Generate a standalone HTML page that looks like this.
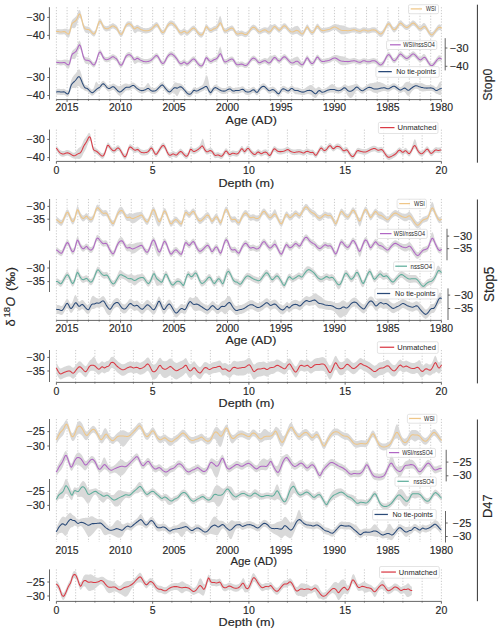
<!DOCTYPE html>
<html><head><meta charset="utf-8"><style>
html,body{margin:0;padding:0;background:#fff;}
svg{display:block;}
text{font-family:"Liberation Sans", sans-serif;stroke:#262626;stroke-width:0.15px;paint-order:stroke;}
</style></head><body>
<svg width="500" height="633" viewBox="0 0 500 633">
<rect width="500" height="633" fill="#fff"/>
<line x1="56.40" y1="7.20" x2="56.40" y2="99.60" stroke="#bdbdbd" stroke-width="0.8" stroke-dasharray="1.2,1.65"/>
<line x1="67.09" y1="7.20" x2="67.09" y2="99.60" stroke="#bdbdbd" stroke-width="0.8" stroke-dasharray="1.2,1.65"/>
<line x1="77.79" y1="7.20" x2="77.79" y2="99.60" stroke="#bdbdbd" stroke-width="0.8" stroke-dasharray="1.2,1.65"/>
<line x1="88.48" y1="7.20" x2="88.48" y2="99.60" stroke="#bdbdbd" stroke-width="0.8" stroke-dasharray="1.2,1.65"/>
<line x1="99.18" y1="7.20" x2="99.18" y2="99.60" stroke="#bdbdbd" stroke-width="0.8" stroke-dasharray="1.2,1.65"/>
<line x1="109.87" y1="7.20" x2="109.87" y2="99.60" stroke="#bdbdbd" stroke-width="0.8" stroke-dasharray="1.2,1.65"/>
<line x1="120.57" y1="7.20" x2="120.57" y2="99.60" stroke="#bdbdbd" stroke-width="0.8" stroke-dasharray="1.2,1.65"/>
<line x1="131.26" y1="7.20" x2="131.26" y2="99.60" stroke="#bdbdbd" stroke-width="0.8" stroke-dasharray="1.2,1.65"/>
<line x1="141.96" y1="7.20" x2="141.96" y2="99.60" stroke="#bdbdbd" stroke-width="0.8" stroke-dasharray="1.2,1.65"/>
<line x1="152.65" y1="7.20" x2="152.65" y2="99.60" stroke="#bdbdbd" stroke-width="0.8" stroke-dasharray="1.2,1.65"/>
<line x1="163.34" y1="7.20" x2="163.34" y2="99.60" stroke="#bdbdbd" stroke-width="0.8" stroke-dasharray="1.2,1.65"/>
<line x1="174.04" y1="7.20" x2="174.04" y2="99.60" stroke="#bdbdbd" stroke-width="0.8" stroke-dasharray="1.2,1.65"/>
<line x1="184.73" y1="7.20" x2="184.73" y2="99.60" stroke="#bdbdbd" stroke-width="0.8" stroke-dasharray="1.2,1.65"/>
<line x1="195.43" y1="7.20" x2="195.43" y2="99.60" stroke="#bdbdbd" stroke-width="0.8" stroke-dasharray="1.2,1.65"/>
<line x1="206.12" y1="7.20" x2="206.12" y2="99.60" stroke="#bdbdbd" stroke-width="0.8" stroke-dasharray="1.2,1.65"/>
<line x1="216.82" y1="7.20" x2="216.82" y2="99.60" stroke="#bdbdbd" stroke-width="0.8" stroke-dasharray="1.2,1.65"/>
<line x1="227.51" y1="7.20" x2="227.51" y2="99.60" stroke="#bdbdbd" stroke-width="0.8" stroke-dasharray="1.2,1.65"/>
<line x1="238.21" y1="7.20" x2="238.21" y2="99.60" stroke="#bdbdbd" stroke-width="0.8" stroke-dasharray="1.2,1.65"/>
<line x1="248.90" y1="7.20" x2="248.90" y2="99.60" stroke="#bdbdbd" stroke-width="0.8" stroke-dasharray="1.2,1.65"/>
<line x1="259.59" y1="7.20" x2="259.59" y2="99.60" stroke="#bdbdbd" stroke-width="0.8" stroke-dasharray="1.2,1.65"/>
<line x1="270.29" y1="7.20" x2="270.29" y2="99.60" stroke="#bdbdbd" stroke-width="0.8" stroke-dasharray="1.2,1.65"/>
<line x1="280.98" y1="7.20" x2="280.98" y2="99.60" stroke="#bdbdbd" stroke-width="0.8" stroke-dasharray="1.2,1.65"/>
<line x1="291.68" y1="7.20" x2="291.68" y2="99.60" stroke="#bdbdbd" stroke-width="0.8" stroke-dasharray="1.2,1.65"/>
<line x1="302.37" y1="7.20" x2="302.37" y2="99.60" stroke="#bdbdbd" stroke-width="0.8" stroke-dasharray="1.2,1.65"/>
<line x1="313.07" y1="7.20" x2="313.07" y2="99.60" stroke="#bdbdbd" stroke-width="0.8" stroke-dasharray="1.2,1.65"/>
<line x1="323.76" y1="7.20" x2="323.76" y2="99.60" stroke="#bdbdbd" stroke-width="0.8" stroke-dasharray="1.2,1.65"/>
<line x1="334.46" y1="7.20" x2="334.46" y2="99.60" stroke="#bdbdbd" stroke-width="0.8" stroke-dasharray="1.2,1.65"/>
<line x1="345.15" y1="7.20" x2="345.15" y2="99.60" stroke="#bdbdbd" stroke-width="0.8" stroke-dasharray="1.2,1.65"/>
<line x1="355.84" y1="7.20" x2="355.84" y2="99.60" stroke="#bdbdbd" stroke-width="0.8" stroke-dasharray="1.2,1.65"/>
<line x1="366.54" y1="7.20" x2="366.54" y2="99.60" stroke="#bdbdbd" stroke-width="0.8" stroke-dasharray="1.2,1.65"/>
<line x1="377.23" y1="7.20" x2="377.23" y2="99.60" stroke="#bdbdbd" stroke-width="0.8" stroke-dasharray="1.2,1.65"/>
<line x1="387.93" y1="7.20" x2="387.93" y2="99.60" stroke="#bdbdbd" stroke-width="0.8" stroke-dasharray="1.2,1.65"/>
<line x1="398.62" y1="7.20" x2="398.62" y2="99.60" stroke="#bdbdbd" stroke-width="0.8" stroke-dasharray="1.2,1.65"/>
<line x1="409.32" y1="7.20" x2="409.32" y2="99.60" stroke="#bdbdbd" stroke-width="0.8" stroke-dasharray="1.2,1.65"/>
<line x1="420.01" y1="7.20" x2="420.01" y2="99.60" stroke="#bdbdbd" stroke-width="0.8" stroke-dasharray="1.2,1.65"/>
<line x1="430.71" y1="7.20" x2="430.71" y2="99.60" stroke="#bdbdbd" stroke-width="0.8" stroke-dasharray="1.2,1.65"/>
<line x1="441.40" y1="7.20" x2="441.40" y2="99.60" stroke="#bdbdbd" stroke-width="0.8" stroke-dasharray="1.2,1.65"/>
<line x1="56.40" y1="129.60" x2="56.40" y2="161.40" stroke="#bdbdbd" stroke-width="0.8" stroke-dasharray="1.2,1.65"/>
<line x1="75.65" y1="129.60" x2="75.65" y2="161.40" stroke="#bdbdbd" stroke-width="0.8" stroke-dasharray="1.2,1.65"/>
<line x1="94.90" y1="129.60" x2="94.90" y2="161.40" stroke="#bdbdbd" stroke-width="0.8" stroke-dasharray="1.2,1.65"/>
<line x1="114.15" y1="129.60" x2="114.15" y2="161.40" stroke="#bdbdbd" stroke-width="0.8" stroke-dasharray="1.2,1.65"/>
<line x1="133.40" y1="129.60" x2="133.40" y2="161.40" stroke="#bdbdbd" stroke-width="0.8" stroke-dasharray="1.2,1.65"/>
<line x1="152.65" y1="129.60" x2="152.65" y2="161.40" stroke="#bdbdbd" stroke-width="0.8" stroke-dasharray="1.2,1.65"/>
<line x1="171.90" y1="129.60" x2="171.90" y2="161.40" stroke="#bdbdbd" stroke-width="0.8" stroke-dasharray="1.2,1.65"/>
<line x1="191.15" y1="129.60" x2="191.15" y2="161.40" stroke="#bdbdbd" stroke-width="0.8" stroke-dasharray="1.2,1.65"/>
<line x1="210.40" y1="129.60" x2="210.40" y2="161.40" stroke="#bdbdbd" stroke-width="0.8" stroke-dasharray="1.2,1.65"/>
<line x1="229.65" y1="129.60" x2="229.65" y2="161.40" stroke="#bdbdbd" stroke-width="0.8" stroke-dasharray="1.2,1.65"/>
<line x1="248.90" y1="129.60" x2="248.90" y2="161.40" stroke="#bdbdbd" stroke-width="0.8" stroke-dasharray="1.2,1.65"/>
<line x1="268.15" y1="129.60" x2="268.15" y2="161.40" stroke="#bdbdbd" stroke-width="0.8" stroke-dasharray="1.2,1.65"/>
<line x1="287.40" y1="129.60" x2="287.40" y2="161.40" stroke="#bdbdbd" stroke-width="0.8" stroke-dasharray="1.2,1.65"/>
<line x1="306.65" y1="129.60" x2="306.65" y2="161.40" stroke="#bdbdbd" stroke-width="0.8" stroke-dasharray="1.2,1.65"/>
<line x1="325.90" y1="129.60" x2="325.90" y2="161.40" stroke="#bdbdbd" stroke-width="0.8" stroke-dasharray="1.2,1.65"/>
<line x1="345.15" y1="129.60" x2="345.15" y2="161.40" stroke="#bdbdbd" stroke-width="0.8" stroke-dasharray="1.2,1.65"/>
<line x1="364.40" y1="129.60" x2="364.40" y2="161.40" stroke="#bdbdbd" stroke-width="0.8" stroke-dasharray="1.2,1.65"/>
<line x1="383.65" y1="129.60" x2="383.65" y2="161.40" stroke="#bdbdbd" stroke-width="0.8" stroke-dasharray="1.2,1.65"/>
<line x1="402.90" y1="129.60" x2="402.90" y2="161.40" stroke="#bdbdbd" stroke-width="0.8" stroke-dasharray="1.2,1.65"/>
<line x1="422.15" y1="129.60" x2="422.15" y2="161.40" stroke="#bdbdbd" stroke-width="0.8" stroke-dasharray="1.2,1.65"/>
<line x1="441.40" y1="129.60" x2="441.40" y2="161.40" stroke="#bdbdbd" stroke-width="0.8" stroke-dasharray="1.2,1.65"/>
<line x1="49.40" y1="7.20" x2="49.40" y2="39.60" stroke="#555555" stroke-width="0.9" />
<line x1="47.20" y1="17.40" x2="49.40" y2="17.40" stroke="#555555" stroke-width="0.9" />
<text x="44.80" y="20.90" font-size="10.0" text-anchor="end" textLength="18.40" lengthAdjust="spacingAndGlyphs" fill="#262626" >−30</text>
<line x1="47.20" y1="35.40" x2="49.40" y2="35.40" stroke="#555555" stroke-width="0.9" />
<text x="44.80" y="38.90" font-size="10.0" text-anchor="end" textLength="18.40" lengthAdjust="spacingAndGlyphs" fill="#262626" >−40</text>
<line x1="49.50" y1="67.50" x2="49.50" y2="99.60" stroke="#555555" stroke-width="0.9" />
<line x1="47.30" y1="77.50" x2="49.50" y2="77.50" stroke="#555555" stroke-width="0.9" />
<text x="44.90" y="81.00" font-size="10.0" text-anchor="end" textLength="18.40" lengthAdjust="spacingAndGlyphs" fill="#262626" >−30</text>
<line x1="47.30" y1="95.50" x2="49.50" y2="95.50" stroke="#555555" stroke-width="0.9" />
<text x="44.90" y="99.00" font-size="10.0" text-anchor="end" textLength="18.40" lengthAdjust="spacingAndGlyphs" fill="#262626" >−40</text>
<line x1="445.20" y1="38.20" x2="445.20" y2="70.40" stroke="#555555" stroke-width="0.9" />
<line x1="445.20" y1="48.00" x2="447.40" y2="48.00" stroke="#555555" stroke-width="0.9" />
<text x="449.90" y="51.50" font-size="10.0" text-anchor="start" textLength="18.60" lengthAdjust="spacingAndGlyphs" fill="#262626" >−30</text>
<line x1="445.20" y1="66.30" x2="447.40" y2="66.30" stroke="#555555" stroke-width="0.9" />
<text x="449.90" y="69.80" font-size="10.0" text-anchor="start" textLength="18.60" lengthAdjust="spacingAndGlyphs" fill="#262626" >−40</text>
<line x1="56.40" y1="99.60" x2="441.40" y2="99.60" stroke="#555555" stroke-width="0.9" />
<line x1="56.40" y1="99.60" x2="56.40" y2="100.70" stroke="#555555" stroke-width="0.9" />
<line x1="67.09" y1="99.60" x2="67.09" y2="101.90" stroke="#555555" stroke-width="0.9" />
<line x1="77.79" y1="99.60" x2="77.79" y2="100.70" stroke="#555555" stroke-width="0.9" />
<line x1="88.48" y1="99.60" x2="88.48" y2="100.70" stroke="#555555" stroke-width="0.9" />
<line x1="99.18" y1="99.60" x2="99.18" y2="100.70" stroke="#555555" stroke-width="0.9" />
<line x1="109.87" y1="99.60" x2="109.87" y2="100.70" stroke="#555555" stroke-width="0.9" />
<line x1="120.57" y1="99.60" x2="120.57" y2="101.90" stroke="#555555" stroke-width="0.9" />
<line x1="131.26" y1="99.60" x2="131.26" y2="100.70" stroke="#555555" stroke-width="0.9" />
<line x1="141.96" y1="99.60" x2="141.96" y2="100.70" stroke="#555555" stroke-width="0.9" />
<line x1="152.65" y1="99.60" x2="152.65" y2="100.70" stroke="#555555" stroke-width="0.9" />
<line x1="163.34" y1="99.60" x2="163.34" y2="100.70" stroke="#555555" stroke-width="0.9" />
<line x1="174.04" y1="99.60" x2="174.04" y2="101.90" stroke="#555555" stroke-width="0.9" />
<line x1="184.73" y1="99.60" x2="184.73" y2="100.70" stroke="#555555" stroke-width="0.9" />
<line x1="195.43" y1="99.60" x2="195.43" y2="100.70" stroke="#555555" stroke-width="0.9" />
<line x1="206.12" y1="99.60" x2="206.12" y2="100.70" stroke="#555555" stroke-width="0.9" />
<line x1="216.82" y1="99.60" x2="216.82" y2="100.70" stroke="#555555" stroke-width="0.9" />
<line x1="227.51" y1="99.60" x2="227.51" y2="101.90" stroke="#555555" stroke-width="0.9" />
<line x1="238.21" y1="99.60" x2="238.21" y2="100.70" stroke="#555555" stroke-width="0.9" />
<line x1="248.90" y1="99.60" x2="248.90" y2="100.70" stroke="#555555" stroke-width="0.9" />
<line x1="259.59" y1="99.60" x2="259.59" y2="100.70" stroke="#555555" stroke-width="0.9" />
<line x1="270.29" y1="99.60" x2="270.29" y2="100.70" stroke="#555555" stroke-width="0.9" />
<line x1="280.98" y1="99.60" x2="280.98" y2="101.90" stroke="#555555" stroke-width="0.9" />
<line x1="291.68" y1="99.60" x2="291.68" y2="100.70" stroke="#555555" stroke-width="0.9" />
<line x1="302.37" y1="99.60" x2="302.37" y2="100.70" stroke="#555555" stroke-width="0.9" />
<line x1="313.07" y1="99.60" x2="313.07" y2="100.70" stroke="#555555" stroke-width="0.9" />
<line x1="323.76" y1="99.60" x2="323.76" y2="100.70" stroke="#555555" stroke-width="0.9" />
<line x1="334.46" y1="99.60" x2="334.46" y2="101.90" stroke="#555555" stroke-width="0.9" />
<line x1="345.15" y1="99.60" x2="345.15" y2="100.70" stroke="#555555" stroke-width="0.9" />
<line x1="355.84" y1="99.60" x2="355.84" y2="100.70" stroke="#555555" stroke-width="0.9" />
<line x1="366.54" y1="99.60" x2="366.54" y2="100.70" stroke="#555555" stroke-width="0.9" />
<line x1="377.23" y1="99.60" x2="377.23" y2="100.70" stroke="#555555" stroke-width="0.9" />
<line x1="387.93" y1="99.60" x2="387.93" y2="101.90" stroke="#555555" stroke-width="0.9" />
<line x1="398.62" y1="99.60" x2="398.62" y2="100.70" stroke="#555555" stroke-width="0.9" />
<line x1="409.32" y1="99.60" x2="409.32" y2="100.70" stroke="#555555" stroke-width="0.9" />
<line x1="420.01" y1="99.60" x2="420.01" y2="100.70" stroke="#555555" stroke-width="0.9" />
<line x1="430.71" y1="99.60" x2="430.71" y2="100.70" stroke="#555555" stroke-width="0.9" />
<line x1="441.40" y1="99.60" x2="441.40" y2="101.90" stroke="#555555" stroke-width="0.9" />
<text x="67.09" y="111.10" font-size="10.0" text-anchor="middle" textLength="23.10" lengthAdjust="spacingAndGlyphs" fill="#262626" >2015</text>
<text x="120.57" y="111.10" font-size="10.0" text-anchor="middle" textLength="23.10" lengthAdjust="spacingAndGlyphs" fill="#262626" >2010</text>
<text x="174.04" y="111.10" font-size="10.0" text-anchor="middle" textLength="23.10" lengthAdjust="spacingAndGlyphs" fill="#262626" >2005</text>
<text x="227.51" y="111.10" font-size="10.0" text-anchor="middle" textLength="23.10" lengthAdjust="spacingAndGlyphs" fill="#262626" >2000</text>
<text x="280.98" y="111.10" font-size="10.0" text-anchor="middle" textLength="23.10" lengthAdjust="spacingAndGlyphs" fill="#262626" >1995</text>
<text x="334.46" y="111.10" font-size="10.0" text-anchor="middle" textLength="23.10" lengthAdjust="spacingAndGlyphs" fill="#262626" >1990</text>
<text x="387.93" y="111.10" font-size="10.0" text-anchor="middle" textLength="23.10" lengthAdjust="spacingAndGlyphs" fill="#262626" >1985</text>
<text x="441.40" y="111.10" font-size="10.0" text-anchor="middle" textLength="23.10" lengthAdjust="spacingAndGlyphs" fill="#262626" >1980</text>
<text x="251.20" y="124.40" font-size="11.4" text-anchor="middle" textLength="51.20" lengthAdjust="spacingAndGlyphs" fill="#262626" >Age (AD)</text>
<line x1="49.50" y1="129.60" x2="49.50" y2="161.00" stroke="#555555" stroke-width="0.9" />
<line x1="47.30" y1="139.40" x2="49.50" y2="139.40" stroke="#555555" stroke-width="0.9" />
<text x="44.90" y="142.90" font-size="10.0" text-anchor="end" textLength="18.40" lengthAdjust="spacingAndGlyphs" fill="#262626" >−30</text>
<line x1="47.30" y1="157.60" x2="49.50" y2="157.60" stroke="#555555" stroke-width="0.9" />
<text x="44.90" y="161.10" font-size="10.0" text-anchor="end" textLength="18.40" lengthAdjust="spacingAndGlyphs" fill="#262626" >−40</text>
<line x1="56.40" y1="161.40" x2="441.40" y2="161.40" stroke="#555555" stroke-width="0.9" />
<line x1="56.40" y1="161.40" x2="56.40" y2="163.70" stroke="#555555" stroke-width="0.9" />
<line x1="75.65" y1="161.40" x2="75.65" y2="162.50" stroke="#555555" stroke-width="0.9" />
<line x1="94.90" y1="161.40" x2="94.90" y2="162.50" stroke="#555555" stroke-width="0.9" />
<line x1="114.15" y1="161.40" x2="114.15" y2="162.50" stroke="#555555" stroke-width="0.9" />
<line x1="133.40" y1="161.40" x2="133.40" y2="162.50" stroke="#555555" stroke-width="0.9" />
<line x1="152.65" y1="161.40" x2="152.65" y2="163.70" stroke="#555555" stroke-width="0.9" />
<line x1="171.90" y1="161.40" x2="171.90" y2="162.50" stroke="#555555" stroke-width="0.9" />
<line x1="191.15" y1="161.40" x2="191.15" y2="162.50" stroke="#555555" stroke-width="0.9" />
<line x1="210.40" y1="161.40" x2="210.40" y2="162.50" stroke="#555555" stroke-width="0.9" />
<line x1="229.65" y1="161.40" x2="229.65" y2="162.50" stroke="#555555" stroke-width="0.9" />
<line x1="248.90" y1="161.40" x2="248.90" y2="163.70" stroke="#555555" stroke-width="0.9" />
<line x1="268.15" y1="161.40" x2="268.15" y2="162.50" stroke="#555555" stroke-width="0.9" />
<line x1="287.40" y1="161.40" x2="287.40" y2="162.50" stroke="#555555" stroke-width="0.9" />
<line x1="306.65" y1="161.40" x2="306.65" y2="162.50" stroke="#555555" stroke-width="0.9" />
<line x1="325.90" y1="161.40" x2="325.90" y2="162.50" stroke="#555555" stroke-width="0.9" />
<line x1="345.15" y1="161.40" x2="345.15" y2="163.70" stroke="#555555" stroke-width="0.9" />
<line x1="364.40" y1="161.40" x2="364.40" y2="162.50" stroke="#555555" stroke-width="0.9" />
<line x1="383.65" y1="161.40" x2="383.65" y2="162.50" stroke="#555555" stroke-width="0.9" />
<line x1="402.90" y1="161.40" x2="402.90" y2="162.50" stroke="#555555" stroke-width="0.9" />
<line x1="422.15" y1="161.40" x2="422.15" y2="162.50" stroke="#555555" stroke-width="0.9" />
<line x1="441.40" y1="161.40" x2="441.40" y2="163.70" stroke="#555555" stroke-width="0.9" />
<text x="56.40" y="174.00" font-size="10.0" text-anchor="middle" textLength="5.85" lengthAdjust="spacingAndGlyphs" fill="#262626" >0</text>
<text x="152.65" y="174.00" font-size="10.0" text-anchor="middle" textLength="5.85" lengthAdjust="spacingAndGlyphs" fill="#262626" >5</text>
<text x="248.90" y="174.00" font-size="10.0" text-anchor="middle" textLength="11.70" lengthAdjust="spacingAndGlyphs" fill="#262626" >10</text>
<text x="345.15" y="174.00" font-size="10.0" text-anchor="middle" textLength="11.70" lengthAdjust="spacingAndGlyphs" fill="#262626" >15</text>
<text x="441.40" y="174.00" font-size="10.0" text-anchor="middle" textLength="11.70" lengthAdjust="spacingAndGlyphs" fill="#262626" >20</text>
<text x="246.30" y="186.80" font-size="11.4" text-anchor="middle" textLength="55.80" lengthAdjust="spacingAndGlyphs" fill="#262626" >Depth (m)</text>
<line x1="477.40" y1="4.70" x2="477.40" y2="162.70" stroke="#333" stroke-width="1.0" />
<text transform="translate(492.0,84.7) rotate(-90)" font-size="12.8" text-anchor="middle" fill="#262626" textLength="32.0" lengthAdjust="spacingAndGlyphs">Stop0</text>
<line x1="56.40" y1="199.00" x2="56.40" y2="320.40" stroke="#bdbdbd" stroke-width="0.8" stroke-dasharray="1.2,1.65"/>
<line x1="67.09" y1="199.00" x2="67.09" y2="320.40" stroke="#bdbdbd" stroke-width="0.8" stroke-dasharray="1.2,1.65"/>
<line x1="77.79" y1="199.00" x2="77.79" y2="320.40" stroke="#bdbdbd" stroke-width="0.8" stroke-dasharray="1.2,1.65"/>
<line x1="88.48" y1="199.00" x2="88.48" y2="320.40" stroke="#bdbdbd" stroke-width="0.8" stroke-dasharray="1.2,1.65"/>
<line x1="99.18" y1="199.00" x2="99.18" y2="320.40" stroke="#bdbdbd" stroke-width="0.8" stroke-dasharray="1.2,1.65"/>
<line x1="109.87" y1="199.00" x2="109.87" y2="320.40" stroke="#bdbdbd" stroke-width="0.8" stroke-dasharray="1.2,1.65"/>
<line x1="120.57" y1="199.00" x2="120.57" y2="320.40" stroke="#bdbdbd" stroke-width="0.8" stroke-dasharray="1.2,1.65"/>
<line x1="131.26" y1="199.00" x2="131.26" y2="320.40" stroke="#bdbdbd" stroke-width="0.8" stroke-dasharray="1.2,1.65"/>
<line x1="141.96" y1="199.00" x2="141.96" y2="320.40" stroke="#bdbdbd" stroke-width="0.8" stroke-dasharray="1.2,1.65"/>
<line x1="152.65" y1="199.00" x2="152.65" y2="320.40" stroke="#bdbdbd" stroke-width="0.8" stroke-dasharray="1.2,1.65"/>
<line x1="163.34" y1="199.00" x2="163.34" y2="320.40" stroke="#bdbdbd" stroke-width="0.8" stroke-dasharray="1.2,1.65"/>
<line x1="174.04" y1="199.00" x2="174.04" y2="320.40" stroke="#bdbdbd" stroke-width="0.8" stroke-dasharray="1.2,1.65"/>
<line x1="184.73" y1="199.00" x2="184.73" y2="320.40" stroke="#bdbdbd" stroke-width="0.8" stroke-dasharray="1.2,1.65"/>
<line x1="195.43" y1="199.00" x2="195.43" y2="320.40" stroke="#bdbdbd" stroke-width="0.8" stroke-dasharray="1.2,1.65"/>
<line x1="206.12" y1="199.00" x2="206.12" y2="320.40" stroke="#bdbdbd" stroke-width="0.8" stroke-dasharray="1.2,1.65"/>
<line x1="216.82" y1="199.00" x2="216.82" y2="320.40" stroke="#bdbdbd" stroke-width="0.8" stroke-dasharray="1.2,1.65"/>
<line x1="227.51" y1="199.00" x2="227.51" y2="320.40" stroke="#bdbdbd" stroke-width="0.8" stroke-dasharray="1.2,1.65"/>
<line x1="238.21" y1="199.00" x2="238.21" y2="320.40" stroke="#bdbdbd" stroke-width="0.8" stroke-dasharray="1.2,1.65"/>
<line x1="248.90" y1="199.00" x2="248.90" y2="320.40" stroke="#bdbdbd" stroke-width="0.8" stroke-dasharray="1.2,1.65"/>
<line x1="259.59" y1="199.00" x2="259.59" y2="320.40" stroke="#bdbdbd" stroke-width="0.8" stroke-dasharray="1.2,1.65"/>
<line x1="270.29" y1="199.00" x2="270.29" y2="320.40" stroke="#bdbdbd" stroke-width="0.8" stroke-dasharray="1.2,1.65"/>
<line x1="280.98" y1="199.00" x2="280.98" y2="320.40" stroke="#bdbdbd" stroke-width="0.8" stroke-dasharray="1.2,1.65"/>
<line x1="291.68" y1="199.00" x2="291.68" y2="320.40" stroke="#bdbdbd" stroke-width="0.8" stroke-dasharray="1.2,1.65"/>
<line x1="302.37" y1="199.00" x2="302.37" y2="320.40" stroke="#bdbdbd" stroke-width="0.8" stroke-dasharray="1.2,1.65"/>
<line x1="313.07" y1="199.00" x2="313.07" y2="320.40" stroke="#bdbdbd" stroke-width="0.8" stroke-dasharray="1.2,1.65"/>
<line x1="323.76" y1="199.00" x2="323.76" y2="320.40" stroke="#bdbdbd" stroke-width="0.8" stroke-dasharray="1.2,1.65"/>
<line x1="334.46" y1="199.00" x2="334.46" y2="320.40" stroke="#bdbdbd" stroke-width="0.8" stroke-dasharray="1.2,1.65"/>
<line x1="345.15" y1="199.00" x2="345.15" y2="320.40" stroke="#bdbdbd" stroke-width="0.8" stroke-dasharray="1.2,1.65"/>
<line x1="355.84" y1="199.00" x2="355.84" y2="320.40" stroke="#bdbdbd" stroke-width="0.8" stroke-dasharray="1.2,1.65"/>
<line x1="366.54" y1="199.00" x2="366.54" y2="320.40" stroke="#bdbdbd" stroke-width="0.8" stroke-dasharray="1.2,1.65"/>
<line x1="377.23" y1="199.00" x2="377.23" y2="320.40" stroke="#bdbdbd" stroke-width="0.8" stroke-dasharray="1.2,1.65"/>
<line x1="387.93" y1="199.00" x2="387.93" y2="320.40" stroke="#bdbdbd" stroke-width="0.8" stroke-dasharray="1.2,1.65"/>
<line x1="398.62" y1="199.00" x2="398.62" y2="320.40" stroke="#bdbdbd" stroke-width="0.8" stroke-dasharray="1.2,1.65"/>
<line x1="409.32" y1="199.00" x2="409.32" y2="320.40" stroke="#bdbdbd" stroke-width="0.8" stroke-dasharray="1.2,1.65"/>
<line x1="420.01" y1="199.00" x2="420.01" y2="320.40" stroke="#bdbdbd" stroke-width="0.8" stroke-dasharray="1.2,1.65"/>
<line x1="430.71" y1="199.00" x2="430.71" y2="320.40" stroke="#bdbdbd" stroke-width="0.8" stroke-dasharray="1.2,1.65"/>
<line x1="441.40" y1="199.00" x2="441.40" y2="320.40" stroke="#bdbdbd" stroke-width="0.8" stroke-dasharray="1.2,1.65"/>
<line x1="56.40" y1="350.00" x2="56.40" y2="382.40" stroke="#bdbdbd" stroke-width="0.8" stroke-dasharray="1.2,1.65"/>
<line x1="75.65" y1="350.00" x2="75.65" y2="382.40" stroke="#bdbdbd" stroke-width="0.8" stroke-dasharray="1.2,1.65"/>
<line x1="94.90" y1="350.00" x2="94.90" y2="382.40" stroke="#bdbdbd" stroke-width="0.8" stroke-dasharray="1.2,1.65"/>
<line x1="114.15" y1="350.00" x2="114.15" y2="382.40" stroke="#bdbdbd" stroke-width="0.8" stroke-dasharray="1.2,1.65"/>
<line x1="133.40" y1="350.00" x2="133.40" y2="382.40" stroke="#bdbdbd" stroke-width="0.8" stroke-dasharray="1.2,1.65"/>
<line x1="152.65" y1="350.00" x2="152.65" y2="382.40" stroke="#bdbdbd" stroke-width="0.8" stroke-dasharray="1.2,1.65"/>
<line x1="171.90" y1="350.00" x2="171.90" y2="382.40" stroke="#bdbdbd" stroke-width="0.8" stroke-dasharray="1.2,1.65"/>
<line x1="191.15" y1="350.00" x2="191.15" y2="382.40" stroke="#bdbdbd" stroke-width="0.8" stroke-dasharray="1.2,1.65"/>
<line x1="210.40" y1="350.00" x2="210.40" y2="382.40" stroke="#bdbdbd" stroke-width="0.8" stroke-dasharray="1.2,1.65"/>
<line x1="229.65" y1="350.00" x2="229.65" y2="382.40" stroke="#bdbdbd" stroke-width="0.8" stroke-dasharray="1.2,1.65"/>
<line x1="248.90" y1="350.00" x2="248.90" y2="382.40" stroke="#bdbdbd" stroke-width="0.8" stroke-dasharray="1.2,1.65"/>
<line x1="268.15" y1="350.00" x2="268.15" y2="382.40" stroke="#bdbdbd" stroke-width="0.8" stroke-dasharray="1.2,1.65"/>
<line x1="287.40" y1="350.00" x2="287.40" y2="382.40" stroke="#bdbdbd" stroke-width="0.8" stroke-dasharray="1.2,1.65"/>
<line x1="306.65" y1="350.00" x2="306.65" y2="382.40" stroke="#bdbdbd" stroke-width="0.8" stroke-dasharray="1.2,1.65"/>
<line x1="325.90" y1="350.00" x2="325.90" y2="382.40" stroke="#bdbdbd" stroke-width="0.8" stroke-dasharray="1.2,1.65"/>
<line x1="345.15" y1="350.00" x2="345.15" y2="382.40" stroke="#bdbdbd" stroke-width="0.8" stroke-dasharray="1.2,1.65"/>
<line x1="364.40" y1="350.00" x2="364.40" y2="382.40" stroke="#bdbdbd" stroke-width="0.8" stroke-dasharray="1.2,1.65"/>
<line x1="383.65" y1="350.00" x2="383.65" y2="382.40" stroke="#bdbdbd" stroke-width="0.8" stroke-dasharray="1.2,1.65"/>
<line x1="402.90" y1="350.00" x2="402.90" y2="382.40" stroke="#bdbdbd" stroke-width="0.8" stroke-dasharray="1.2,1.65"/>
<line x1="422.15" y1="350.00" x2="422.15" y2="382.40" stroke="#bdbdbd" stroke-width="0.8" stroke-dasharray="1.2,1.65"/>
<line x1="441.40" y1="350.00" x2="441.40" y2="382.40" stroke="#bdbdbd" stroke-width="0.8" stroke-dasharray="1.2,1.65"/>
<line x1="49.60" y1="199.00" x2="49.60" y2="230.80" stroke="#555555" stroke-width="0.9" />
<line x1="47.40" y1="206.40" x2="49.60" y2="206.40" stroke="#555555" stroke-width="0.9" />
<text x="45.00" y="209.90" font-size="10.0" text-anchor="end" textLength="18.40" lengthAdjust="spacingAndGlyphs" fill="#262626" >−30</text>
<line x1="47.40" y1="219.20" x2="49.60" y2="219.20" stroke="#555555" stroke-width="0.9" />
<text x="45.00" y="222.70" font-size="10.0" text-anchor="end" textLength="18.40" lengthAdjust="spacingAndGlyphs" fill="#262626" >−35</text>
<line x1="49.50" y1="260.40" x2="49.50" y2="292.00" stroke="#555555" stroke-width="0.9" />
<line x1="47.30" y1="268.00" x2="49.50" y2="268.00" stroke="#555555" stroke-width="0.9" />
<text x="44.90" y="271.50" font-size="10.0" text-anchor="end" textLength="18.40" lengthAdjust="spacingAndGlyphs" fill="#262626" >−30</text>
<line x1="47.30" y1="281.60" x2="49.50" y2="281.60" stroke="#555555" stroke-width="0.9" />
<text x="44.90" y="285.10" font-size="10.0" text-anchor="end" textLength="18.40" lengthAdjust="spacingAndGlyphs" fill="#262626" >−35</text>
<line x1="447.00" y1="228.80" x2="447.00" y2="260.30" stroke="#555555" stroke-width="0.9" />
<line x1="447.00" y1="236.10" x2="449.20" y2="236.10" stroke="#555555" stroke-width="0.9" />
<text x="453.50" y="239.60" font-size="10.0" text-anchor="start" textLength="18.60" lengthAdjust="spacingAndGlyphs" fill="#262626" >−30</text>
<line x1="447.00" y1="248.70" x2="449.20" y2="248.70" stroke="#555555" stroke-width="0.9" />
<text x="453.50" y="252.20" font-size="10.0" text-anchor="start" textLength="18.60" lengthAdjust="spacingAndGlyphs" fill="#262626" >−35</text>
<line x1="448.00" y1="288.40" x2="448.00" y2="320.00" stroke="#555555" stroke-width="0.9" />
<line x1="448.00" y1="295.10" x2="450.20" y2="295.10" stroke="#555555" stroke-width="0.9" />
<text x="454.50" y="298.60" font-size="10.0" text-anchor="start" textLength="18.60" lengthAdjust="spacingAndGlyphs" fill="#262626" >−30</text>
<line x1="448.00" y1="308.50" x2="450.20" y2="308.50" stroke="#555555" stroke-width="0.9" />
<text x="454.50" y="312.00" font-size="10.0" text-anchor="start" textLength="18.60" lengthAdjust="spacingAndGlyphs" fill="#262626" >−35</text>
<line x1="56.40" y1="320.40" x2="441.40" y2="320.40" stroke="#555555" stroke-width="0.9" />
<line x1="56.40" y1="320.40" x2="56.40" y2="321.50" stroke="#555555" stroke-width="0.9" />
<line x1="67.09" y1="320.40" x2="67.09" y2="322.70" stroke="#555555" stroke-width="0.9" />
<line x1="77.79" y1="320.40" x2="77.79" y2="321.50" stroke="#555555" stroke-width="0.9" />
<line x1="88.48" y1="320.40" x2="88.48" y2="321.50" stroke="#555555" stroke-width="0.9" />
<line x1="99.18" y1="320.40" x2="99.18" y2="321.50" stroke="#555555" stroke-width="0.9" />
<line x1="109.87" y1="320.40" x2="109.87" y2="321.50" stroke="#555555" stroke-width="0.9" />
<line x1="120.57" y1="320.40" x2="120.57" y2="322.70" stroke="#555555" stroke-width="0.9" />
<line x1="131.26" y1="320.40" x2="131.26" y2="321.50" stroke="#555555" stroke-width="0.9" />
<line x1="141.96" y1="320.40" x2="141.96" y2="321.50" stroke="#555555" stroke-width="0.9" />
<line x1="152.65" y1="320.40" x2="152.65" y2="321.50" stroke="#555555" stroke-width="0.9" />
<line x1="163.34" y1="320.40" x2="163.34" y2="321.50" stroke="#555555" stroke-width="0.9" />
<line x1="174.04" y1="320.40" x2="174.04" y2="322.70" stroke="#555555" stroke-width="0.9" />
<line x1="184.73" y1="320.40" x2="184.73" y2="321.50" stroke="#555555" stroke-width="0.9" />
<line x1="195.43" y1="320.40" x2="195.43" y2="321.50" stroke="#555555" stroke-width="0.9" />
<line x1="206.12" y1="320.40" x2="206.12" y2="321.50" stroke="#555555" stroke-width="0.9" />
<line x1="216.82" y1="320.40" x2="216.82" y2="321.50" stroke="#555555" stroke-width="0.9" />
<line x1="227.51" y1="320.40" x2="227.51" y2="322.70" stroke="#555555" stroke-width="0.9" />
<line x1="238.21" y1="320.40" x2="238.21" y2="321.50" stroke="#555555" stroke-width="0.9" />
<line x1="248.90" y1="320.40" x2="248.90" y2="321.50" stroke="#555555" stroke-width="0.9" />
<line x1="259.59" y1="320.40" x2="259.59" y2="321.50" stroke="#555555" stroke-width="0.9" />
<line x1="270.29" y1="320.40" x2="270.29" y2="321.50" stroke="#555555" stroke-width="0.9" />
<line x1="280.98" y1="320.40" x2="280.98" y2="322.70" stroke="#555555" stroke-width="0.9" />
<line x1="291.68" y1="320.40" x2="291.68" y2="321.50" stroke="#555555" stroke-width="0.9" />
<line x1="302.37" y1="320.40" x2="302.37" y2="321.50" stroke="#555555" stroke-width="0.9" />
<line x1="313.07" y1="320.40" x2="313.07" y2="321.50" stroke="#555555" stroke-width="0.9" />
<line x1="323.76" y1="320.40" x2="323.76" y2="321.50" stroke="#555555" stroke-width="0.9" />
<line x1="334.46" y1="320.40" x2="334.46" y2="322.70" stroke="#555555" stroke-width="0.9" />
<line x1="345.15" y1="320.40" x2="345.15" y2="321.50" stroke="#555555" stroke-width="0.9" />
<line x1="355.84" y1="320.40" x2="355.84" y2="321.50" stroke="#555555" stroke-width="0.9" />
<line x1="366.54" y1="320.40" x2="366.54" y2="321.50" stroke="#555555" stroke-width="0.9" />
<line x1="377.23" y1="320.40" x2="377.23" y2="321.50" stroke="#555555" stroke-width="0.9" />
<line x1="387.93" y1="320.40" x2="387.93" y2="322.70" stroke="#555555" stroke-width="0.9" />
<line x1="398.62" y1="320.40" x2="398.62" y2="321.50" stroke="#555555" stroke-width="0.9" />
<line x1="409.32" y1="320.40" x2="409.32" y2="321.50" stroke="#555555" stroke-width="0.9" />
<line x1="420.01" y1="320.40" x2="420.01" y2="321.50" stroke="#555555" stroke-width="0.9" />
<line x1="430.71" y1="320.40" x2="430.71" y2="321.50" stroke="#555555" stroke-width="0.9" />
<line x1="441.40" y1="320.40" x2="441.40" y2="322.70" stroke="#555555" stroke-width="0.9" />
<text x="67.09" y="332.30" font-size="10.0" text-anchor="middle" textLength="23.10" lengthAdjust="spacingAndGlyphs" fill="#262626" >2015</text>
<text x="120.57" y="332.30" font-size="10.0" text-anchor="middle" textLength="23.10" lengthAdjust="spacingAndGlyphs" fill="#262626" >2010</text>
<text x="174.04" y="332.30" font-size="10.0" text-anchor="middle" textLength="23.10" lengthAdjust="spacingAndGlyphs" fill="#262626" >2005</text>
<text x="227.51" y="332.30" font-size="10.0" text-anchor="middle" textLength="23.10" lengthAdjust="spacingAndGlyphs" fill="#262626" >2000</text>
<text x="280.98" y="332.30" font-size="10.0" text-anchor="middle" textLength="23.10" lengthAdjust="spacingAndGlyphs" fill="#262626" >1995</text>
<text x="334.46" y="332.30" font-size="10.0" text-anchor="middle" textLength="23.10" lengthAdjust="spacingAndGlyphs" fill="#262626" >1990</text>
<text x="387.93" y="332.30" font-size="10.0" text-anchor="middle" textLength="23.10" lengthAdjust="spacingAndGlyphs" fill="#262626" >1985</text>
<text x="441.40" y="332.30" font-size="10.0" text-anchor="middle" textLength="23.10" lengthAdjust="spacingAndGlyphs" fill="#262626" >1980</text>
<text x="250.90" y="343.90" font-size="11.4" text-anchor="middle" textLength="51.00" lengthAdjust="spacingAndGlyphs" fill="#262626" >Age (AD)</text>
<line x1="49.50" y1="350.00" x2="49.50" y2="382.00" stroke="#555555" stroke-width="0.9" />
<line x1="47.30" y1="357.40" x2="49.50" y2="357.40" stroke="#555555" stroke-width="0.9" />
<text x="44.90" y="360.90" font-size="10.0" text-anchor="end" textLength="18.40" lengthAdjust="spacingAndGlyphs" fill="#262626" >−30</text>
<line x1="47.30" y1="371.00" x2="49.50" y2="371.00" stroke="#555555" stroke-width="0.9" />
<text x="44.90" y="374.50" font-size="10.0" text-anchor="end" textLength="18.40" lengthAdjust="spacingAndGlyphs" fill="#262626" >−35</text>
<line x1="56.40" y1="382.40" x2="441.40" y2="382.40" stroke="#555555" stroke-width="0.9" />
<line x1="56.40" y1="382.40" x2="56.40" y2="384.70" stroke="#555555" stroke-width="0.9" />
<line x1="75.65" y1="382.40" x2="75.65" y2="383.50" stroke="#555555" stroke-width="0.9" />
<line x1="94.90" y1="382.40" x2="94.90" y2="383.50" stroke="#555555" stroke-width="0.9" />
<line x1="114.15" y1="382.40" x2="114.15" y2="383.50" stroke="#555555" stroke-width="0.9" />
<line x1="133.40" y1="382.40" x2="133.40" y2="383.50" stroke="#555555" stroke-width="0.9" />
<line x1="152.65" y1="382.40" x2="152.65" y2="384.70" stroke="#555555" stroke-width="0.9" />
<line x1="171.90" y1="382.40" x2="171.90" y2="383.50" stroke="#555555" stroke-width="0.9" />
<line x1="191.15" y1="382.40" x2="191.15" y2="383.50" stroke="#555555" stroke-width="0.9" />
<line x1="210.40" y1="382.40" x2="210.40" y2="383.50" stroke="#555555" stroke-width="0.9" />
<line x1="229.65" y1="382.40" x2="229.65" y2="383.50" stroke="#555555" stroke-width="0.9" />
<line x1="248.90" y1="382.40" x2="248.90" y2="384.70" stroke="#555555" stroke-width="0.9" />
<line x1="268.15" y1="382.40" x2="268.15" y2="383.50" stroke="#555555" stroke-width="0.9" />
<line x1="287.40" y1="382.40" x2="287.40" y2="383.50" stroke="#555555" stroke-width="0.9" />
<line x1="306.65" y1="382.40" x2="306.65" y2="383.50" stroke="#555555" stroke-width="0.9" />
<line x1="325.90" y1="382.40" x2="325.90" y2="383.50" stroke="#555555" stroke-width="0.9" />
<line x1="345.15" y1="382.40" x2="345.15" y2="384.70" stroke="#555555" stroke-width="0.9" />
<line x1="364.40" y1="382.40" x2="364.40" y2="383.50" stroke="#555555" stroke-width="0.9" />
<line x1="383.65" y1="382.40" x2="383.65" y2="383.50" stroke="#555555" stroke-width="0.9" />
<line x1="402.90" y1="382.40" x2="402.90" y2="383.50" stroke="#555555" stroke-width="0.9" />
<line x1="422.15" y1="382.40" x2="422.15" y2="383.50" stroke="#555555" stroke-width="0.9" />
<line x1="441.40" y1="382.40" x2="441.40" y2="384.70" stroke="#555555" stroke-width="0.9" />
<text x="56.40" y="395.00" font-size="10.0" text-anchor="middle" textLength="5.85" lengthAdjust="spacingAndGlyphs" fill="#262626" >0</text>
<text x="152.65" y="395.00" font-size="10.0" text-anchor="middle" textLength="5.85" lengthAdjust="spacingAndGlyphs" fill="#262626" >5</text>
<text x="248.90" y="395.00" font-size="10.0" text-anchor="middle" textLength="11.70" lengthAdjust="spacingAndGlyphs" fill="#262626" >10</text>
<text x="345.15" y="395.00" font-size="10.0" text-anchor="middle" textLength="11.70" lengthAdjust="spacingAndGlyphs" fill="#262626" >15</text>
<text x="441.40" y="395.00" font-size="10.0" text-anchor="middle" textLength="11.70" lengthAdjust="spacingAndGlyphs" fill="#262626" >20</text>
<text x="246.50" y="407.30" font-size="11.4" text-anchor="middle" textLength="55.80" lengthAdjust="spacingAndGlyphs" fill="#262626" >Depth (m)</text>
<line x1="477.40" y1="199.50" x2="477.40" y2="383.40" stroke="#333" stroke-width="1.0" />
<text transform="translate(494.1,284.3) rotate(-90)" font-size="13.8" text-anchor="middle" fill="#262626" textLength="35.2" lengthAdjust="spacingAndGlyphs">Stop5</text>
<line x1="56.40" y1="419.00" x2="56.40" y2="542.00" stroke="#bdbdbd" stroke-width="0.8" stroke-dasharray="1.2,1.65"/>
<line x1="67.09" y1="419.00" x2="67.09" y2="542.00" stroke="#bdbdbd" stroke-width="0.8" stroke-dasharray="1.2,1.65"/>
<line x1="77.79" y1="419.00" x2="77.79" y2="542.00" stroke="#bdbdbd" stroke-width="0.8" stroke-dasharray="1.2,1.65"/>
<line x1="88.48" y1="419.00" x2="88.48" y2="542.00" stroke="#bdbdbd" stroke-width="0.8" stroke-dasharray="1.2,1.65"/>
<line x1="99.18" y1="419.00" x2="99.18" y2="542.00" stroke="#bdbdbd" stroke-width="0.8" stroke-dasharray="1.2,1.65"/>
<line x1="109.87" y1="419.00" x2="109.87" y2="542.00" stroke="#bdbdbd" stroke-width="0.8" stroke-dasharray="1.2,1.65"/>
<line x1="120.57" y1="419.00" x2="120.57" y2="542.00" stroke="#bdbdbd" stroke-width="0.8" stroke-dasharray="1.2,1.65"/>
<line x1="131.26" y1="419.00" x2="131.26" y2="542.00" stroke="#bdbdbd" stroke-width="0.8" stroke-dasharray="1.2,1.65"/>
<line x1="141.96" y1="419.00" x2="141.96" y2="542.00" stroke="#bdbdbd" stroke-width="0.8" stroke-dasharray="1.2,1.65"/>
<line x1="152.65" y1="419.00" x2="152.65" y2="542.00" stroke="#bdbdbd" stroke-width="0.8" stroke-dasharray="1.2,1.65"/>
<line x1="163.34" y1="419.00" x2="163.34" y2="542.00" stroke="#bdbdbd" stroke-width="0.8" stroke-dasharray="1.2,1.65"/>
<line x1="174.04" y1="419.00" x2="174.04" y2="542.00" stroke="#bdbdbd" stroke-width="0.8" stroke-dasharray="1.2,1.65"/>
<line x1="184.73" y1="419.00" x2="184.73" y2="542.00" stroke="#bdbdbd" stroke-width="0.8" stroke-dasharray="1.2,1.65"/>
<line x1="195.43" y1="419.00" x2="195.43" y2="542.00" stroke="#bdbdbd" stroke-width="0.8" stroke-dasharray="1.2,1.65"/>
<line x1="206.12" y1="419.00" x2="206.12" y2="542.00" stroke="#bdbdbd" stroke-width="0.8" stroke-dasharray="1.2,1.65"/>
<line x1="216.82" y1="419.00" x2="216.82" y2="542.00" stroke="#bdbdbd" stroke-width="0.8" stroke-dasharray="1.2,1.65"/>
<line x1="227.51" y1="419.00" x2="227.51" y2="542.00" stroke="#bdbdbd" stroke-width="0.8" stroke-dasharray="1.2,1.65"/>
<line x1="238.21" y1="419.00" x2="238.21" y2="542.00" stroke="#bdbdbd" stroke-width="0.8" stroke-dasharray="1.2,1.65"/>
<line x1="248.90" y1="419.00" x2="248.90" y2="542.00" stroke="#bdbdbd" stroke-width="0.8" stroke-dasharray="1.2,1.65"/>
<line x1="259.59" y1="419.00" x2="259.59" y2="542.00" stroke="#bdbdbd" stroke-width="0.8" stroke-dasharray="1.2,1.65"/>
<line x1="270.29" y1="419.00" x2="270.29" y2="542.00" stroke="#bdbdbd" stroke-width="0.8" stroke-dasharray="1.2,1.65"/>
<line x1="280.98" y1="419.00" x2="280.98" y2="542.00" stroke="#bdbdbd" stroke-width="0.8" stroke-dasharray="1.2,1.65"/>
<line x1="291.68" y1="419.00" x2="291.68" y2="542.00" stroke="#bdbdbd" stroke-width="0.8" stroke-dasharray="1.2,1.65"/>
<line x1="302.37" y1="419.00" x2="302.37" y2="542.00" stroke="#bdbdbd" stroke-width="0.8" stroke-dasharray="1.2,1.65"/>
<line x1="313.07" y1="419.00" x2="313.07" y2="542.00" stroke="#bdbdbd" stroke-width="0.8" stroke-dasharray="1.2,1.65"/>
<line x1="323.76" y1="419.00" x2="323.76" y2="542.00" stroke="#bdbdbd" stroke-width="0.8" stroke-dasharray="1.2,1.65"/>
<line x1="334.46" y1="419.00" x2="334.46" y2="542.00" stroke="#bdbdbd" stroke-width="0.8" stroke-dasharray="1.2,1.65"/>
<line x1="345.15" y1="419.00" x2="345.15" y2="542.00" stroke="#bdbdbd" stroke-width="0.8" stroke-dasharray="1.2,1.65"/>
<line x1="355.84" y1="419.00" x2="355.84" y2="542.00" stroke="#bdbdbd" stroke-width="0.8" stroke-dasharray="1.2,1.65"/>
<line x1="366.54" y1="419.00" x2="366.54" y2="542.00" stroke="#bdbdbd" stroke-width="0.8" stroke-dasharray="1.2,1.65"/>
<line x1="377.23" y1="419.00" x2="377.23" y2="542.00" stroke="#bdbdbd" stroke-width="0.8" stroke-dasharray="1.2,1.65"/>
<line x1="387.93" y1="419.00" x2="387.93" y2="542.00" stroke="#bdbdbd" stroke-width="0.8" stroke-dasharray="1.2,1.65"/>
<line x1="398.62" y1="419.00" x2="398.62" y2="542.00" stroke="#bdbdbd" stroke-width="0.8" stroke-dasharray="1.2,1.65"/>
<line x1="409.32" y1="419.00" x2="409.32" y2="542.00" stroke="#bdbdbd" stroke-width="0.8" stroke-dasharray="1.2,1.65"/>
<line x1="420.01" y1="419.00" x2="420.01" y2="542.00" stroke="#bdbdbd" stroke-width="0.8" stroke-dasharray="1.2,1.65"/>
<line x1="430.71" y1="419.00" x2="430.71" y2="542.00" stroke="#bdbdbd" stroke-width="0.8" stroke-dasharray="1.2,1.65"/>
<line x1="441.40" y1="419.00" x2="441.40" y2="542.00" stroke="#bdbdbd" stroke-width="0.8" stroke-dasharray="1.2,1.65"/>
<line x1="56.40" y1="569.40" x2="56.40" y2="601.40" stroke="#bdbdbd" stroke-width="0.8" stroke-dasharray="1.2,1.65"/>
<line x1="75.65" y1="569.40" x2="75.65" y2="601.40" stroke="#bdbdbd" stroke-width="0.8" stroke-dasharray="1.2,1.65"/>
<line x1="94.90" y1="569.40" x2="94.90" y2="601.40" stroke="#bdbdbd" stroke-width="0.8" stroke-dasharray="1.2,1.65"/>
<line x1="114.15" y1="569.40" x2="114.15" y2="601.40" stroke="#bdbdbd" stroke-width="0.8" stroke-dasharray="1.2,1.65"/>
<line x1="133.40" y1="569.40" x2="133.40" y2="601.40" stroke="#bdbdbd" stroke-width="0.8" stroke-dasharray="1.2,1.65"/>
<line x1="152.65" y1="569.40" x2="152.65" y2="601.40" stroke="#bdbdbd" stroke-width="0.8" stroke-dasharray="1.2,1.65"/>
<line x1="171.90" y1="569.40" x2="171.90" y2="601.40" stroke="#bdbdbd" stroke-width="0.8" stroke-dasharray="1.2,1.65"/>
<line x1="191.15" y1="569.40" x2="191.15" y2="601.40" stroke="#bdbdbd" stroke-width="0.8" stroke-dasharray="1.2,1.65"/>
<line x1="210.40" y1="569.40" x2="210.40" y2="601.40" stroke="#bdbdbd" stroke-width="0.8" stroke-dasharray="1.2,1.65"/>
<line x1="229.65" y1="569.40" x2="229.65" y2="601.40" stroke="#bdbdbd" stroke-width="0.8" stroke-dasharray="1.2,1.65"/>
<line x1="248.90" y1="569.40" x2="248.90" y2="601.40" stroke="#bdbdbd" stroke-width="0.8" stroke-dasharray="1.2,1.65"/>
<line x1="268.15" y1="569.40" x2="268.15" y2="601.40" stroke="#bdbdbd" stroke-width="0.8" stroke-dasharray="1.2,1.65"/>
<line x1="287.40" y1="569.40" x2="287.40" y2="601.40" stroke="#bdbdbd" stroke-width="0.8" stroke-dasharray="1.2,1.65"/>
<line x1="306.65" y1="569.40" x2="306.65" y2="601.40" stroke="#bdbdbd" stroke-width="0.8" stroke-dasharray="1.2,1.65"/>
<line x1="325.90" y1="569.40" x2="325.90" y2="601.40" stroke="#bdbdbd" stroke-width="0.8" stroke-dasharray="1.2,1.65"/>
<line x1="345.15" y1="569.40" x2="345.15" y2="601.40" stroke="#bdbdbd" stroke-width="0.8" stroke-dasharray="1.2,1.65"/>
<line x1="364.40" y1="569.40" x2="364.40" y2="601.40" stroke="#bdbdbd" stroke-width="0.8" stroke-dasharray="1.2,1.65"/>
<line x1="383.65" y1="569.40" x2="383.65" y2="601.40" stroke="#bdbdbd" stroke-width="0.8" stroke-dasharray="1.2,1.65"/>
<line x1="402.90" y1="569.40" x2="402.90" y2="601.40" stroke="#bdbdbd" stroke-width="0.8" stroke-dasharray="1.2,1.65"/>
<line x1="422.15" y1="569.40" x2="422.15" y2="601.40" stroke="#bdbdbd" stroke-width="0.8" stroke-dasharray="1.2,1.65"/>
<line x1="441.40" y1="569.40" x2="441.40" y2="601.40" stroke="#bdbdbd" stroke-width="0.8" stroke-dasharray="1.2,1.65"/>
<line x1="49.50" y1="419.00" x2="49.50" y2="450.40" stroke="#555555" stroke-width="0.9" />
<line x1="47.30" y1="431.60" x2="49.50" y2="431.60" stroke="#555555" stroke-width="0.9" />
<text x="44.90" y="435.10" font-size="10.0" text-anchor="end" textLength="18.40" lengthAdjust="spacingAndGlyphs" fill="#262626" >−25</text>
<line x1="47.30" y1="446.00" x2="49.50" y2="446.00" stroke="#555555" stroke-width="0.9" />
<text x="44.90" y="449.50" font-size="10.0" text-anchor="end" textLength="18.40" lengthAdjust="spacingAndGlyphs" fill="#262626" >−30</text>
<line x1="49.50" y1="479.00" x2="49.50" y2="510.70" stroke="#555555" stroke-width="0.9" />
<line x1="47.30" y1="491.40" x2="49.50" y2="491.40" stroke="#555555" stroke-width="0.9" />
<text x="44.90" y="494.90" font-size="10.0" text-anchor="end" textLength="18.40" lengthAdjust="spacingAndGlyphs" fill="#262626" >−25</text>
<line x1="47.30" y1="505.40" x2="49.50" y2="505.40" stroke="#555555" stroke-width="0.9" />
<text x="44.90" y="508.90" font-size="10.0" text-anchor="end" textLength="18.40" lengthAdjust="spacingAndGlyphs" fill="#262626" >−30</text>
<line x1="446.20" y1="449.80" x2="446.20" y2="481.40" stroke="#555555" stroke-width="0.9" />
<line x1="446.20" y1="462.10" x2="448.40" y2="462.10" stroke="#555555" stroke-width="0.9" />
<text x="453.10" y="465.60" font-size="10.0" text-anchor="start" textLength="18.60" lengthAdjust="spacingAndGlyphs" fill="#262626" >−25</text>
<line x1="446.20" y1="475.80" x2="448.40" y2="475.80" stroke="#555555" stroke-width="0.9" />
<text x="453.10" y="479.30" font-size="10.0" text-anchor="start" textLength="18.60" lengthAdjust="spacingAndGlyphs" fill="#262626" >−30</text>
<line x1="445.50" y1="511.00" x2="445.50" y2="542.50" stroke="#555555" stroke-width="0.9" />
<line x1="445.50" y1="523.00" x2="447.70" y2="523.00" stroke="#555555" stroke-width="0.9" />
<text x="452.80" y="526.50" font-size="10.0" text-anchor="start" textLength="18.60" lengthAdjust="spacingAndGlyphs" fill="#262626" >−25</text>
<line x1="445.50" y1="536.50" x2="447.70" y2="536.50" stroke="#555555" stroke-width="0.9" />
<text x="452.80" y="540.00" font-size="10.0" text-anchor="start" textLength="18.60" lengthAdjust="spacingAndGlyphs" fill="#262626" >−30</text>
<text x="67.09" y="554.30" font-size="10.0" text-anchor="middle" textLength="23.10" lengthAdjust="spacingAndGlyphs" fill="#262626" >2015</text>
<text x="120.57" y="554.30" font-size="10.0" text-anchor="middle" textLength="23.10" lengthAdjust="spacingAndGlyphs" fill="#262626" >2010</text>
<text x="174.04" y="554.30" font-size="10.0" text-anchor="middle" textLength="23.10" lengthAdjust="spacingAndGlyphs" fill="#262626" >2005</text>
<text x="227.51" y="554.30" font-size="10.0" text-anchor="middle" textLength="23.10" lengthAdjust="spacingAndGlyphs" fill="#262626" >2000</text>
<text x="280.98" y="554.30" font-size="10.0" text-anchor="middle" textLength="23.10" lengthAdjust="spacingAndGlyphs" fill="#262626" >1995</text>
<text x="334.46" y="554.30" font-size="10.0" text-anchor="middle" textLength="23.10" lengthAdjust="spacingAndGlyphs" fill="#262626" >1990</text>
<text x="387.93" y="554.30" font-size="10.0" text-anchor="middle" textLength="23.10" lengthAdjust="spacingAndGlyphs" fill="#262626" >1985</text>
<text x="441.40" y="554.30" font-size="10.0" text-anchor="middle" textLength="23.10" lengthAdjust="spacingAndGlyphs" fill="#262626" >1980</text>
<text x="253.70" y="564.80" font-size="11.0" text-anchor="middle" textLength="46.60" lengthAdjust="spacingAndGlyphs" fill="#262626" >Age (AD)</text>
<line x1="49.50" y1="569.40" x2="49.50" y2="601.00" stroke="#555555" stroke-width="0.9" />
<line x1="47.30" y1="582.00" x2="49.50" y2="582.00" stroke="#555555" stroke-width="0.9" />
<text x="44.90" y="585.50" font-size="10.0" text-anchor="end" textLength="18.40" lengthAdjust="spacingAndGlyphs" fill="#262626" >−25</text>
<line x1="47.30" y1="596.00" x2="49.50" y2="596.00" stroke="#555555" stroke-width="0.9" />
<text x="44.90" y="599.50" font-size="10.0" text-anchor="end" textLength="18.40" lengthAdjust="spacingAndGlyphs" fill="#262626" >−30</text>
<line x1="56.40" y1="601.40" x2="441.40" y2="601.40" stroke="#555555" stroke-width="0.9" />
<line x1="56.40" y1="601.40" x2="56.40" y2="603.70" stroke="#555555" stroke-width="0.9" />
<line x1="75.65" y1="601.40" x2="75.65" y2="602.50" stroke="#555555" stroke-width="0.9" />
<line x1="94.90" y1="601.40" x2="94.90" y2="602.50" stroke="#555555" stroke-width="0.9" />
<line x1="114.15" y1="601.40" x2="114.15" y2="602.50" stroke="#555555" stroke-width="0.9" />
<line x1="133.40" y1="601.40" x2="133.40" y2="602.50" stroke="#555555" stroke-width="0.9" />
<line x1="152.65" y1="601.40" x2="152.65" y2="603.70" stroke="#555555" stroke-width="0.9" />
<line x1="171.90" y1="601.40" x2="171.90" y2="602.50" stroke="#555555" stroke-width="0.9" />
<line x1="191.15" y1="601.40" x2="191.15" y2="602.50" stroke="#555555" stroke-width="0.9" />
<line x1="210.40" y1="601.40" x2="210.40" y2="602.50" stroke="#555555" stroke-width="0.9" />
<line x1="229.65" y1="601.40" x2="229.65" y2="602.50" stroke="#555555" stroke-width="0.9" />
<line x1="248.90" y1="601.40" x2="248.90" y2="603.70" stroke="#555555" stroke-width="0.9" />
<line x1="268.15" y1="601.40" x2="268.15" y2="602.50" stroke="#555555" stroke-width="0.9" />
<line x1="287.40" y1="601.40" x2="287.40" y2="602.50" stroke="#555555" stroke-width="0.9" />
<line x1="306.65" y1="601.40" x2="306.65" y2="602.50" stroke="#555555" stroke-width="0.9" />
<line x1="325.90" y1="601.40" x2="325.90" y2="602.50" stroke="#555555" stroke-width="0.9" />
<line x1="345.15" y1="601.40" x2="345.15" y2="603.70" stroke="#555555" stroke-width="0.9" />
<line x1="364.40" y1="601.40" x2="364.40" y2="602.50" stroke="#555555" stroke-width="0.9" />
<line x1="383.65" y1="601.40" x2="383.65" y2="602.50" stroke="#555555" stroke-width="0.9" />
<line x1="402.90" y1="601.40" x2="402.90" y2="602.50" stroke="#555555" stroke-width="0.9" />
<line x1="422.15" y1="601.40" x2="422.15" y2="602.50" stroke="#555555" stroke-width="0.9" />
<line x1="441.40" y1="601.40" x2="441.40" y2="603.70" stroke="#555555" stroke-width="0.9" />
<text x="56.40" y="613.50" font-size="10.0" text-anchor="middle" textLength="5.85" lengthAdjust="spacingAndGlyphs" fill="#262626" >0</text>
<text x="152.65" y="613.50" font-size="10.0" text-anchor="middle" textLength="5.85" lengthAdjust="spacingAndGlyphs" fill="#262626" >5</text>
<text x="248.90" y="613.50" font-size="10.0" text-anchor="middle" textLength="11.70" lengthAdjust="spacingAndGlyphs" fill="#262626" >10</text>
<text x="345.15" y="613.50" font-size="10.0" text-anchor="middle" textLength="11.70" lengthAdjust="spacingAndGlyphs" fill="#262626" >15</text>
<text x="441.40" y="613.50" font-size="10.0" text-anchor="middle" textLength="11.70" lengthAdjust="spacingAndGlyphs" fill="#262626" >20</text>
<text x="246.70" y="626.20" font-size="11.4" text-anchor="middle" textLength="56.20" lengthAdjust="spacingAndGlyphs" fill="#262626" >Depth (m)</text>
<line x1="477.40" y1="419.50" x2="477.40" y2="601.20" stroke="#333" stroke-width="1.0" />
<text transform="translate(492.1,506.2) rotate(-90)" font-size="12.8" text-anchor="middle" fill="#262626" textLength="23.6" lengthAdjust="spacingAndGlyphs">D47</text>
<g transform="translate(14.8,326.6) rotate(-90)" fill="#262626"><text x="0" y="0" font-size="13" textLength="7.3" lengthAdjust="spacingAndGlyphs">δ</text><text x="9.0" y="-4.4" font-size="9.6" textLength="10.8" lengthAdjust="spacingAndGlyphs">18</text><text x="20.2" y="0" font-size="13" font-style="italic" textLength="9.6" lengthAdjust="spacingAndGlyphs">O</text><text x="35.6" y="0" font-size="13" textLength="24.2" lengthAdjust="spacingAndGlyphs">(‰)</text></g>
<path d="M56.4,28.8 57.4,28.9 58.4,29.0 59.4,29.2 60.4,29.3 61.4,29.3 62.4,29.2 63.4,28.9 64.4,28.7 65.4,28.7 66.4,28.8 67.4,29.2 68.4,29.4 69.4,28.9 70.4,25.9 71.4,21.8 72.4,19.8 73.4,18.8 74.4,18.0 75.4,17.1 76.4,16.0 77.4,14.0 78.4,11.1 79.4,9.7 80.4,11.1 81.4,14.7 82.4,19.3 83.4,23.1 84.4,25.3 85.4,26.2 86.4,26.4 87.4,26.5 88.4,26.7 89.4,27.2 90.4,28.2 91.4,29.4 92.4,30.6 93.4,31.4 94.4,31.2 95.4,29.8 96.4,27.3 97.4,23.9 98.4,20.8 99.4,18.7 100.4,18.6 101.4,20.0 102.4,22.2 103.4,24.2 104.4,25.4 105.4,26.0 106.4,26.2 107.4,26.1 108.4,25.8 109.4,25.3 110.4,24.6 111.4,23.9 112.4,23.3 113.4,23.3 114.4,23.9 115.4,24.6 116.4,25.2 117.4,26.6 118.4,28.6 119.4,30.3 120.4,31.4 121.4,31.7 122.4,30.7 123.4,28.6 124.4,26.2 125.4,23.9 126.4,22.4 127.4,21.6 128.4,21.2 129.4,21.2 130.4,21.6 131.4,22.5 132.4,23.8 133.4,25.4 134.4,26.3 135.4,26.1 136.4,25.1 137.4,24.8 138.4,25.3 139.4,26.0 140.4,26.6 141.4,27.1 142.4,27.5 143.4,27.9 144.4,28.1 145.4,28.2 146.4,28.2 147.4,28.1 148.4,27.9 149.4,27.6 150.4,27.1 151.4,26.5 152.4,25.6 153.4,24.5 154.4,23.5 155.4,22.5 156.4,22.0 157.4,22.4 158.4,23.8 159.4,25.6 160.4,27.5 161.4,29.1 162.4,29.9 163.4,29.8 164.4,28.8 165.4,27.2 166.4,25.1 167.4,23.3 168.4,22.0 169.4,21.1 170.4,20.5 171.4,20.4 172.4,20.8 173.4,21.6 174.4,22.5 175.4,23.6 176.4,24.8 177.4,26.3 178.4,27.9 179.4,29.3 180.4,30.0 181.4,30.0 182.4,29.4 183.4,28.5 184.4,28.3 185.4,29.3 186.4,30.3 187.4,30.5 188.4,29.8 189.4,28.8 190.4,27.8 191.4,26.8 192.4,25.9 193.4,25.4 194.4,25.7 195.4,26.7 196.4,28.1 197.4,29.5 198.4,30.7 199.4,31.7 200.4,32.3 201.4,32.5 202.4,31.9 203.4,30.5 204.4,28.0 205.4,25.3 206.4,24.1 207.4,24.9 208.4,26.4 209.4,27.4 210.4,27.9 211.4,27.8 212.4,27.2 213.4,26.5 214.4,26.1 215.4,25.8 216.4,25.2 217.4,23.5 218.4,20.5 219.4,16.8 220.4,15.7 221.4,18.7 222.4,23.2 223.4,26.6 224.4,28.1 225.4,28.4 226.4,28.1 227.4,27.6 228.4,27.0 229.4,26.4 230.4,25.9 231.4,25.5 232.4,25.6 233.4,26.4 234.4,27.9 235.4,29.7 236.4,30.9 237.4,31.3 238.4,31.3 239.4,31.0 240.4,30.7 241.4,30.5 242.4,30.7 243.4,31.2 244.4,31.8 245.4,32.0 246.4,31.8 247.4,31.1 248.4,29.9 249.4,28.4 250.4,27.0 251.4,25.8 252.4,25.0 253.4,24.6 254.4,24.9 255.4,25.5 256.4,26.5 257.4,27.8 258.4,28.8 259.4,29.3 260.4,29.1 261.4,28.5 262.4,28.0 263.4,27.6 264.4,27.2 265.4,27.2 266.4,27.6 267.4,27.8 268.4,26.9 269.4,25.5 270.4,24.6 271.4,24.8 272.4,24.9 273.4,24.4 274.4,23.9 275.4,24.2 276.4,25.2 277.4,26.3 278.4,27.3 279.4,27.6 280.4,26.9 281.4,25.7 282.4,24.5 283.4,23.6 284.4,23.2 285.4,23.6 286.4,24.6 287.4,25.7 288.4,26.9 289.4,27.9 290.4,28.5 291.4,28.4 292.4,27.9 293.4,27.2 294.4,26.6 295.4,26.3 296.4,25.9 297.4,25.7 298.4,26.4 299.4,27.8 300.4,29.4 301.4,30.8 302.4,31.3 303.4,30.5 304.4,28.9 305.4,26.9 306.4,24.9 307.4,24.3 308.4,25.6 309.4,27.4 310.4,28.9 311.4,29.9 312.4,30.1 313.4,29.4 314.4,28.1 315.4,26.3 316.4,24.4 317.4,23.5 318.4,24.2 319.4,25.7 320.4,26.9 321.4,27.7 322.4,28.0 323.4,28.0 324.4,27.9 325.4,27.6 326.4,27.4 327.4,27.2 328.4,27.0 329.4,26.7 330.4,26.3 331.4,25.7 332.4,25.1 333.4,24.6 334.4,24.2 335.4,24.1 336.4,24.2 337.4,24.4 338.4,24.6 339.4,24.9 340.4,25.2 341.4,25.3 342.4,25.4 343.4,25.6 344.4,25.9 345.4,26.3 346.4,26.8 347.4,27.2 348.4,27.6 349.4,27.8 350.4,27.8 351.4,27.6 352.4,27.4 353.4,27.2 354.4,27.2 355.4,27.4 356.4,27.8 357.4,28.2 358.4,28.5 359.4,28.7 360.4,28.7 361.4,28.2 362.4,27.6 363.4,27.3 364.4,27.3 365.4,27.6 366.4,28.0 367.4,28.3 368.4,28.3 369.4,28.2 370.4,27.9 371.4,27.5 372.4,27.3 373.4,27.2 374.4,27.3 375.4,27.6 376.4,28.2 377.4,29.2 378.4,30.2 379.4,31.0 380.4,31.4 381.4,31.2 382.4,30.4 383.4,29.1 384.4,27.5 385.4,25.5 386.4,23.6 387.4,21.9 388.4,21.1 389.4,21.4 390.4,22.6 391.4,24.2 392.4,25.9 393.4,27.0 394.4,27.2 395.4,26.6 396.4,25.5 397.4,24.0 398.4,22.3 399.4,20.8 400.4,20.2 401.4,20.6 402.4,21.7 403.4,22.8 404.4,23.7 405.4,24.5 406.4,24.9 407.4,24.8 408.4,24.2 409.4,23.3 410.4,22.4 411.4,21.4 412.4,20.6 413.4,20.4 414.4,20.9 415.4,21.8 416.4,22.9 417.4,24.1 418.4,25.2 419.4,26.0 420.4,26.1 421.4,25.3 422.4,24.1 423.4,23.1 424.4,23.1 425.4,24.0 426.4,25.6 427.4,27.3 428.4,29.0 429.4,30.4 430.4,31.6 431.4,32.3 432.4,32.1 433.4,31.2 434.4,29.9 435.4,28.6 436.4,27.2 437.4,25.8 438.4,24.7 439.4,24.3 440.4,24.7 441.4,25.3 L441.4,30.8 440.4,30.3 439.4,30.1 438.4,30.5 437.4,31.4 436.4,32.5 435.4,33.8 434.4,35.1 433.4,36.4 432.4,37.3 431.4,37.5 430.4,36.8 429.4,35.6 428.4,34.2 427.4,32.6 426.4,30.8 425.4,29.5 424.4,29.0 423.4,29.4 422.4,30.3 421.4,31.2 420.4,31.6 419.4,31.3 418.4,30.4 417.4,29.3 416.4,28.1 415.4,27.0 414.4,26.1 413.4,25.6 412.4,25.8 411.4,26.6 410.4,27.6 409.4,28.5 408.4,29.4 407.4,30.0 406.4,30.1 405.4,29.7 404.4,28.9 403.4,28.1 402.4,27.0 401.4,26.1 400.4,25.7 399.4,26.3 398.4,27.7 397.4,29.3 396.4,30.7 395.4,31.8 394.4,32.4 393.4,32.2 392.4,31.1 391.4,29.4 390.4,27.8 389.4,26.6 388.4,26.3 387.4,27.1 386.4,28.8 385.4,30.8 384.4,32.9 383.4,34.8 382.4,36.3 381.4,37.0 380.4,37.0 379.4,36.4 378.4,35.5 377.4,34.4 376.4,33.4 375.4,32.8 374.4,32.5 373.4,32.4 372.4,32.5 371.4,32.7 370.4,33.1 369.4,33.4 368.4,33.5 367.4,33.5 366.4,33.2 365.4,32.8 364.4,32.5 363.4,32.5 362.4,32.8 361.4,33.4 360.4,33.9 359.4,33.9 358.4,33.7 357.4,33.4 356.4,33.0 355.4,32.6 354.4,32.4 353.4,32.4 352.4,32.6 351.4,32.8 350.4,33.1 349.4,33.4 348.4,33.6 347.4,33.8 346.4,33.9 345.4,34.1 344.4,34.2 343.4,34.3 342.4,34.3 341.4,34.2 340.4,33.8 339.4,33.1 338.4,32.3 337.4,31.4 336.4,30.6 335.4,30.0 334.4,29.7 333.4,29.9 332.4,30.4 331.4,30.9 330.4,31.5 329.4,31.9 328.4,32.2 327.4,32.4 326.4,32.6 325.4,32.8 324.4,33.1 323.4,33.2 322.4,33.2 321.4,32.9 320.4,32.1 319.4,30.9 318.4,29.4 317.4,28.7 316.4,29.6 315.4,31.5 314.4,33.3 313.4,34.6 312.4,35.3 311.4,35.1 310.4,34.1 309.4,32.6 308.4,30.8 307.4,29.5 306.4,30.1 305.4,32.1 304.4,34.1 303.4,35.7 302.4,36.6 301.4,36.6 300.4,36.1 299.4,35.5 298.4,34.8 297.4,34.1 296.4,33.8 295.4,33.9 294.4,34.3 293.4,34.7 292.4,34.8 291.4,34.6 290.4,34.0 289.4,33.1 288.4,32.1 287.4,30.9 286.4,29.8 285.4,28.8 284.4,28.4 283.4,28.8 282.4,29.7 281.4,30.9 280.4,32.1 279.4,32.8 278.4,32.5 277.4,31.5 276.4,30.4 275.4,29.4 274.4,29.1 273.4,29.9 272.4,31.3 271.4,32.8 270.4,34.0 269.4,34.6 268.4,34.6 267.4,34.0 266.4,33.1 265.4,32.5 264.4,32.4 263.4,32.8 262.4,33.2 261.4,33.7 260.4,34.3 259.4,34.5 258.4,34.0 257.4,33.0 256.4,31.7 255.4,30.7 254.4,30.1 253.4,29.8 252.4,30.2 251.4,31.0 250.4,32.2 249.4,33.6 248.4,35.1 247.4,36.3 246.4,37.0 245.4,37.2 244.4,37.0 243.4,36.4 242.4,35.9 241.4,35.7 240.4,35.9 239.4,36.2 238.4,36.5 237.4,36.5 236.4,36.1 235.4,34.9 234.4,33.1 233.4,31.6 232.4,30.8 231.4,30.7 230.4,31.1 229.4,31.6 228.4,32.2 227.4,32.8 226.4,33.3 225.4,33.6 224.4,33.4 223.4,32.0 222.4,29.4 221.4,26.7 220.4,25.3 219.4,26.3 218.4,28.1 217.4,29.5 216.4,30.5 215.4,31.0 214.4,31.3 213.4,31.7 212.4,32.4 211.4,33.0 210.4,33.1 209.4,32.6 208.4,31.6 207.4,30.1 206.4,29.3 205.4,30.5 204.4,33.2 203.4,35.7 202.4,37.1 201.4,37.7 200.4,37.5 199.4,36.9 198.4,35.9 197.4,34.7 196.4,33.3 195.4,31.9 194.4,30.9 193.4,30.6 192.4,31.1 191.4,32.0 190.4,33.0 189.4,34.0 188.4,35.0 187.4,35.7 186.4,35.7 185.4,34.8 184.4,34.1 183.4,34.4 182.4,35.3 181.4,35.7 180.4,35.5 179.4,34.6 178.4,33.2 177.4,31.5 176.4,30.0 175.4,28.8 174.4,27.7 173.4,26.8 172.4,26.0 171.4,25.6 170.4,25.7 169.4,26.3 168.4,27.2 167.4,28.5 166.4,30.3 165.4,32.4 164.4,34.0 163.4,35.0 162.4,35.1 161.4,34.3 160.4,32.7 159.4,30.8 158.4,29.0 157.4,27.6 156.4,27.2 155.4,27.7 154.4,28.7 153.4,29.7 152.4,30.8 151.4,31.7 150.4,32.3 149.4,32.8 148.4,33.1 147.4,33.3 146.4,33.4 145.4,33.4 144.4,33.3 143.4,33.1 142.4,32.7 141.4,32.3 140.4,31.9 139.4,31.6 138.4,31.4 137.4,31.6 136.4,32.4 135.4,33.2 134.4,33.0 133.4,31.4 132.4,29.3 131.4,27.8 130.4,26.8 129.4,26.4 128.4,26.4 127.4,26.8 126.4,27.6 125.4,29.1 124.4,31.4 123.4,33.8 122.4,35.9 121.4,36.9 120.4,36.6 119.4,35.5 118.4,33.8 117.4,31.8 116.4,30.4 115.4,29.8 114.4,29.1 113.4,28.5 112.4,28.5 111.4,29.1 110.4,29.8 109.4,30.5 108.4,31.0 107.4,31.3 106.4,31.4 105.4,31.2 104.4,30.6 103.4,29.4 102.4,27.4 101.4,25.2 100.4,23.8 99.4,23.9 98.4,26.0 97.4,29.1 96.4,32.5 95.4,35.0 94.4,36.4 93.4,36.6 92.4,35.8 91.4,34.7 90.4,33.6 89.4,33.1 88.4,33.1 87.4,33.2 86.4,33.1 85.4,32.5 84.4,31.1 83.4,28.7 82.4,25.1 81.4,21.1 80.4,18.5 79.4,17.8 78.4,19.6 77.4,23.0 76.4,25.8 75.4,27.5 74.4,28.3 73.4,28.2 72.4,27.8 71.4,28.9 70.4,32.9 69.4,36.7 68.4,37.8 67.4,37.5 66.4,36.3 65.4,35.1 64.4,34.3 63.4,34.2 62.4,34.4 61.4,34.5 60.4,34.5 59.4,34.4 58.4,34.2 57.4,34.1 56.4,34.0Z" fill="#d9d9d9" stroke="none"/>
<path d="M56.4,59.7 57.4,59.8 58.4,59.9 59.4,60.1 60.4,60.2 61.4,60.2 62.4,60.1 63.4,59.8 64.4,59.6 65.4,59.6 66.4,59.7 67.4,60.1 68.4,60.3 69.4,59.8 70.4,56.8 71.4,52.7 72.4,50.7 73.4,49.7 74.4,48.9 75.4,48.0 76.4,46.9 77.4,44.9 78.4,42.0 79.4,40.6 80.4,42.0 81.4,45.6 82.4,50.2 83.4,54.0 84.4,56.2 85.4,57.1 86.4,57.3 87.4,57.4 88.4,57.6 89.4,58.1 90.4,59.1 91.4,60.3 92.4,61.5 93.4,62.3 94.4,62.1 95.4,60.7 96.4,58.2 97.4,54.8 98.4,51.7 99.4,49.6 100.4,49.5 101.4,50.9 102.4,53.1 103.4,55.1 104.4,56.3 105.4,56.9 106.4,57.1 107.4,57.0 108.4,56.7 109.4,56.2 110.4,55.5 111.4,54.8 112.4,54.2 113.4,54.2 114.4,54.8 115.4,55.5 116.4,56.1 117.4,57.5 118.4,59.5 119.4,61.2 120.4,62.3 121.4,62.6 122.4,61.6 123.4,59.5 124.4,57.1 125.4,54.8 126.4,53.3 127.4,52.5 128.4,52.1 129.4,52.1 130.4,52.5 131.4,53.4 132.4,54.7 133.4,56.3 134.4,57.2 135.4,57.0 136.4,56.0 137.4,55.7 138.4,56.2 139.4,56.9 140.4,57.5 141.4,58.0 142.4,58.4 143.4,58.8 144.4,59.0 145.4,59.1 146.4,59.1 147.4,59.0 148.4,58.8 149.4,58.5 150.4,58.0 151.4,57.4 152.4,56.5 153.4,55.4 154.4,54.4 155.4,53.4 156.4,52.9 157.4,53.3 158.4,54.7 159.4,56.5 160.4,58.4 161.4,60.0 162.4,60.8 163.4,60.7 164.4,59.7 165.4,58.1 166.4,56.0 167.4,54.2 168.4,52.9 169.4,52.0 170.4,51.4 171.4,51.3 172.4,51.7 173.4,52.5 174.4,53.4 175.4,54.5 176.4,55.7 177.4,57.2 178.4,58.8 179.4,60.2 180.4,60.9 181.4,60.9 182.4,60.3 183.4,59.4 184.4,59.2 185.4,60.2 186.4,61.2 187.4,61.4 188.4,60.7 189.4,59.7 190.4,58.7 191.4,57.7 192.4,56.8 193.4,56.3 194.4,56.6 195.4,57.6 196.4,59.0 197.4,60.4 198.4,61.6 199.4,62.6 200.4,63.2 201.4,63.4 202.4,62.8 203.4,61.4 204.4,58.9 205.4,56.2 206.4,55.0 207.4,55.8 208.4,57.3 209.4,58.3 210.4,58.8 211.4,58.7 212.4,58.1 213.4,57.4 214.4,57.0 215.4,56.7 216.4,56.1 217.4,54.4 218.4,51.4 219.4,47.7 220.4,46.6 221.4,49.6 222.4,54.1 223.4,57.5 224.4,59.0 225.4,59.3 226.4,59.0 227.4,58.5 228.4,57.9 229.4,57.3 230.4,56.8 231.4,56.4 232.4,56.5 233.4,57.3 234.4,58.8 235.4,60.6 236.4,61.8 237.4,62.2 238.4,62.2 239.4,61.9 240.4,61.6 241.4,61.4 242.4,61.6 243.4,62.1 244.4,62.7 245.4,62.9 246.4,62.7 247.4,62.0 248.4,60.8 249.4,59.3 250.4,57.9 251.4,56.7 252.4,55.9 253.4,55.5 254.4,55.8 255.4,56.4 256.4,57.4 257.4,58.7 258.4,59.7 259.4,60.2 260.4,60.0 261.4,59.4 262.4,58.9 263.4,58.5 264.4,58.1 265.4,58.1 266.4,58.5 267.4,58.7 268.4,57.8 269.4,56.4 270.4,55.5 271.4,55.7 272.4,55.8 273.4,55.3 274.4,54.8 275.4,55.1 276.4,56.1 277.4,57.2 278.4,58.2 279.4,58.5 280.4,57.8 281.4,56.6 282.4,55.4 283.4,54.5 284.4,54.1 285.4,54.5 286.4,55.5 287.4,56.6 288.4,57.8 289.4,58.8 290.4,59.4 291.4,59.3 292.4,58.8 293.4,58.1 294.4,57.5 295.4,57.2 296.4,56.8 297.4,56.6 298.4,57.3 299.4,58.7 300.4,60.3 301.4,61.7 302.4,62.2 303.4,61.4 304.4,59.8 305.4,57.8 306.4,55.8 307.4,55.2 308.4,56.5 309.4,58.3 310.4,59.8 311.4,60.8 312.4,61.0 313.4,60.3 314.4,59.0 315.4,57.2 316.4,55.3 317.4,54.4 318.4,55.1 319.4,56.6 320.4,57.8 321.4,58.6 322.4,58.9 323.4,58.9 324.4,58.8 325.4,58.5 326.4,58.3 327.4,58.1 328.4,57.9 329.4,57.6 330.4,57.2 331.4,56.6 332.4,56.0 333.4,55.5 334.4,55.1 335.4,55.0 336.4,55.1 337.4,55.3 338.4,55.5 339.4,55.8 340.4,56.1 341.4,56.2 342.4,56.3 343.4,56.5 344.4,56.8 345.4,57.2 346.4,57.7 347.4,58.1 348.4,58.5 349.4,58.7 350.4,58.7 351.4,58.5 352.4,58.3 353.4,58.1 354.4,58.1 355.4,58.3 356.4,58.7 357.4,59.1 358.4,59.4 359.4,59.6 360.4,59.6 361.4,59.1 362.4,58.5 363.4,58.2 364.4,58.2 365.4,58.5 366.4,58.9 367.4,59.2 368.4,59.2 369.4,59.1 370.4,58.8 371.4,58.4 372.4,58.2 373.4,58.1 374.4,58.2 375.4,58.5 376.4,59.1 377.4,60.1 378.4,61.1 379.4,61.9 380.4,62.3 381.4,62.1 382.4,61.3 383.4,60.0 384.4,58.4 385.4,56.4 386.4,54.5 387.4,52.8 388.4,52.0 389.4,52.3 390.4,53.5 391.4,55.1 392.4,56.8 393.4,57.9 394.4,58.1 395.4,57.5 396.4,56.4 397.4,54.9 398.4,53.2 399.4,51.7 400.4,51.1 401.4,51.5 402.4,52.6 403.4,53.7 404.4,54.6 405.4,55.4 406.4,55.8 407.4,55.7 408.4,55.1 409.4,54.2 410.4,53.3 411.4,52.3 412.4,51.5 413.4,51.3 414.4,51.8 415.4,52.7 416.4,53.8 417.4,55.0 418.4,56.1 419.4,56.9 420.4,57.0 421.4,56.2 422.4,55.0 423.4,54.0 424.4,54.0 425.4,54.9 426.4,56.5 427.4,58.2 428.4,59.9 429.4,61.3 430.4,62.5 431.4,63.2 432.4,63.0 433.4,62.1 434.4,60.8 435.4,59.5 436.4,58.1 437.4,56.7 438.4,55.6 439.4,55.2 440.4,55.6 441.4,56.2 L441.4,61.7 440.4,61.2 439.4,61.0 438.4,61.4 437.4,62.3 436.4,63.4 435.4,64.7 434.4,66.0 433.4,67.3 432.4,68.2 431.4,68.4 430.4,67.7 429.4,66.5 428.4,65.1 427.4,63.5 426.4,61.7 425.4,60.4 424.4,59.9 423.4,60.3 422.4,61.2 421.4,62.1 420.4,62.5 419.4,62.2 418.4,61.3 417.4,60.2 416.4,59.0 415.4,57.9 414.4,57.0 413.4,56.5 412.4,56.7 411.4,57.5 410.4,58.5 409.4,59.4 408.4,60.3 407.4,60.9 406.4,61.0 405.4,60.6 404.4,59.8 403.4,59.0 402.4,57.9 401.4,57.0 400.4,56.6 399.4,57.2 398.4,58.6 397.4,60.2 396.4,61.6 395.4,62.7 394.4,63.3 393.4,63.1 392.4,62.0 391.4,60.3 390.4,58.7 389.4,57.5 388.4,57.2 387.4,58.0 386.4,59.7 385.4,61.7 384.4,63.8 383.4,65.7 382.4,67.2 381.4,67.9 380.4,67.9 379.4,67.3 378.4,66.4 377.4,65.3 376.4,64.3 375.4,63.7 374.4,63.4 373.4,63.3 372.4,63.4 371.4,63.6 370.4,64.0 369.4,64.3 368.4,64.4 367.4,64.4 366.4,64.1 365.4,63.7 364.4,63.4 363.4,63.4 362.4,63.7 361.4,64.3 360.4,64.8 359.4,64.8 358.4,64.6 357.4,64.3 356.4,63.9 355.4,63.5 354.4,63.3 353.4,63.3 352.4,63.5 351.4,63.7 350.4,64.0 349.4,64.3 348.4,64.5 347.4,64.7 346.4,64.8 345.4,65.0 344.4,65.1 343.4,65.2 342.4,65.2 341.4,65.1 340.4,64.7 339.4,64.0 338.4,63.2 337.4,62.3 336.4,61.5 335.4,60.9 334.4,60.6 333.4,60.8 332.4,61.3 331.4,61.8 330.4,62.4 329.4,62.8 328.4,63.1 327.4,63.3 326.4,63.5 325.4,63.7 324.4,64.0 323.4,64.1 322.4,64.1 321.4,63.8 320.4,63.0 319.4,61.8 318.4,60.3 317.4,59.6 316.4,60.5 315.4,62.4 314.4,64.2 313.4,65.5 312.4,66.2 311.4,66.0 310.4,65.0 309.4,63.5 308.4,61.7 307.4,60.4 306.4,61.0 305.4,63.0 304.4,65.0 303.4,66.6 302.4,67.5 301.4,67.5 300.4,67.0 299.4,66.4 298.4,65.7 297.4,65.0 296.4,64.7 295.4,64.8 294.4,65.2 293.4,65.6 292.4,65.7 291.4,65.5 290.4,64.9 289.4,64.0 288.4,63.0 287.4,61.8 286.4,60.7 285.4,59.7 284.4,59.3 283.4,59.7 282.4,60.6 281.4,61.8 280.4,63.0 279.4,63.7 278.4,63.4 277.4,62.4 276.4,61.3 275.4,60.3 274.4,60.0 273.4,60.8 272.4,62.2 271.4,63.7 270.4,64.9 269.4,65.5 268.4,65.5 267.4,64.9 266.4,64.0 265.4,63.4 264.4,63.3 263.4,63.7 262.4,64.1 261.4,64.6 260.4,65.2 259.4,65.4 258.4,64.9 257.4,63.9 256.4,62.6 255.4,61.6 254.4,61.0 253.4,60.7 252.4,61.1 251.4,61.9 250.4,63.1 249.4,64.5 248.4,66.0 247.4,67.2 246.4,67.9 245.4,68.1 244.4,67.9 243.4,67.3 242.4,66.8 241.4,66.6 240.4,66.8 239.4,67.1 238.4,67.4 237.4,67.4 236.4,67.0 235.4,65.8 234.4,64.0 233.4,62.5 232.4,61.7 231.4,61.6 230.4,62.0 229.4,62.5 228.4,63.1 227.4,63.7 226.4,64.2 225.4,64.5 224.4,64.3 223.4,62.9 222.4,60.3 221.4,57.6 220.4,56.2 219.4,57.2 218.4,59.0 217.4,60.4 216.4,61.4 215.4,61.9 214.4,62.2 213.4,62.6 212.4,63.3 211.4,63.9 210.4,64.0 209.4,63.5 208.4,62.5 207.4,61.0 206.4,60.2 205.4,61.4 204.4,64.1 203.4,66.6 202.4,68.0 201.4,68.6 200.4,68.4 199.4,67.8 198.4,66.8 197.4,65.6 196.4,64.2 195.4,62.8 194.4,61.8 193.4,61.5 192.4,62.0 191.4,62.9 190.4,63.9 189.4,64.9 188.4,65.9 187.4,66.6 186.4,66.6 185.4,65.7 184.4,65.0 183.4,65.3 182.4,66.2 181.4,66.6 180.4,66.4 179.4,65.5 178.4,64.1 177.4,62.4 176.4,60.9 175.4,59.7 174.4,58.6 173.4,57.7 172.4,56.9 171.4,56.5 170.4,56.6 169.4,57.2 168.4,58.1 167.4,59.4 166.4,61.2 165.4,63.3 164.4,64.9 163.4,65.9 162.4,66.0 161.4,65.2 160.4,63.6 159.4,61.7 158.4,59.9 157.4,58.5 156.4,58.1 155.4,58.6 154.4,59.6 153.4,60.6 152.4,61.7 151.4,62.6 150.4,63.2 149.4,63.7 148.4,64.0 147.4,64.2 146.4,64.3 145.4,64.3 144.4,64.2 143.4,64.0 142.4,63.6 141.4,63.2 140.4,62.8 139.4,62.5 138.4,62.3 137.4,62.5 136.4,63.3 135.4,64.1 134.4,63.9 133.4,62.3 132.4,60.2 131.4,58.7 130.4,57.7 129.4,57.3 128.4,57.3 127.4,57.7 126.4,58.5 125.4,60.0 124.4,62.3 123.4,64.7 122.4,66.8 121.4,67.8 120.4,67.5 119.4,66.4 118.4,64.7 117.4,62.7 116.4,61.3 115.4,60.7 114.4,60.0 113.4,59.4 112.4,59.4 111.4,60.0 110.4,60.7 109.4,61.4 108.4,61.9 107.4,62.2 106.4,62.3 105.4,62.1 104.4,61.5 103.4,60.3 102.4,58.3 101.4,56.1 100.4,54.7 99.4,54.8 98.4,56.9 97.4,60.0 96.4,63.4 95.4,65.9 94.4,67.3 93.4,67.5 92.4,66.7 91.4,65.6 90.4,64.5 89.4,64.0 88.4,64.0 87.4,64.1 86.4,64.0 85.4,63.4 84.4,62.0 83.4,59.6 82.4,56.0 81.4,52.0 80.4,49.4 79.4,48.7 78.4,50.5 77.4,53.9 76.4,56.7 75.4,58.4 74.4,59.2 73.4,59.1 72.4,58.7 71.4,59.8 70.4,63.8 69.4,67.6 68.4,68.7 67.4,68.4 66.4,67.2 65.4,66.0 64.4,65.2 63.4,65.1 62.4,65.3 61.4,65.4 60.4,65.4 59.4,65.3 58.4,65.1 57.4,65.0 56.4,64.9Z" fill="#d9d9d9" stroke="none"/>
<path d="M56.4,88.9 57.4,88.8 58.4,88.7 59.4,88.7 60.4,88.9 61.4,89.1 62.4,89.0 63.4,88.7 64.4,88.9 65.4,89.6 66.4,90.5 67.4,90.9 68.4,90.4 69.4,87.9 70.4,83.4 71.4,79.8 72.4,77.5 73.4,75.9 74.4,74.7 75.4,73.8 76.4,72.4 77.4,70.9 78.4,69.6 79.4,69.3 80.4,70.9 81.4,74.2 82.4,78.1 83.4,81.6 84.4,84.0 85.4,85.0 86.4,85.3 87.4,85.6 88.4,86.5 89.4,87.6 90.4,88.6 91.4,89.4 92.4,89.6 93.4,88.7 94.4,86.0 95.4,82.8 96.4,81.5 97.4,82.8 98.4,84.2 99.4,84.4 100.4,83.5 101.4,82.1 102.4,81.0 103.4,80.8 104.4,81.5 105.4,82.5 106.4,83.8 107.4,84.9 108.4,85.4 109.4,85.4 110.4,85.0 111.4,84.4 112.4,83.8 113.4,83.6 114.4,83.9 115.4,84.6 116.4,85.3 117.4,85.8 118.4,86.2 119.4,86.3 120.4,86.1 121.4,85.5 122.4,84.8 123.4,84.2 124.4,83.7 125.4,83.4 126.4,83.4 127.4,83.8 128.4,84.2 129.4,84.2 130.4,83.8 131.4,83.1 132.4,82.5 133.4,82.4 134.4,82.9 135.4,83.8 136.4,84.8 137.4,85.6 138.4,86.3 139.4,86.9 140.4,87.3 141.4,87.6 142.4,87.6 143.4,87.4 144.4,87.0 145.4,86.1 146.4,84.7 147.4,83.3 148.4,83.1 149.4,84.5 150.4,86.4 151.4,87.6 152.4,88.1 153.4,88.1 154.4,88.0 155.4,87.7 156.4,87.1 157.4,86.2 158.4,85.2 159.4,84.1 160.4,83.1 161.4,82.2 162.4,81.9 163.4,82.7 164.4,84.0 165.4,85.4 166.4,86.5 167.4,87.6 168.4,88.5 169.4,88.9 170.4,88.6 171.4,87.6 172.4,86.2 173.4,84.5 174.4,82.9 175.4,82.2 176.4,82.5 177.4,83.0 178.4,83.2 179.4,83.2 180.4,83.4 181.4,84.0 182.4,84.8 183.4,85.8 184.4,87.0 185.4,88.2 186.4,89.4 187.4,90.4 188.4,91.1 189.4,91.3 190.4,91.1 191.4,90.3 192.4,89.0 193.4,87.6 194.4,87.2 195.4,87.7 196.4,88.0 197.4,87.8 198.4,87.4 199.4,86.8 200.4,86.3 201.4,85.8 202.4,85.0 203.4,83.5 204.4,80.7 205.4,77.4 206.4,75.2 207.4,76.1 208.4,80.1 209.4,84.9 210.4,88.2 211.4,88.7 212.4,87.4 213.4,85.9 214.4,84.9 215.4,84.6 216.4,84.9 217.4,85.5 218.4,86.1 219.4,86.7 220.4,87.2 221.4,87.7 222.4,87.9 223.4,88.1 224.4,88.1 225.4,87.9 226.4,87.4 227.4,86.8 228.4,86.2 229.4,85.9 230.4,86.1 231.4,86.9 232.4,87.8 233.4,88.1 234.4,87.9 235.4,87.6 236.4,87.5 237.4,87.6 238.4,87.4 239.4,87.2 240.4,86.9 241.4,86.4 242.4,86.2 243.4,86.5 244.4,87.4 245.4,88.4 246.4,88.8 247.4,89.0 248.4,89.0 249.4,88.8 250.4,88.4 251.4,87.8 252.4,87.1 253.4,86.7 254.4,87.1 255.4,88.3 256.4,89.3 257.4,89.3 258.4,88.0 259.4,86.4 260.4,85.2 261.4,84.2 262.4,83.5 263.4,83.3 264.4,83.5 265.4,84.3 266.4,85.3 267.4,86.4 268.4,87.4 269.4,87.8 270.4,87.5 271.4,86.9 272.4,86.6 273.4,86.8 274.4,87.3 275.4,88.1 276.4,89.1 277.4,90.3 278.4,90.9 279.4,90.3 280.4,88.7 281.4,87.0 282.4,86.0 283.4,85.8 284.4,86.1 285.4,86.6 286.4,87.2 287.4,87.8 288.4,87.9 289.4,87.3 290.4,86.2 291.4,85.4 292.4,85.6 293.4,86.4 294.4,87.3 295.4,87.6 296.4,87.5 297.4,87.4 298.4,87.7 299.4,88.2 300.4,88.6 301.4,88.9 302.4,89.1 303.4,89.1 304.4,88.8 305.4,88.1 306.4,87.3 307.4,86.6 308.4,85.9 309.4,85.3 310.4,85.0 311.4,85.1 312.4,85.6 313.4,86.5 314.4,87.6 315.4,88.5 316.4,88.4 317.4,87.5 318.4,86.8 319.4,86.9 320.4,87.7 321.4,88.7 322.4,89.3 323.4,89.1 324.4,88.7 325.4,88.2 326.4,87.7 327.4,87.1 328.4,86.4 329.4,85.5 330.4,84.7 331.4,84.2 332.4,84.1 333.4,84.5 334.4,85.3 335.4,86.2 336.4,86.9 337.4,87.4 338.4,87.6 339.4,87.6 340.4,87.3 341.4,86.8 342.4,86.0 343.4,85.1 344.4,84.5 345.4,84.7 346.4,85.3 347.4,85.8 348.4,85.9 349.4,85.7 350.4,85.4 351.4,85.2 352.4,84.9 353.4,84.7 354.4,84.3 355.4,83.8 356.4,83.6 357.4,84.0 358.4,85.0 359.4,86.0 360.4,86.9 361.4,87.6 362.4,87.8 363.4,87.4 364.4,86.8 365.4,86.1 366.4,85.4 367.4,84.8 368.4,84.1 369.4,83.6 370.4,83.3 371.4,83.2 372.4,83.1 373.4,82.9 374.4,82.6 375.4,82.4 376.4,82.2 377.4,82.0 378.4,82.0 379.4,82.1 380.4,82.3 381.4,82.7 382.4,83.1 383.4,83.6 384.4,84.1 385.4,84.7 386.4,85.3 387.4,85.8 388.4,85.8 389.4,85.4 390.4,84.8 391.4,84.2 392.4,83.6 393.4,83.3 394.4,83.3 395.4,83.8 396.4,84.5 397.4,85.2 398.4,86.0 399.4,86.8 400.4,87.1 401.4,86.8 402.4,86.0 403.4,84.9 404.4,83.5 405.4,82.5 406.4,81.9 407.4,81.7 408.4,81.9 409.4,82.3 410.4,82.9 411.4,83.5 412.4,83.8 413.4,83.6 414.4,83.2 415.4,82.8 416.4,82.7 417.4,82.9 418.4,83.2 419.4,83.3 420.4,83.2 421.4,83.1 422.4,83.3 423.4,83.8 424.4,84.3 425.4,84.8 426.4,85.0 427.4,85.1 428.4,85.0 429.4,84.9 430.4,84.8 431.4,85.0 432.4,85.2 433.4,85.6 434.4,86.3 435.4,87.1 436.4,87.3 437.4,86.3 438.4,84.3 439.4,82.4 440.4,81.6 441.4,81.7 L441.4,94.6 440.4,95.0 439.4,95.0 438.4,94.5 437.4,93.9 436.4,93.7 435.4,93.2 434.4,92.3 433.4,91.6 432.4,91.2 431.4,91.0 430.4,90.8 429.4,90.9 428.4,91.0 427.4,91.1 426.4,91.1 425.4,91.2 424.4,91.3 423.4,91.5 422.4,91.5 421.4,91.2 420.4,90.7 419.4,90.1 418.4,89.5 417.4,89.0 416.4,88.7 415.4,88.8 414.4,89.2 413.4,89.9 412.4,90.8 411.4,92.1 410.4,93.6 409.4,95.1 408.4,96.0 407.4,95.6 406.4,94.3 405.4,92.7 404.4,91.7 403.4,91.6 402.4,92.1 401.4,92.8 400.4,93.1 399.4,92.8 398.4,92.0 397.4,91.2 396.4,90.5 395.4,89.8 394.4,89.3 393.4,89.3 392.4,89.6 391.4,90.2 390.4,90.8 389.4,91.4 388.4,91.8 387.4,91.8 386.4,91.5 385.4,91.1 384.4,91.0 383.4,91.1 382.4,91.3 381.4,91.6 380.4,91.9 379.4,92.3 378.4,92.6 377.4,92.9 376.4,93.0 375.4,92.9 374.4,92.7 373.4,92.4 372.4,91.9 371.4,91.2 370.4,90.7 369.4,90.4 368.4,90.5 367.4,90.9 366.4,91.5 365.4,92.1 364.4,92.8 363.4,93.4 362.4,93.8 361.4,93.6 360.4,92.9 359.4,92.0 358.4,91.0 357.4,90.4 356.4,90.7 355.4,92.1 354.4,94.0 353.4,95.6 352.4,96.9 351.4,97.8 350.4,98.0 349.4,97.6 348.4,96.6 347.4,95.2 346.4,93.3 345.4,91.6 344.4,90.9 343.4,91.1 342.4,92.0 341.4,92.8 340.4,93.3 339.4,93.6 338.4,93.7 337.4,93.5 336.4,93.2 335.4,92.9 334.4,92.6 333.4,92.4 332.4,92.4 331.4,92.4 330.4,92.5 329.4,92.7 328.4,93.0 327.4,93.3 326.4,93.8 325.4,94.2 324.4,94.7 323.4,95.1 322.4,95.3 321.4,94.9 320.4,94.2 319.4,93.9 318.4,94.4 317.4,95.9 316.4,97.4 315.4,98.1 314.4,97.7 313.4,96.9 312.4,95.9 311.4,95.1 310.4,94.5 309.4,94.2 308.4,94.1 307.4,94.1 306.4,94.2 305.4,94.5 304.4,94.9 303.4,95.1 302.4,95.1 301.4,94.9 300.4,94.7 299.4,94.6 298.4,94.4 297.4,94.3 296.4,94.3 295.4,94.2 294.4,93.6 293.4,92.5 292.4,91.6 291.4,91.4 290.4,92.2 289.4,93.3 288.4,93.9 287.4,93.8 286.4,93.2 285.4,92.6 284.4,92.1 283.4,91.8 282.4,92.0 281.4,93.0 280.4,94.7 279.4,96.3 278.4,96.9 277.4,96.3 276.4,95.1 275.4,94.1 274.4,93.3 273.4,92.8 272.4,92.6 271.4,92.9 270.4,93.5 269.4,93.8 268.4,93.4 267.4,92.4 266.4,91.3 265.4,90.3 264.4,89.5 263.4,89.3 262.4,89.5 261.4,90.2 260.4,91.2 259.4,92.4 258.4,94.0 257.4,95.3 256.4,95.3 255.4,94.3 254.4,93.1 253.4,92.7 252.4,93.1 251.4,93.8 250.4,94.4 249.4,94.8 248.4,95.0 247.4,95.0 246.4,94.8 245.4,94.4 244.4,93.4 243.4,92.5 242.4,92.2 241.4,92.4 240.4,92.9 239.4,93.2 238.4,93.4 237.4,93.6 236.4,93.5 235.4,93.6 234.4,93.9 233.4,94.1 232.4,93.8 231.4,92.9 230.4,92.1 229.4,91.9 228.4,92.2 227.4,92.8 226.4,93.4 225.4,93.9 224.4,94.1 223.4,94.1 222.4,93.9 221.4,93.7 220.4,93.2 219.4,92.7 218.4,92.1 217.4,91.5 216.4,90.9 215.4,90.6 214.4,90.9 213.4,91.9 212.4,93.4 211.4,95.0 210.4,95.7 209.4,94.7 208.4,92.8 207.4,90.6 206.4,89.4 205.4,89.5 204.4,90.1 203.4,90.7 202.4,91.3 201.4,91.8 200.4,92.3 199.4,92.8 198.4,93.4 197.4,93.8 196.4,94.0 195.4,93.7 194.4,93.2 193.4,93.6 192.4,95.0 191.4,96.3 190.4,97.1 189.4,97.3 188.4,97.1 187.4,96.4 186.4,95.4 185.4,94.2 184.4,93.0 183.4,91.8 182.4,90.8 181.4,90.2 180.4,90.6 179.4,92.3 178.4,94.6 177.4,96.2 176.4,96.0 175.4,94.4 174.4,93.0 173.4,92.6 172.4,92.9 171.4,93.7 170.4,94.6 169.4,94.9 168.4,94.5 167.4,93.6 166.4,92.5 165.4,91.4 164.4,90.0 163.4,88.7 162.4,87.9 161.4,88.2 160.4,89.1 159.4,90.1 158.4,91.2 157.4,92.2 156.4,93.1 155.4,93.7 154.4,94.0 153.4,94.1 152.4,94.1 151.4,93.7 150.4,93.1 149.4,92.1 148.4,91.4 147.4,91.5 146.4,92.1 145.4,92.7 144.4,93.1 143.4,93.5 142.4,93.6 141.4,93.6 140.4,93.3 139.4,92.9 138.4,92.3 137.4,91.6 136.4,90.8 135.4,89.8 134.4,88.9 133.4,88.4 132.4,88.5 131.4,89.1 130.4,89.8 129.4,90.3 128.4,90.4 127.4,90.3 126.4,90.5 125.4,91.1 124.4,92.2 123.4,93.3 122.4,94.3 121.4,95.3 120.4,95.9 119.4,95.8 118.4,95.1 117.4,94.1 116.4,92.8 115.4,91.5 114.4,90.4 113.4,89.7 112.4,89.9 111.4,90.4 110.4,91.0 109.4,91.4 108.4,91.4 107.4,90.9 106.4,89.8 105.4,88.5 104.4,87.5 103.4,86.8 102.4,87.0 101.4,88.1 100.4,89.5 99.4,90.5 98.4,91.0 97.4,91.6 96.4,92.4 95.4,93.3 94.4,94.3 93.4,95.2 92.4,95.7 91.4,95.4 90.4,94.6 89.4,93.6 88.4,92.5 87.4,91.6 86.4,91.3 85.4,91.1 84.4,90.4 83.4,89.6 82.4,89.1 81.4,88.8 80.4,87.9 79.4,86.6 78.4,85.9 77.4,86.6 76.4,87.7 75.4,88.2 74.4,88.0 73.4,87.9 72.4,88.0 71.4,88.7 70.4,90.9 69.4,94.4 68.4,96.5 67.4,97.0 66.4,96.5 65.4,95.6 64.4,94.9 63.4,94.7 62.4,95.0 61.4,95.1 60.4,94.9 59.4,94.7 58.4,94.7 57.4,94.8 56.4,94.9Z" fill="#d9d9d9" stroke="none"/>
<path d="M56.4,145.5 57.4,146.7 58.4,148.2 59.4,149.4 60.4,150.3 61.4,150.8 62.4,151.1 63.4,151.1 64.4,150.9 65.4,150.4 66.4,150.1 67.4,150.0 68.4,150.2 69.4,150.6 70.4,151.2 71.4,151.8 72.4,152.4 73.4,152.8 74.4,152.7 75.4,152.0 76.4,150.8 77.4,149.4 78.4,148.3 79.4,147.5 80.4,146.9 81.4,145.7 82.4,143.5 83.4,140.9 84.4,139.1 85.4,137.9 86.4,136.6 87.4,134.9 88.4,133.3 89.4,132.8 90.4,134.4 91.4,138.4 92.4,143.2 93.4,146.5 94.4,147.7 95.4,148.0 96.4,148.4 97.4,149.2 98.4,150.1 99.4,151.0 100.4,152.0 101.4,152.9 102.4,153.3 103.4,152.9 104.4,151.3 105.4,148.7 106.4,145.3 107.4,142.7 108.4,142.4 109.4,143.8 110.4,145.2 111.4,146.4 112.4,147.4 113.4,148.0 114.4,148.0 115.4,147.2 116.4,146.1 117.4,145.3 118.4,145.2 119.4,146.0 120.4,147.5 121.4,149.2 122.4,151.0 123.4,152.7 124.4,153.8 125.4,153.8 126.4,152.5 127.4,149.8 128.4,146.4 129.4,144.4 130.4,144.1 131.4,144.7 132.4,145.6 133.4,146.6 134.4,147.3 135.4,147.4 136.4,147.0 137.4,146.6 138.4,147.0 139.4,148.1 140.4,149.1 141.4,149.6 142.4,149.8 143.4,149.9 144.4,149.9 145.4,149.8 146.4,149.6 147.4,149.3 148.4,148.6 149.4,147.3 150.4,145.8 151.4,145.2 152.4,146.1 153.4,148.0 154.4,150.0 155.4,151.4 156.4,151.5 157.4,150.3 158.4,148.7 159.4,147.1 160.4,145.5 161.4,144.1 162.4,142.9 163.4,142.6 164.4,143.4 165.4,145.1 166.4,147.4 167.4,149.8 168.4,151.5 169.4,152.4 170.4,152.5 171.4,152.0 172.4,151.3 173.4,151.1 174.4,151.6 175.4,152.2 176.4,152.3 177.4,151.6 178.4,150.4 179.4,149.3 180.4,148.6 181.4,148.9 182.4,149.9 183.4,151.1 184.4,152.2 185.4,153.1 186.4,153.5 187.4,153.0 188.4,151.5 189.4,148.8 190.4,146.5 191.4,146.6 192.4,147.8 193.4,148.6 194.4,148.6 195.4,148.2 196.4,147.7 197.4,147.1 198.4,146.4 199.4,145.6 200.4,144.1 201.4,141.1 202.4,138.4 203.4,139.4 204.4,143.5 205.4,147.1 206.4,148.8 207.4,149.0 208.4,148.6 209.4,148.0 210.4,147.8 211.4,148.1 212.4,149.0 213.4,150.6 214.4,152.1 215.4,152.7 216.4,152.5 217.4,152.2 218.4,152.2 219.4,152.7 220.4,153.3 221.4,153.5 222.4,153.0 223.4,151.6 224.4,149.9 225.4,148.5 226.4,148.2 227.4,149.2 228.4,150.8 229.4,151.7 230.4,151.6 231.4,150.9 232.4,150.5 233.4,150.5 234.4,150.7 235.4,151.0 236.4,151.1 237.4,151.0 238.4,150.3 239.4,149.0 240.4,147.4 241.4,145.9 242.4,146.1 243.4,147.7 244.4,148.8 245.4,148.2 246.4,146.8 247.4,145.7 248.4,145.6 249.4,146.7 250.4,148.2 251.4,149.4 252.4,150.4 253.4,151.3 254.4,151.7 255.4,151.5 256.4,150.5 257.4,149.4 258.4,149.1 259.4,149.7 260.4,150.6 261.4,150.9 262.4,150.5 263.4,149.8 264.4,149.4 265.4,149.3 266.4,149.6 267.4,150.4 268.4,151.8 269.4,152.7 270.4,152.3 271.4,150.7 272.4,148.5 273.4,146.7 274.4,145.9 275.4,146.4 276.4,147.4 277.4,148.3 278.4,148.6 279.4,148.8 280.4,148.8 281.4,148.8 282.4,148.7 283.4,148.5 284.4,148.2 285.4,147.8 286.4,147.1 287.4,146.7 288.4,146.9 289.4,147.7 290.4,148.5 291.4,149.0 292.4,149.3 293.4,149.5 294.4,149.6 295.4,149.5 296.4,149.3 297.4,149.1 298.4,148.9 299.4,148.9 300.4,149.1 301.4,149.5 302.4,150.0 303.4,150.2 304.4,149.9 305.4,149.2 306.4,148.6 307.4,148.5 308.4,148.8 309.4,149.3 310.4,149.7 311.4,149.7 312.4,149.5 313.4,149.9 314.4,151.3 315.4,152.5 316.4,152.2 317.4,150.7 318.4,148.9 319.4,147.2 320.4,145.7 321.4,145.2 322.4,146.0 323.4,147.3 324.4,147.8 325.4,147.5 326.4,146.7 327.4,145.5 328.4,144.1 329.4,143.0 330.4,142.9 331.4,144.1 332.4,145.4 333.4,146.0 334.4,145.5 335.4,144.4 336.4,143.7 337.4,143.5 338.4,143.6 339.4,144.0 340.4,144.6 341.4,145.7 342.4,147.0 343.4,147.9 344.4,148.0 345.4,147.4 346.4,147.0 347.4,147.5 348.4,149.0 349.4,150.6 350.4,152.0 351.4,153.2 352.4,153.8 353.4,153.6 354.4,152.4 355.4,150.7 356.4,148.9 357.4,147.9 358.4,147.8 359.4,148.1 360.4,148.4 361.4,148.7 362.4,148.9 363.4,149.1 364.4,149.2 365.4,149.1 366.4,148.9 367.4,148.5 368.4,148.0 369.4,147.4 370.4,147.0 371.4,146.5 372.4,146.1 373.4,145.8 374.4,145.7 375.4,145.9 376.4,146.6 377.4,147.2 378.4,147.5 379.4,147.3 380.4,146.9 381.4,146.7 382.4,147.2 383.4,148.4 384.4,150.0 385.4,151.4 386.4,152.8 387.4,153.9 388.4,154.4 389.4,154.4 390.4,154.0 391.4,153.6 392.4,153.1 393.4,152.5 394.4,151.9 395.4,151.2 396.4,150.3 397.4,149.1 398.4,147.9 399.4,147.3 400.4,147.7 401.4,148.6 402.4,149.5 403.4,149.4 404.4,148.4 405.4,147.8 406.4,148.3 407.4,149.5 408.4,150.6 409.4,150.8 410.4,149.7 411.4,147.8 412.4,145.3 413.4,141.9 414.4,139.2 415.4,139.6 416.4,142.7 417.4,146.3 418.4,148.6 419.4,149.9 420.4,150.7 421.4,151.0 422.4,150.7 423.4,149.9 424.4,148.9 425.4,147.7 426.4,146.6 427.4,146.3 428.4,147.2 429.4,148.8 430.4,150.2 431.4,150.6 432.4,150.1 433.4,149.1 434.4,148.0 435.4,147.3 436.4,147.1 437.4,147.4 438.4,147.6 439.4,147.5 440.4,147.2 440.9,147.2 L440.9,152.8 440.4,152.8 439.4,153.1 438.4,153.2 437.4,153.0 436.4,152.7 435.4,152.9 434.4,153.6 433.4,154.7 432.4,155.7 431.4,156.2 430.4,155.8 429.4,154.4 428.4,152.8 427.4,151.9 426.4,152.2 425.4,153.3 424.4,154.5 423.4,155.5 422.4,156.3 421.4,156.6 420.4,156.3 419.4,155.5 418.4,154.4 417.4,152.8 416.4,150.7 415.4,148.9 414.4,148.4 413.4,149.5 412.4,151.5 411.4,153.5 410.4,155.3 409.4,156.4 408.4,156.2 407.4,155.1 406.4,153.9 405.4,153.4 404.4,154.0 403.4,155.0 402.4,155.1 401.4,154.2 400.4,153.3 399.4,152.9 398.4,153.5 397.4,154.7 396.4,155.9 395.4,156.8 394.4,157.5 393.4,158.1 392.4,158.7 391.4,159.2 390.4,159.6 389.4,160.0 388.4,160.0 387.4,159.5 386.4,158.4 385.4,157.0 384.4,155.6 383.4,154.0 382.4,152.8 381.4,152.3 380.4,152.5 379.4,152.9 378.4,153.1 377.4,152.8 376.4,152.2 375.4,151.5 374.4,151.3 373.4,151.4 372.4,151.7 371.4,152.1 370.4,152.6 369.4,153.0 368.4,153.6 367.4,154.1 366.4,154.5 365.4,154.7 364.4,154.8 363.4,154.7 362.4,154.5 361.4,154.3 360.4,154.0 359.4,153.7 358.4,153.4 357.4,153.5 356.4,154.5 355.4,156.3 354.4,158.0 353.4,159.2 352.4,159.4 351.4,158.8 350.4,157.6 349.4,156.2 348.4,154.6 347.4,153.1 346.4,152.6 345.4,153.0 344.4,153.6 343.4,153.5 342.4,152.6 341.4,151.3 340.4,150.2 339.4,149.6 338.4,149.2 337.4,149.1 336.4,149.3 335.4,150.0 334.4,151.1 333.4,151.6 332.4,151.0 331.4,149.7 330.4,148.5 329.4,148.6 328.4,149.7 327.4,151.1 326.4,152.3 325.4,153.1 324.4,153.4 323.4,152.9 322.4,151.6 321.4,150.8 320.4,151.3 319.4,152.8 318.4,154.5 317.4,156.3 316.4,157.8 315.4,158.1 314.4,156.9 313.4,155.5 312.4,155.1 311.4,155.3 310.4,155.3 309.4,154.9 308.4,154.4 307.4,154.1 306.4,154.2 305.4,154.8 304.4,155.5 303.4,155.8 302.4,155.6 301.4,155.1 300.4,154.7 299.4,154.5 298.4,154.5 297.4,154.7 296.4,154.9 295.4,155.1 294.4,155.2 293.4,155.1 292.4,154.9 291.4,154.6 290.4,154.1 289.4,153.3 288.4,152.5 287.4,152.3 286.4,152.7 285.4,153.4 284.4,153.8 283.4,154.1 282.4,154.3 281.4,154.4 280.4,154.4 279.4,154.4 278.4,154.2 277.4,153.9 276.4,153.0 275.4,152.0 274.4,151.5 273.4,152.3 272.4,154.1 271.4,156.3 270.4,157.9 269.4,158.3 268.4,157.4 267.4,156.0 266.4,155.2 265.4,154.9 264.4,155.0 263.4,155.4 262.4,156.1 261.4,156.5 260.4,156.2 259.4,155.3 258.4,154.7 257.4,155.0 256.4,156.1 255.4,157.1 254.4,157.3 253.4,156.9 252.4,156.0 251.4,155.0 250.4,153.8 249.4,152.3 248.4,151.2 247.4,151.3 246.4,152.4 245.4,153.8 244.4,154.4 243.4,153.3 242.4,151.7 241.4,151.5 240.4,153.0 239.4,154.6 238.4,155.9 237.4,156.6 236.4,156.7 235.4,156.6 234.4,156.3 233.4,156.1 232.4,156.1 231.4,156.5 230.4,157.2 229.4,157.3 228.4,156.4 227.4,154.8 226.4,153.8 225.4,154.1 224.4,155.5 223.4,157.2 222.4,158.6 221.4,159.1 220.4,158.9 219.4,158.3 218.4,157.8 217.4,157.8 216.4,158.1 215.4,158.3 214.4,157.7 213.4,156.2 212.4,154.6 211.4,153.7 210.4,153.4 209.4,153.6 208.4,154.2 207.4,154.6 206.4,154.5 205.4,153.5 204.4,151.9 203.4,150.0 202.4,148.7 201.4,149.0 200.4,150.3 199.4,151.2 198.4,152.0 197.4,152.7 196.4,153.3 195.4,153.8 194.4,154.2 193.4,154.2 192.4,153.4 191.4,152.2 190.4,152.1 189.4,154.4 188.4,157.1 187.4,158.6 186.4,159.1 185.4,158.7 184.4,157.8 183.4,156.7 182.4,155.5 181.4,154.5 180.4,154.2 179.4,154.9 178.4,156.0 177.4,157.2 176.4,157.9 175.4,157.8 174.4,157.2 173.4,156.7 172.4,156.9 171.4,157.6 170.4,158.1 169.4,158.0 168.4,157.1 167.4,155.4 166.4,153.0 165.4,150.7 164.4,149.0 163.4,148.2 162.4,148.5 161.4,149.7 160.4,151.1 159.4,152.7 158.4,154.3 157.4,155.9 156.4,157.1 155.4,157.0 154.4,155.6 153.4,153.6 152.4,151.7 151.4,150.8 150.4,151.4 149.4,152.9 148.4,154.2 147.4,154.9 146.4,155.2 145.4,155.4 144.4,155.5 143.4,155.5 142.4,155.4 141.4,155.2 140.4,154.7 139.4,153.7 138.4,152.6 137.4,152.2 136.4,152.6 135.4,153.0 134.4,152.9 133.4,152.2 132.4,151.2 131.4,150.3 130.4,149.7 129.4,150.0 128.4,152.0 127.4,155.4 126.4,158.1 125.4,159.4 124.4,159.4 123.4,158.3 122.4,156.6 121.4,154.8 120.4,153.1 119.4,151.6 118.4,150.8 117.4,150.9 116.4,151.7 115.4,152.8 114.4,153.6 113.4,153.6 112.4,153.0 111.4,152.0 110.4,150.8 109.4,149.4 108.4,148.0 107.4,148.3 106.4,150.9 105.4,154.3 104.4,156.9 103.4,158.5 102.4,158.9 101.4,158.5 100.4,157.6 99.4,156.6 98.4,155.7 97.4,154.8 96.4,154.0 95.4,153.6 94.4,153.3 93.4,152.1 92.4,148.9 91.4,144.4 90.4,141.1 89.4,140.8 88.4,142.7 87.4,145.3 86.4,148.0 85.4,150.1 84.4,151.7 83.4,153.5 82.4,155.7 81.4,157.6 80.4,158.6 79.4,158.9 78.4,158.9 77.4,158.8 76.4,158.8 75.4,158.8 74.4,158.7 73.4,158.5 72.4,158.1 71.4,157.4 70.4,156.8 69.4,156.2 68.4,155.8 67.4,155.6 66.4,155.7 65.4,156.0 64.4,156.5 63.4,156.7 62.4,156.7 61.4,156.4 60.4,155.9 59.4,155.0 58.4,153.8 57.4,152.3 56.4,151.1Z" fill="#d9d9d9" stroke="none"/>
<path d="M56.4,216.7 57.4,217.3 58.4,218.1 59.4,219.0 60.4,219.8 61.4,220.0 62.4,219.0 63.4,216.9 64.4,214.5 65.4,212.2 66.4,210.1 67.4,209.2 68.4,210.0 69.4,212.3 70.4,214.7 71.4,217.1 72.4,218.5 73.4,218.3 74.4,216.5 75.4,213.0 76.4,208.4 77.4,205.7 78.4,207.1 79.4,210.2 80.4,212.5 81.4,214.1 82.4,215.2 83.4,215.5 84.4,214.9 85.4,213.8 86.4,213.1 87.4,213.8 88.4,215.3 89.4,216.3 90.4,216.8 91.4,216.7 92.4,215.9 93.4,214.3 94.4,211.6 95.4,208.2 96.4,205.5 97.4,204.4 98.4,205.0 99.4,206.4 100.4,207.7 101.4,208.9 102.4,209.9 103.4,210.4 104.4,210.3 105.4,210.0 106.4,210.2 107.4,211.5 108.4,213.6 109.4,215.7 110.4,217.6 111.4,219.2 112.4,220.4 113.4,220.5 114.4,218.9 115.4,216.3 116.4,213.6 117.4,211.1 118.4,209.0 119.4,207.6 120.4,206.9 121.4,206.8 122.4,207.4 123.4,208.9 124.4,210.9 125.4,212.8 126.4,214.1 127.4,214.4 128.4,213.7 129.4,213.1 130.4,213.3 131.4,213.7 132.4,213.8 133.4,213.5 134.4,213.1 135.4,212.8 136.4,212.5 137.4,212.3 138.4,212.2 139.4,212.0 140.4,211.8 141.4,211.8 142.4,212.6 143.4,214.4 144.4,216.1 145.4,217.7 146.4,218.8 147.4,219.0 148.4,217.7 149.4,215.4 150.4,212.8 151.4,210.0 152.4,207.7 153.4,206.6 154.4,207.5 155.4,209.7 156.4,212.5 157.4,215.4 158.4,217.9 159.4,218.8 160.4,217.7 161.4,215.3 162.4,212.4 163.4,209.5 164.4,208.0 165.4,208.6 166.4,210.5 167.4,213.1 168.4,215.9 169.4,218.5 170.4,220.4 171.4,220.8 172.4,219.8 173.4,218.4 174.4,217.3 175.4,216.6 176.4,216.7 177.4,217.5 178.4,218.7 179.4,219.8 180.4,220.8 181.4,221.0 182.4,219.0 183.4,215.3 184.4,211.7 185.4,209.5 186.4,209.4 187.4,210.5 188.4,211.7 189.4,212.1 190.4,211.2 191.4,209.8 192.4,208.7 193.4,208.3 194.4,209.3 195.4,211.4 196.4,213.7 197.4,215.5 198.4,217.0 199.4,217.9 200.4,218.0 201.4,217.5 202.4,216.6 203.4,215.7 204.4,214.6 205.4,213.5 206.4,212.5 207.4,212.0 208.4,212.4 209.4,213.8 210.4,215.9 211.4,217.9 212.4,218.2 213.4,217.1 214.4,215.5 215.4,214.1 216.4,213.6 217.4,214.5 218.4,216.4 219.4,218.7 220.4,220.0 221.4,218.9 222.4,215.8 223.4,212.3 224.4,209.3 225.4,207.1 226.4,206.4 227.4,207.5 228.4,209.7 229.4,212.6 230.4,214.9 231.4,216.2 232.4,216.7 233.4,216.6 234.4,216.2 235.4,216.6 236.4,217.9 237.4,219.1 238.4,219.9 239.4,219.4 240.4,217.5 241.4,215.2 242.4,213.2 243.4,211.7 244.4,210.5 245.4,210.0 246.4,210.3 247.4,211.3 248.4,212.8 249.4,214.2 250.4,214.8 251.4,214.7 252.4,214.3 253.4,214.2 254.4,214.6 255.4,215.2 256.4,215.6 257.4,215.5 258.4,215.2 259.4,214.4 260.4,212.9 261.4,211.0 262.4,209.4 263.4,208.5 264.4,208.4 265.4,209.4 266.4,210.9 267.4,212.3 268.4,213.6 269.4,214.6 270.4,214.7 271.4,214.1 272.4,212.8 273.4,211.1 274.4,209.3 275.4,209.5 276.4,211.8 277.4,214.5 278.4,216.7 279.4,218.7 280.4,220.3 281.4,220.9 282.4,219.7 283.4,217.2 284.4,214.6 285.4,212.4 286.4,211.2 287.4,211.8 288.4,213.3 289.4,214.4 290.4,214.5 291.4,214.0 292.4,213.2 293.4,212.1 294.4,211.0 295.4,210.3 296.4,210.4 297.4,211.4 298.4,212.4 299.4,212.9 300.4,212.1 301.4,210.4 302.4,208.5 303.4,206.8 304.4,205.2 305.4,204.1 306.4,203.9 307.4,204.6 308.4,206.0 309.4,207.3 310.4,208.3 311.4,209.1 312.4,209.7 313.4,210.3 314.4,210.8 315.4,211.6 316.4,212.8 317.4,214.0 318.4,214.8 319.4,215.2 320.4,215.1 321.4,214.4 322.4,213.5 323.4,212.6 324.4,211.8 325.4,211.5 326.4,211.9 327.4,212.6 328.4,212.8 329.4,212.5 330.4,212.5 331.4,213.5 332.4,215.2 333.4,217.2 334.4,219.3 335.4,220.7 336.4,220.1 337.4,217.8 338.4,214.9 339.4,212.0 340.4,209.5 341.4,208.4 342.4,208.9 343.4,210.2 344.4,211.5 345.4,212.6 346.4,213.6 347.4,214.1 348.4,213.8 349.4,212.6 350.4,210.9 351.4,209.0 352.4,207.5 353.4,207.2 354.4,208.2 355.4,210.0 356.4,212.0 357.4,214.3 358.4,216.7 359.4,218.1 360.4,217.6 361.4,215.1 362.4,212.4 363.4,209.9 364.4,207.8 365.4,206.6 366.4,206.9 367.4,208.5 368.4,210.7 369.4,213.1 370.4,214.4 371.4,214.0 372.4,212.5 373.4,210.9 374.4,209.4 375.4,208.5 376.4,208.9 377.4,210.2 378.4,211.3 379.4,211.5 380.4,211.5 381.4,211.7 382.4,212.5 383.4,213.5 384.4,214.6 385.4,215.6 386.4,216.4 387.4,216.8 388.4,216.5 389.4,215.4 390.4,214.0 391.4,212.8 392.4,211.8 393.4,210.9 394.4,210.2 395.4,210.0 396.4,210.3 397.4,210.9 398.4,211.5 399.4,212.1 400.4,212.6 401.4,213.0 402.4,213.4 403.4,213.6 404.4,213.7 405.4,213.7 406.4,213.5 407.4,213.0 408.4,212.1 409.4,211.8 410.4,212.4 411.4,213.6 412.4,215.1 413.4,216.8 414.4,218.4 415.4,219.9 416.4,221.2 417.4,221.9 418.4,221.8 419.4,221.0 420.4,219.9 421.4,218.6 422.4,217.5 423.4,216.7 424.4,216.4 425.4,216.1 426.4,215.8 427.4,215.2 428.4,213.5 429.4,210.3 430.4,206.4 431.4,203.0 432.4,201.8 433.4,203.8 434.4,207.4 435.4,210.5 436.4,212.8 437.4,214.8 438.4,216.4 439.4,217.2 440.4,216.9 441.4,216.2 L441.4,222.2 440.4,222.9 439.4,223.2 438.4,222.4 437.4,220.8 436.4,218.8 435.4,216.7 434.4,214.3 433.4,211.9 432.4,210.9 431.4,211.9 430.4,214.3 429.4,217.1 428.4,219.7 427.4,221.2 426.4,221.8 425.4,222.1 424.4,222.4 423.4,222.8 422.4,223.5 421.4,224.7 420.4,226.0 419.4,227.2 418.4,228.2 417.4,228.6 416.4,228.1 415.4,227.1 414.4,225.8 413.4,224.4 412.4,222.9 411.4,221.5 410.4,220.3 409.4,219.7 408.4,220.0 407.4,220.7 406.4,221.2 405.4,221.3 404.4,221.2 403.4,220.8 402.4,220.3 401.4,219.6 400.4,218.9 399.4,218.2 398.4,217.6 397.4,216.9 396.4,216.3 395.4,216.0 394.4,216.2 393.4,216.9 392.4,217.8 391.4,218.8 390.4,220.0 389.4,221.4 388.4,222.5 387.4,222.8 386.4,222.4 385.4,221.6 384.4,220.9 383.4,220.3 382.4,219.8 381.4,219.4 380.4,219.1 379.4,218.7 378.4,217.9 377.4,216.5 376.4,214.9 375.4,214.5 374.4,215.4 373.4,216.9 372.4,218.5 371.4,220.0 370.4,220.4 369.4,219.1 368.4,216.7 367.4,214.5 366.4,212.9 365.4,212.6 364.4,213.9 363.4,216.3 362.4,219.5 361.4,223.1 360.4,226.1 359.4,226.6 358.4,224.5 357.4,221.3 356.4,218.4 355.4,216.0 354.4,214.3 353.4,213.2 352.4,213.5 351.4,215.0 350.4,216.9 349.4,218.6 348.4,219.8 347.4,220.1 346.4,219.6 345.4,218.6 344.4,217.5 343.4,216.2 342.4,214.9 341.4,214.4 340.4,215.5 339.4,218.0 338.4,220.9 337.4,223.8 336.4,226.1 335.4,226.7 334.4,225.3 333.4,223.2 332.4,221.2 331.4,219.5 330.4,218.5 329.4,218.5 328.4,218.8 327.4,218.6 326.4,217.9 325.4,217.5 324.4,217.8 323.4,218.6 322.4,219.5 321.4,220.4 320.4,221.1 319.4,221.2 318.4,220.8 317.4,220.0 316.4,218.8 315.4,217.6 314.4,216.8 313.4,216.3 312.4,215.7 311.4,215.1 310.4,214.3 309.4,213.3 308.4,212.0 307.4,210.6 306.4,209.9 305.4,210.1 304.4,211.2 303.4,212.8 302.4,214.5 301.4,216.4 300.4,218.1 299.4,218.9 298.4,218.4 297.4,217.4 296.4,216.4 295.4,216.3 294.4,217.0 293.4,218.1 292.4,219.2 291.4,220.0 290.4,220.5 289.4,220.4 288.4,219.3 287.4,217.8 286.4,217.2 285.4,218.4 284.4,220.6 283.4,223.2 282.4,225.7 281.4,226.9 280.4,226.3 279.4,224.7 278.4,222.7 277.4,220.8 276.4,218.8 275.4,217.3 274.4,217.0 273.4,217.9 272.4,219.1 271.4,220.1 270.4,220.7 269.4,220.6 268.4,219.6 267.4,218.3 266.4,216.9 265.4,215.4 264.4,214.4 263.4,214.5 262.4,215.4 261.4,217.0 260.4,218.9 259.4,220.4 258.4,221.2 257.4,221.5 256.4,221.6 255.4,221.2 254.4,220.6 253.4,220.2 252.4,220.3 251.4,220.7 250.4,220.8 249.4,220.2 248.4,218.8 247.4,217.3 246.4,216.3 245.4,216.0 244.4,216.5 243.4,217.7 242.4,219.2 241.4,221.2 240.4,223.5 239.4,225.4 238.4,225.9 237.4,225.1 236.4,223.9 235.4,222.6 234.4,222.2 233.4,222.6 232.4,222.7 231.4,222.2 230.4,220.9 229.4,218.6 228.4,215.7 227.4,213.5 226.4,212.4 225.4,213.1 224.4,215.3 223.4,218.3 222.4,221.8 221.4,224.9 220.4,226.0 219.4,224.7 218.4,222.4 217.4,220.5 216.4,219.6 215.4,220.1 214.4,221.5 213.4,223.1 212.4,224.2 211.4,223.9 210.4,221.9 209.4,219.8 208.4,218.4 207.4,218.0 206.4,218.5 205.4,219.5 204.4,220.6 203.4,221.7 202.4,222.6 201.4,223.5 200.4,224.0 199.4,223.9 198.4,223.0 197.4,221.5 196.4,219.7 195.4,217.4 194.4,215.3 193.4,214.3 192.4,214.7 191.4,215.8 190.4,217.2 189.4,218.1 188.4,217.7 187.4,216.5 186.4,215.4 185.4,215.5 184.4,217.7 183.4,221.3 182.4,225.0 181.4,227.0 180.4,226.8 179.4,225.8 178.4,224.7 177.4,223.5 176.4,222.7 175.4,222.6 174.4,223.3 173.4,224.4 172.4,225.8 171.4,226.8 170.4,226.4 169.4,224.5 168.4,221.9 167.4,219.1 166.4,216.5 165.4,214.6 164.4,214.0 163.4,215.5 162.4,218.5 161.4,221.5 160.4,224.2 159.4,226.3 158.4,226.5 157.4,225.2 156.4,223.0 155.4,220.1 154.4,217.1 153.4,215.0 152.4,214.9 151.4,216.5 150.4,218.9 149.4,221.4 148.4,223.7 147.4,225.0 146.4,224.8 145.4,223.7 144.4,222.1 143.4,220.4 142.4,218.8 141.4,218.2 140.4,218.7 139.4,219.5 138.4,220.2 137.4,221.0 136.4,221.7 135.4,222.4 134.4,223.0 133.4,223.3 132.4,223.4 131.4,222.8 130.4,221.8 129.4,221.0 128.4,221.0 127.4,221.1 126.4,220.5 125.4,218.9 124.4,217.0 123.4,215.1 122.4,213.8 121.4,213.5 120.4,213.8 119.4,214.5 118.4,215.6 117.4,217.4 116.4,219.7 115.4,222.4 114.4,224.9 113.4,226.5 112.4,226.4 111.4,225.2 110.4,223.6 109.4,221.7 108.4,219.6 107.4,217.5 106.4,216.2 105.4,216.0 104.4,216.3 103.4,216.4 102.4,215.9 101.4,214.9 100.4,213.7 99.4,212.4 98.4,211.1 97.4,210.7 96.4,211.8 95.4,214.3 94.4,217.6 93.4,220.3 92.4,221.9 91.4,222.7 90.4,222.8 89.4,222.3 88.4,221.3 87.4,219.8 86.4,219.1 85.4,219.8 84.4,220.9 83.4,221.5 82.4,221.2 81.4,220.1 80.4,218.5 79.4,216.4 78.4,213.7 77.4,212.7 76.4,215.3 75.4,219.4 74.4,222.6 73.4,224.3 72.4,224.5 71.4,223.1 70.4,220.7 69.4,218.3 68.4,216.0 67.4,215.2 66.4,216.1 65.4,218.2 64.4,220.5 63.4,222.9 62.4,225.0 61.4,226.0 60.4,225.8 59.4,225.0 58.4,224.1 57.4,223.3 56.4,222.7Z" fill="#d9d9d9" stroke="none"/>
<path d="M56.4,247.0 57.4,247.6 58.4,248.4 59.4,249.3 60.4,250.1 61.4,250.3 62.4,249.3 63.4,247.2 64.4,244.8 65.4,242.5 66.4,240.4 67.4,239.5 68.4,240.3 69.4,242.6 70.4,245.0 71.4,247.4 72.4,248.8 73.4,248.6 74.4,246.8 75.4,243.3 76.4,238.7 77.4,236.0 78.4,237.4 79.4,240.5 80.4,242.8 81.4,244.4 82.4,245.5 83.4,245.8 84.4,245.2 85.4,244.1 86.4,243.4 87.4,244.1 88.4,245.6 89.4,246.6 90.4,247.1 91.4,247.0 92.4,246.2 93.4,244.6 94.4,241.9 95.4,238.5 96.4,235.8 97.4,234.7 98.4,235.3 99.4,236.7 100.4,238.0 101.4,239.2 102.4,240.2 103.4,240.7 104.4,240.6 105.4,240.3 106.4,240.5 107.4,241.8 108.4,243.9 109.4,246.0 110.4,247.9 111.4,249.5 112.4,250.7 113.4,250.8 114.4,249.2 115.4,246.6 116.4,243.9 117.4,241.4 118.4,239.3 119.4,237.9 120.4,237.2 121.4,237.1 122.4,237.7 123.4,239.2 124.4,241.2 125.4,243.1 126.4,244.4 127.4,244.7 128.4,244.0 129.4,243.4 130.4,243.6 131.4,244.0 132.4,244.1 133.4,243.8 134.4,243.4 135.4,243.1 136.4,242.8 137.4,242.6 138.4,242.5 139.4,242.3 140.4,242.1 141.4,242.1 142.4,242.9 143.4,244.7 144.4,246.4 145.4,248.0 146.4,249.1 147.4,249.3 148.4,248.0 149.4,245.7 150.4,243.1 151.4,240.3 152.4,238.0 153.4,236.9 154.4,237.8 155.4,240.0 156.4,242.8 157.4,245.7 158.4,248.2 159.4,249.1 160.4,248.0 161.4,245.6 162.4,242.7 163.4,239.8 164.4,238.3 165.4,238.9 166.4,240.8 167.4,243.4 168.4,246.2 169.4,248.8 170.4,250.7 171.4,251.1 172.4,250.1 173.4,248.7 174.4,247.6 175.4,246.9 176.4,247.0 177.4,247.8 178.4,249.0 179.4,250.1 180.4,251.1 181.4,251.3 182.4,249.3 183.4,245.6 184.4,242.0 185.4,239.8 186.4,239.7 187.4,240.8 188.4,242.0 189.4,242.4 190.4,241.5 191.4,240.1 192.4,239.0 193.4,238.6 194.4,239.6 195.4,241.7 196.4,244.0 197.4,245.8 198.4,247.3 199.4,248.2 200.4,248.3 201.4,247.8 202.4,246.9 203.4,246.0 204.4,244.9 205.4,243.8 206.4,242.8 207.4,242.3 208.4,242.7 209.4,244.1 210.4,246.2 211.4,248.2 212.4,248.5 213.4,247.4 214.4,245.8 215.4,244.4 216.4,243.9 217.4,244.8 218.4,246.7 219.4,249.0 220.4,250.3 221.4,249.2 222.4,246.1 223.4,242.6 224.4,239.6 225.4,237.4 226.4,236.7 227.4,237.8 228.4,240.0 229.4,242.9 230.4,245.2 231.4,246.5 232.4,247.0 233.4,246.9 234.4,246.5 235.4,246.9 236.4,248.2 237.4,249.4 238.4,250.2 239.4,249.7 240.4,247.8 241.4,245.5 242.4,243.5 243.4,242.0 244.4,240.8 245.4,240.3 246.4,240.6 247.4,241.6 248.4,243.1 249.4,244.5 250.4,245.1 251.4,245.0 252.4,244.6 253.4,244.5 254.4,244.9 255.4,245.5 256.4,245.9 257.4,245.8 258.4,245.5 259.4,244.7 260.4,243.2 261.4,241.3 262.4,239.7 263.4,238.8 264.4,238.7 265.4,239.7 266.4,241.2 267.4,242.6 268.4,243.9 269.4,244.9 270.4,245.0 271.4,244.4 272.4,243.1 273.4,241.4 274.4,239.6 275.4,239.8 276.4,242.1 277.4,244.8 278.4,247.0 279.4,249.0 280.4,250.6 281.4,251.2 282.4,250.0 283.4,247.5 284.4,244.9 285.4,242.7 286.4,241.5 287.4,242.1 288.4,243.6 289.4,244.7 290.4,244.8 291.4,244.3 292.4,243.5 293.4,242.4 294.4,241.3 295.4,240.6 296.4,240.7 297.4,241.7 298.4,242.7 299.4,243.2 300.4,242.4 301.4,240.7 302.4,238.8 303.4,237.1 304.4,235.5 305.4,234.4 306.4,234.2 307.4,234.9 308.4,236.3 309.4,237.6 310.4,238.6 311.4,239.4 312.4,240.0 313.4,240.6 314.4,241.1 315.4,241.9 316.4,243.1 317.4,244.3 318.4,245.1 319.4,245.5 320.4,245.4 321.4,244.7 322.4,243.8 323.4,242.9 324.4,242.1 325.4,241.8 326.4,242.2 327.4,242.9 328.4,243.1 329.4,242.8 330.4,242.8 331.4,243.8 332.4,245.5 333.4,247.5 334.4,249.6 335.4,251.0 336.4,250.4 337.4,248.1 338.4,245.2 339.4,242.3 340.4,239.8 341.4,238.7 342.4,239.2 343.4,240.5 344.4,241.8 345.4,242.9 346.4,243.9 347.4,244.4 348.4,244.1 349.4,242.9 350.4,241.2 351.4,239.3 352.4,237.8 353.4,237.5 354.4,238.5 355.4,240.3 356.4,242.3 357.4,244.6 358.4,247.0 359.4,248.4 360.4,247.9 361.4,245.4 362.4,242.7 363.4,240.2 364.4,238.1 365.4,236.9 366.4,237.2 367.4,238.8 368.4,241.0 369.4,243.4 370.4,244.7 371.4,244.3 372.4,242.8 373.4,241.2 374.4,239.7 375.4,238.8 376.4,239.2 377.4,240.5 378.4,241.6 379.4,241.8 380.4,241.8 381.4,242.0 382.4,242.8 383.4,243.8 384.4,244.9 385.4,245.9 386.4,246.7 387.4,247.1 388.4,246.8 389.4,245.7 390.4,244.3 391.4,243.1 392.4,242.1 393.4,241.2 394.4,240.5 395.4,240.3 396.4,240.6 397.4,241.2 398.4,241.8 399.4,242.4 400.4,242.9 401.4,243.3 402.4,243.7 403.4,243.9 404.4,244.0 405.4,244.0 406.4,243.8 407.4,243.3 408.4,242.4 409.4,242.1 410.4,242.7 411.4,243.9 412.4,245.4 413.4,247.1 414.4,248.7 415.4,250.2 416.4,251.5 417.4,252.2 418.4,252.1 419.4,251.3 420.4,250.2 421.4,248.9 422.4,247.8 423.4,247.0 424.4,246.7 425.4,246.4 426.4,246.1 427.4,245.5 428.4,243.8 429.4,240.6 430.4,236.7 431.4,233.3 432.4,232.1 433.4,234.1 434.4,237.7 435.4,240.8 436.4,243.1 437.4,245.1 438.4,246.7 439.4,247.5 440.4,247.2 441.4,246.5 L441.4,252.5 440.4,253.2 439.4,253.5 438.4,252.7 437.4,251.1 436.4,249.1 435.4,247.0 434.4,244.6 433.4,242.2 432.4,241.2 431.4,242.2 430.4,244.6 429.4,247.4 428.4,250.0 427.4,251.5 426.4,252.1 425.4,252.4 424.4,252.7 423.4,253.1 422.4,253.8 421.4,255.0 420.4,256.3 419.4,257.5 418.4,258.5 417.4,258.9 416.4,258.4 415.4,257.4 414.4,256.1 413.4,254.7 412.4,253.2 411.4,251.8 410.4,250.6 409.4,250.0 408.4,250.3 407.4,251.0 406.4,251.5 405.4,251.6 404.4,251.5 403.4,251.1 402.4,250.6 401.4,249.9 400.4,249.2 399.4,248.5 398.4,247.9 397.4,247.2 396.4,246.6 395.4,246.3 394.4,246.5 393.4,247.2 392.4,248.1 391.4,249.1 390.4,250.3 389.4,251.7 388.4,252.8 387.4,253.1 386.4,252.7 385.4,251.9 384.4,251.2 383.4,250.6 382.4,250.1 381.4,249.7 380.4,249.4 379.4,249.0 378.4,248.2 377.4,246.8 376.4,245.2 375.4,244.8 374.4,245.7 373.4,247.2 372.4,248.8 371.4,250.3 370.4,250.7 369.4,249.4 368.4,247.0 367.4,244.8 366.4,243.2 365.4,242.9 364.4,244.2 363.4,246.6 362.4,249.8 361.4,253.4 360.4,256.4 359.4,256.9 358.4,254.8 357.4,251.6 356.4,248.7 355.4,246.3 354.4,244.6 353.4,243.5 352.4,243.8 351.4,245.3 350.4,247.2 349.4,248.9 348.4,250.1 347.4,250.4 346.4,249.9 345.4,248.9 344.4,247.8 343.4,246.5 342.4,245.2 341.4,244.7 340.4,245.8 339.4,248.3 338.4,251.2 337.4,254.1 336.4,256.4 335.4,257.0 334.4,255.6 333.4,253.5 332.4,251.5 331.4,249.8 330.4,248.8 329.4,248.8 328.4,249.1 327.4,248.9 326.4,248.2 325.4,247.8 324.4,248.1 323.4,248.9 322.4,249.8 321.4,250.7 320.4,251.4 319.4,251.5 318.4,251.1 317.4,250.3 316.4,249.1 315.4,247.9 314.4,247.1 313.4,246.6 312.4,246.0 311.4,245.4 310.4,244.6 309.4,243.6 308.4,242.3 307.4,240.9 306.4,240.2 305.4,240.4 304.4,241.5 303.4,243.1 302.4,244.8 301.4,246.7 300.4,248.4 299.4,249.2 298.4,248.7 297.4,247.7 296.4,246.7 295.4,246.6 294.4,247.3 293.4,248.4 292.4,249.5 291.4,250.3 290.4,250.8 289.4,250.7 288.4,249.6 287.4,248.1 286.4,247.5 285.4,248.7 284.4,250.9 283.4,253.5 282.4,256.0 281.4,257.2 280.4,256.6 279.4,255.0 278.4,253.0 277.4,251.1 276.4,249.1 275.4,247.6 274.4,247.3 273.4,248.2 272.4,249.4 271.4,250.4 270.4,251.0 269.4,250.9 268.4,249.9 267.4,248.6 266.4,247.2 265.4,245.7 264.4,244.7 263.4,244.8 262.4,245.7 261.4,247.3 260.4,249.2 259.4,250.7 258.4,251.5 257.4,251.8 256.4,251.9 255.4,251.5 254.4,250.9 253.4,250.5 252.4,250.6 251.4,251.0 250.4,251.1 249.4,250.5 248.4,249.1 247.4,247.6 246.4,246.6 245.4,246.3 244.4,246.8 243.4,248.0 242.4,249.5 241.4,251.5 240.4,253.8 239.4,255.7 238.4,256.2 237.4,255.4 236.4,254.2 235.4,252.9 234.4,252.5 233.4,252.9 232.4,253.0 231.4,252.5 230.4,251.2 229.4,248.9 228.4,246.0 227.4,243.8 226.4,242.7 225.4,243.4 224.4,245.6 223.4,248.6 222.4,252.1 221.4,255.2 220.4,256.3 219.4,255.0 218.4,252.7 217.4,250.8 216.4,249.9 215.4,250.4 214.4,251.8 213.4,253.4 212.4,254.5 211.4,254.2 210.4,252.2 209.4,250.1 208.4,248.7 207.4,248.3 206.4,248.8 205.4,249.8 204.4,250.9 203.4,252.0 202.4,252.9 201.4,253.8 200.4,254.3 199.4,254.2 198.4,253.3 197.4,251.8 196.4,250.0 195.4,247.7 194.4,245.6 193.4,244.6 192.4,245.0 191.4,246.1 190.4,247.5 189.4,248.4 188.4,248.0 187.4,246.8 186.4,245.7 185.4,245.8 184.4,248.0 183.4,251.6 182.4,255.3 181.4,257.3 180.4,257.1 179.4,256.1 178.4,255.0 177.4,253.8 176.4,253.0 175.4,252.9 174.4,253.6 173.4,254.7 172.4,256.1 171.4,257.1 170.4,256.7 169.4,254.8 168.4,252.2 167.4,249.4 166.4,246.8 165.4,244.9 164.4,244.3 163.4,245.8 162.4,248.8 161.4,251.8 160.4,254.5 159.4,256.6 158.4,256.8 157.4,255.5 156.4,253.3 155.4,250.4 154.4,247.4 153.4,245.3 152.4,245.2 151.4,246.8 150.4,249.2 149.4,251.7 148.4,254.0 147.4,255.3 146.4,255.1 145.4,254.0 144.4,252.4 143.4,250.7 142.4,249.1 141.4,248.5 140.4,249.0 139.4,249.8 138.4,250.5 137.4,251.3 136.4,252.0 135.4,252.7 134.4,253.3 133.4,253.6 132.4,253.7 131.4,253.1 130.4,252.1 129.4,251.3 128.4,251.3 127.4,251.4 126.4,250.8 125.4,249.2 124.4,247.3 123.4,245.4 122.4,244.1 121.4,243.8 120.4,244.1 119.4,244.8 118.4,245.9 117.4,247.7 116.4,250.0 115.4,252.7 114.4,255.2 113.4,256.8 112.4,256.7 111.4,255.5 110.4,253.9 109.4,252.0 108.4,249.9 107.4,247.8 106.4,246.5 105.4,246.3 104.4,246.6 103.4,246.7 102.4,246.2 101.4,245.2 100.4,244.0 99.4,242.7 98.4,241.4 97.4,241.0 96.4,242.1 95.4,244.6 94.4,247.9 93.4,250.6 92.4,252.2 91.4,253.0 90.4,253.1 89.4,252.6 88.4,251.6 87.4,250.1 86.4,249.4 85.4,250.1 84.4,251.2 83.4,251.8 82.4,251.5 81.4,250.4 80.4,248.8 79.4,246.7 78.4,244.0 77.4,243.0 76.4,245.6 75.4,249.7 74.4,252.9 73.4,254.6 72.4,254.8 71.4,253.4 70.4,251.0 69.4,248.6 68.4,246.3 67.4,245.5 66.4,246.4 65.4,248.5 64.4,250.8 63.4,253.2 62.4,255.3 61.4,256.3 60.4,256.1 59.4,255.3 58.4,254.4 57.4,253.6 56.4,253.0Z" fill="#d9d9d9" stroke="none"/>
<path d="M56.4,278.2 57.4,278.4 58.4,278.9 59.4,279.8 60.4,280.6 61.4,280.2 62.4,278.9 63.4,277.1 64.4,275.3 65.4,273.5 66.4,272.1 67.4,271.5 68.4,272.4 69.4,274.3 70.4,276.6 71.4,278.8 72.4,280.3 73.4,279.9 74.4,277.8 75.4,274.3 76.4,270.1 77.4,268.0 78.4,269.5 79.4,272.2 80.4,274.2 81.4,275.6 82.4,276.4 83.4,276.6 84.4,276.1 85.4,275.5 86.4,275.2 87.4,275.7 88.4,276.9 89.4,278.2 90.4,278.9 91.4,278.8 92.4,277.9 93.4,276.1 94.4,273.7 95.4,271.0 96.4,268.5 97.4,266.8 98.4,266.7 99.4,267.8 100.4,269.3 101.4,270.5 102.4,271.4 103.4,272.1 104.4,272.3 105.4,272.0 106.4,271.8 107.4,272.3 108.4,273.7 109.4,275.6 110.4,277.5 111.4,279.2 112.4,280.3 113.4,280.7 114.4,280.2 115.4,278.8 116.4,276.9 117.4,274.7 118.4,272.4 119.4,270.6 120.4,270.0 121.4,270.4 122.4,271.4 123.4,272.3 124.4,273.0 125.4,273.5 126.4,274.0 127.4,274.5 128.4,274.8 129.4,274.6 130.4,274.2 131.4,274.1 132.4,274.5 133.4,275.2 134.4,275.6 135.4,275.5 136.4,275.1 137.4,274.6 138.4,274.4 139.4,274.3 140.4,274.2 141.4,274.1 142.4,274.1 143.4,274.5 144.4,275.6 145.4,277.0 146.4,278.5 147.4,279.8 148.4,280.4 149.4,279.7 150.4,278.1 151.4,275.8 152.4,273.0 153.4,270.7 154.4,270.6 155.4,272.7 156.4,274.9 157.4,276.1 158.4,276.8 159.4,277.6 160.4,278.5 161.4,279.1 162.4,278.3 163.4,275.8 164.4,273.1 165.4,271.1 166.4,271.1 167.4,272.8 168.4,275.0 169.4,277.4 170.4,279.4 171.4,280.9 172.4,281.8 173.4,281.7 174.4,280.7 175.4,279.5 176.4,278.6 177.4,278.1 178.4,278.1 179.4,278.4 180.4,279.0 181.4,280.1 182.4,281.6 183.4,282.3 184.4,280.5 185.4,277.1 186.4,273.9 187.4,271.5 188.4,270.8 189.4,271.7 190.4,273.1 191.4,273.6 192.4,273.1 193.4,271.9 194.4,270.6 195.4,269.8 196.4,270.2 197.4,272.1 198.4,274.5 199.4,276.8 200.4,278.8 201.4,280.0 202.4,280.2 203.4,279.7 204.4,278.9 205.4,277.9 206.4,276.7 207.4,275.4 208.4,274.3 209.4,273.9 210.4,274.6 211.4,276.2 212.4,278.0 213.4,279.7 214.4,280.3 215.4,279.4 216.4,277.9 217.4,276.4 218.4,275.5 219.4,275.8 220.4,277.1 221.4,278.8 222.4,279.9 223.4,278.8 224.4,275.6 225.4,272.3 226.4,269.7 227.4,268.1 228.4,267.9 229.4,269.0 230.4,270.7 231.4,272.9 232.4,275.2 233.4,277.0 234.4,278.1 235.4,278.7 236.4,278.8 237.4,279.1 238.4,280.0 239.4,280.8 240.4,281.0 241.4,280.2 242.4,278.7 243.4,277.1 244.4,275.6 245.4,274.2 246.4,273.2 247.4,272.7 248.4,272.8 249.4,273.3 250.4,273.8 251.4,274.5 252.4,275.1 253.4,275.7 254.4,276.1 255.4,276.5 256.4,276.8 257.4,277.2 258.4,277.5 259.4,277.4 260.4,276.7 261.4,275.5 262.4,274.1 263.4,272.7 264.4,271.3 265.4,270.1 266.4,269.5 267.4,269.9 268.4,271.0 269.4,272.6 270.4,274.5 271.4,276.1 272.4,276.5 273.4,275.9 274.4,274.8 275.4,273.7 276.4,272.8 277.4,272.8 278.4,273.6 279.4,275.0 280.4,276.6 281.4,278.3 282.4,280.2 283.4,281.9 284.4,282.3 285.4,280.7 286.4,278.4 287.4,276.1 288.4,274.3 289.4,273.4 290.4,274.0 291.4,275.2 292.4,276.0 293.4,275.8 294.4,275.2 295.4,274.6 296.4,274.0 297.4,273.2 298.4,272.5 299.4,272.4 300.4,273.3 301.4,273.7 302.4,272.9 303.4,271.0 304.4,269.1 305.4,267.7 306.4,266.8 307.4,266.3 308.4,266.2 309.4,266.4 310.4,267.0 311.4,267.7 312.4,268.4 313.4,269.2 314.4,270.2 315.4,271.4 316.4,272.7 317.4,273.9 318.4,274.9 319.4,275.6 320.4,276.0 321.4,276.1 322.4,275.8 323.4,275.3 324.4,274.6 325.4,273.8 326.4,273.3 327.4,273.6 328.4,274.3 329.4,274.7 330.4,274.5 331.4,274.1 332.4,274.2 333.4,275.0 334.4,276.3 335.4,277.8 336.4,279.3 337.4,280.7 338.4,281.6 339.4,281.6 340.4,280.8 341.4,279.1 342.4,276.7 343.4,274.0 344.4,271.5 345.4,270.0 346.4,270.0 347.4,271.1 348.4,272.5 349.4,274.1 350.4,275.5 351.4,276.0 352.4,275.5 353.4,274.5 354.4,272.9 355.4,270.8 356.4,269.2 357.4,269.2 358.4,270.7 359.4,272.8 360.4,275.2 361.4,277.9 362.4,279.9 363.4,280.2 364.4,278.7 365.4,276.3 366.4,273.9 367.4,271.6 368.4,269.5 369.4,268.2 370.4,268.6 371.4,270.5 372.4,272.9 373.4,275.2 374.4,276.2 375.4,275.6 376.4,274.4 377.4,273.0 378.4,271.6 379.4,270.5 380.4,270.1 381.4,270.8 382.4,272.1 383.4,273.0 384.4,273.1 385.4,272.7 386.4,272.6 387.4,273.2 388.4,274.4 389.4,275.7 390.4,276.9 391.4,278.1 392.4,278.8 393.4,278.7 394.4,277.9 395.4,276.7 396.4,275.5 397.4,274.4 398.4,273.3 399.4,272.3 400.4,271.5 401.4,271.1 402.4,271.2 403.4,271.9 404.4,272.6 405.4,273.2 406.4,273.8 407.4,274.3 408.4,274.7 409.4,274.9 410.4,274.9 411.4,274.9 412.4,274.9 413.4,274.9 414.4,274.9 415.4,275.1 416.4,275.6 417.4,276.4 418.4,277.7 419.4,279.0 420.4,280.4 421.4,281.7 422.4,282.8 423.4,283.2 424.4,282.6 425.4,281.5 426.4,280.4 427.4,279.6 428.4,279.0 429.4,278.6 430.4,278.4 431.4,278.0 432.4,277.4 433.4,276.3 434.4,274.4 435.4,271.6 436.4,268.4 437.4,266.0 438.4,265.4 439.4,266.5 440.4,268.0 441.4,269.1 L441.4,275.5 440.4,274.7 439.4,273.8 438.4,273.8 437.4,275.3 436.4,277.6 435.4,279.8 434.4,281.5 433.4,282.8 432.4,283.8 431.4,284.4 430.4,284.8 429.4,285.0 428.4,285.4 427.4,286.0 426.4,286.8 425.4,287.9 424.4,289.0 423.4,289.6 422.4,289.2 421.4,288.2 420.4,286.9 419.4,285.6 418.4,284.4 417.4,283.4 416.4,282.7 415.4,282.4 414.4,282.4 413.4,282.6 412.4,282.7 411.4,282.8 410.4,282.9 409.4,282.9 408.4,282.6 407.4,282.1 406.4,281.4 405.4,280.6 404.4,279.8 403.4,278.9 402.4,278.1 401.4,277.8 400.4,278.1 399.4,278.8 398.4,279.8 397.4,280.8 396.4,281.9 395.4,283.1 394.4,284.3 393.4,285.1 392.4,285.2 391.4,284.5 390.4,283.3 389.4,282.1 388.4,280.8 387.4,279.6 386.4,279.0 385.4,279.2 384.4,279.8 383.4,280.0 382.4,279.5 381.4,278.5 380.4,277.8 379.4,277.8 378.4,278.6 377.4,279.6 376.4,280.8 375.4,282.0 374.4,282.6 373.4,281.6 372.4,279.3 371.4,276.9 370.4,275.0 369.4,274.6 368.4,275.9 367.4,278.0 366.4,280.3 365.4,282.7 364.4,285.2 363.4,287.0 362.4,287.3 361.4,286.1 360.4,284.0 359.4,281.5 358.4,278.8 357.4,276.6 356.4,276.0 355.4,277.3 354.4,279.3 353.4,280.9 352.4,281.9 351.4,282.4 350.4,281.9 349.4,280.5 348.4,278.9 347.4,277.5 346.4,276.4 345.4,276.4 344.4,277.9 343.4,280.4 342.4,283.1 341.4,285.6 340.4,287.7 339.4,289.0 338.4,289.4 337.4,288.5 336.4,286.6 335.4,284.5 334.4,282.8 333.4,281.4 332.4,280.6 331.4,280.5 330.4,280.9 329.4,281.1 328.4,280.7 327.4,280.0 326.4,279.7 325.4,280.2 324.4,281.0 323.4,281.7 322.4,282.2 321.4,282.5 320.4,282.4 319.4,282.0 318.4,281.3 317.4,280.3 316.4,279.1 315.4,277.8 314.4,276.6 313.4,275.6 312.4,274.8 311.4,274.1 310.4,273.4 309.4,272.9 308.4,272.8 307.4,273.4 306.4,274.4 305.4,275.6 304.4,277.0 303.4,278.5 302.4,279.9 301.4,280.3 300.4,279.7 299.4,278.9 298.4,278.9 297.4,279.6 296.4,280.4 295.4,281.0 294.4,281.6 293.4,282.2 292.4,282.4 291.4,281.6 290.4,280.4 289.4,279.8 288.4,280.7 287.4,282.5 286.4,284.8 285.4,287.1 284.4,288.7 283.4,288.3 282.4,286.6 281.4,284.7 280.4,283.0 279.4,281.4 278.4,280.0 277.4,279.2 276.4,279.2 275.4,280.1 274.4,281.2 273.4,282.3 272.4,282.9 271.4,282.5 270.4,280.9 269.4,279.0 268.4,277.4 267.4,276.3 266.4,275.9 265.4,276.5 264.4,277.7 263.4,279.1 262.4,280.5 261.4,281.9 260.4,283.1 259.4,283.8 258.4,283.9 257.4,283.6 256.4,283.2 255.4,282.9 254.4,282.5 253.4,282.1 252.4,281.5 251.4,280.9 250.4,280.2 249.4,279.7 248.4,279.2 247.4,279.1 246.4,279.6 245.4,280.6 244.4,282.0 243.4,283.5 242.4,285.1 241.4,286.6 240.4,287.4 239.4,287.2 238.4,286.4 237.4,285.5 236.4,285.2 235.4,285.1 234.4,284.5 233.4,283.4 232.4,281.6 231.4,279.3 230.4,277.1 229.4,275.5 228.4,274.7 227.4,275.5 226.4,277.9 225.4,280.9 224.4,284.1 223.4,286.8 222.4,287.2 221.4,285.6 220.4,283.6 219.4,282.2 218.4,281.9 217.4,282.8 216.4,284.3 215.4,285.8 214.4,286.7 213.4,286.1 212.4,284.4 211.4,282.6 210.4,281.0 209.4,280.3 208.4,280.7 207.4,281.8 206.4,283.1 205.4,284.3 204.4,285.3 203.4,286.1 202.4,286.6 201.4,286.4 200.4,285.2 199.4,283.2 198.4,280.9 197.4,278.5 196.4,276.6 195.4,276.2 194.4,277.0 193.4,278.3 192.4,279.5 191.4,280.0 190.4,279.5 189.4,278.1 188.4,277.2 187.4,277.9 186.4,280.3 185.4,283.5 184.4,286.9 183.4,288.7 182.4,288.0 181.4,286.5 180.4,285.4 179.4,284.8 178.4,284.5 177.4,284.5 176.4,285.0 175.4,285.9 174.4,287.1 173.4,288.1 172.4,288.2 171.4,287.3 170.4,285.8 169.4,283.8 168.4,281.4 167.4,279.2 166.4,277.5 165.4,277.5 164.4,279.5 163.4,282.2 162.4,284.7 161.4,285.6 160.4,285.4 159.4,285.3 158.4,285.7 157.4,286.1 156.4,285.5 155.4,283.3 154.4,280.4 153.4,279.3 152.4,280.5 151.4,282.6 150.4,284.6 149.4,286.1 148.4,286.8 147.4,286.2 146.4,284.9 145.4,283.4 144.4,282.0 143.4,280.9 142.4,280.6 141.4,280.9 140.4,281.4 139.4,282.0 138.4,282.7 137.4,283.4 136.4,284.4 135.4,285.2 134.4,285.4 133.4,285.0 132.4,284.1 131.4,283.3 130.4,282.9 129.4,282.8 128.4,282.4 127.4,281.6 126.4,280.8 125.4,280.0 124.4,279.5 123.4,279.1 122.4,278.8 121.4,278.5 120.4,278.6 119.4,279.2 118.4,280.4 117.4,282.0 116.4,283.6 115.4,285.3 114.4,286.6 113.4,287.1 112.4,286.7 111.4,285.6 110.4,283.9 109.4,282.0 108.4,280.1 107.4,278.7 106.4,278.2 105.4,278.4 104.4,278.7 103.4,278.5 102.4,277.8 101.4,276.9 100.4,275.7 99.4,274.2 98.4,273.1 97.4,273.2 96.4,274.9 95.4,277.4 94.4,280.1 93.4,282.5 92.4,284.3 91.4,285.2 90.4,285.3 89.4,284.6 88.4,283.3 87.4,282.1 86.4,281.6 85.4,281.9 84.4,282.5 83.4,283.0 82.4,282.8 81.4,282.0 80.4,280.6 79.4,278.8 78.4,276.5 77.4,275.5 76.4,277.6 75.4,281.2 74.4,284.3 73.4,286.3 72.4,286.7 71.4,285.2 70.4,283.0 69.4,280.7 68.4,278.8 67.4,277.9 66.4,278.5 65.4,279.9 64.4,281.7 63.4,283.5 62.4,285.3 61.4,286.6 60.4,287.0 59.4,286.2 58.4,285.3 57.4,284.8 56.4,284.6Z" fill="#d9d9d9" stroke="none"/>
<path d="M56.4,304.8 57.4,304.9 58.4,305.1 59.4,305.3 60.4,305.7 61.4,306.0 62.4,305.7 63.4,304.5 64.4,302.7 65.4,300.9 66.4,299.2 67.4,298.8 68.4,300.0 69.4,302.1 70.4,303.7 71.4,303.7 72.4,302.1 73.4,299.3 74.4,296.2 75.4,294.8 76.4,296.1 77.4,298.8 78.4,301.1 79.4,301.8 80.4,301.2 81.4,300.2 82.4,299.9 83.4,300.6 84.4,301.8 85.4,303.1 86.4,304.2 87.4,305.1 88.4,305.2 89.4,303.6 90.4,300.5 91.4,297.5 92.4,295.9 93.4,295.7 94.4,296.5 95.4,297.3 96.4,297.9 97.4,298.3 98.4,298.7 99.4,298.6 100.4,297.9 101.4,297.0 102.4,296.2 103.4,296.1 104.4,297.0 105.4,298.6 106.4,300.4 107.4,302.0 108.4,303.5 109.4,304.5 110.4,304.6 111.4,303.5 112.4,301.7 113.4,300.2 114.4,299.2 115.4,298.5 116.4,298.1 117.4,298.0 118.4,298.5 119.4,299.7 120.4,301.3 121.4,302.7 122.4,303.7 123.4,304.3 124.4,304.4 125.4,304.1 126.4,303.1 127.4,301.9 128.4,300.5 129.4,299.3 130.4,298.7 131.4,299.0 132.4,299.9 133.4,300.8 134.4,301.2 135.4,301.0 136.4,300.4 137.4,300.5 138.4,301.4 139.4,302.4 140.4,303.4 141.4,304.1 142.4,304.3 143.4,303.6 144.4,302.5 145.4,301.3 146.4,300.3 147.4,299.8 148.4,300.2 149.4,300.9 150.4,301.9 151.4,303.0 152.4,304.2 153.4,304.9 154.4,304.6 155.4,303.2 156.4,301.2 157.4,298.9 158.4,296.8 159.4,296.4 160.4,298.2 161.4,300.8 162.4,303.1 163.4,304.7 164.4,304.9 165.4,303.8 166.4,302.2 167.4,300.8 168.4,299.7 169.4,299.5 170.4,300.3 171.4,301.8 172.4,303.5 173.4,305.3 174.4,307.0 175.4,308.3 176.4,308.6 177.4,308.0 178.4,306.8 179.4,305.7 180.4,304.6 181.4,304.0 182.4,304.1 183.4,304.8 184.4,305.3 185.4,304.8 186.4,303.2 187.4,301.1 188.4,299.1 189.4,297.5 190.4,297.1 191.4,297.7 192.4,298.2 193.4,298.1 194.4,297.4 195.4,296.7 196.4,296.5 197.4,297.1 198.4,298.4 199.4,299.8 200.4,301.1 201.4,302.0 202.4,302.8 203.4,303.5 204.4,304.1 205.4,304.8 206.4,305.4 207.4,305.6 208.4,305.1 209.4,304.1 210.4,302.9 211.4,301.7 212.4,301.1 213.4,301.4 214.4,302.3 215.4,303.4 216.4,304.4 217.4,305.0 218.4,304.9 219.4,304.0 220.4,302.7 221.4,301.7 222.4,301.1 223.4,300.8 224.4,300.4 225.4,299.3 226.4,298.0 227.4,296.8 228.4,296.1 229.4,296.1 230.4,297.3 231.4,299.4 232.4,301.6 233.4,303.3 234.4,304.7 235.4,305.7 236.4,306.1 237.4,306.0 238.4,305.5 239.4,305.2 240.4,305.0 241.4,304.9 242.4,304.6 243.4,304.2 244.4,303.7 245.4,303.1 246.4,302.5 247.4,301.7 248.4,301.1 249.4,300.6 250.4,300.3 251.4,300.2 252.4,300.3 253.4,300.8 254.4,301.4 255.4,301.9 256.4,302.5 257.4,302.9 258.4,303.0 259.4,302.8 260.4,302.4 261.4,301.8 262.4,301.2 263.4,300.4 264.4,299.6 265.4,298.7 266.4,298.2 267.4,298.3 268.4,299.2 269.4,300.2 270.4,300.9 271.4,300.8 272.4,300.3 273.4,299.7 274.4,299.4 275.4,299.7 276.4,300.5 277.4,301.6 278.4,302.7 279.4,303.7 280.4,304.5 281.4,305.1 282.4,305.5 283.4,305.3 284.4,304.5 285.4,303.5 286.4,302.2 287.4,301.8 288.4,303.2 289.4,303.4 290.4,302.5 291.4,301.5 292.4,300.8 293.4,300.3 294.4,299.9 295.4,299.8 296.4,299.9 297.4,300.3 298.4,301.0 299.4,301.5 300.4,301.3 301.4,300.4 302.4,299.3 303.4,298.2 304.4,297.3 305.4,296.5 306.4,296.1 307.4,296.3 308.4,296.7 309.4,296.9 310.4,296.6 311.4,296.1 312.4,295.2 313.4,294.3 314.4,293.5 315.4,293.2 316.4,293.6 317.4,294.4 318.4,295.2 319.4,295.8 320.4,296.4 321.4,297.1 322.4,298.0 323.4,298.9 324.4,299.7 325.4,300.3 326.4,300.6 327.4,300.8 328.4,300.9 329.4,301.0 330.4,301.0 331.4,301.2 332.4,301.5 333.4,301.9 334.4,302.5 335.4,303.0 336.4,303.1 337.4,303.1 338.4,302.8 339.4,302.5 340.4,301.9 341.4,301.1 342.4,300.4 343.4,300.2 344.4,300.7 345.4,301.7 346.4,302.4 347.4,302.5 348.4,302.1 349.4,301.2 350.4,300.0 351.4,298.9 352.4,298.2 353.4,297.7 354.4,297.6 355.4,297.7 356.4,298.2 357.4,299.2 358.4,300.3 359.4,301.4 360.4,302.3 361.4,303.2 362.4,304.0 363.4,304.5 364.4,304.2 365.4,303.0 366.4,301.2 367.4,299.7 368.4,298.3 369.4,297.1 370.4,296.4 371.4,296.4 372.4,297.0 373.4,298.1 374.4,299.7 375.4,300.9 376.4,301.1 377.4,300.4 378.4,299.2 379.4,298.2 380.4,297.7 381.4,297.8 382.4,298.5 383.4,298.9 384.4,298.8 385.4,298.5 386.4,298.6 387.4,299.2 388.4,300.0 389.4,300.8 390.4,301.7 391.4,302.6 392.4,303.3 393.4,303.6 394.4,303.4 395.4,302.9 396.4,302.3 397.4,301.9 398.4,301.5 399.4,301.0 400.4,300.3 401.4,299.6 402.4,299.0 403.4,299.0 404.4,299.4 405.4,300.0 406.4,300.6 407.4,301.2 408.4,301.6 409.4,302.0 410.4,302.3 411.4,302.6 412.4,302.7 413.4,302.5 414.4,302.1 415.4,301.6 416.4,301.2 417.4,301.4 418.4,302.1 419.4,303.2 420.4,304.1 421.4,305.0 422.4,306.1 423.4,307.3 424.4,308.6 425.4,309.4 426.4,309.5 427.4,308.8 428.4,307.7 429.4,306.3 430.4,304.9 431.4,304.1 432.4,304.0 433.4,304.0 434.4,303.3 435.4,301.8 436.4,299.7 437.4,297.4 438.4,294.8 439.4,292.8 440.4,292.4 441.4,292.9 L441.4,303.6 440.4,303.5 439.4,303.5 438.4,304.7 437.4,306.6 436.4,308.8 435.4,310.8 434.4,312.3 433.4,313.0 432.4,313.0 431.4,313.1 430.4,313.9 429.4,315.3 428.4,316.7 427.4,317.8 426.4,318.6 425.4,318.9 424.4,318.3 423.4,317.4 422.4,316.4 421.4,315.3 420.4,314.2 419.4,312.9 418.4,311.5 417.4,310.5 416.4,310.2 415.4,310.6 414.4,311.1 413.4,311.5 412.4,311.7 411.4,311.6 410.4,311.3 409.4,311.0 408.4,310.6 407.4,310.2 406.4,309.6 405.4,309.0 404.4,308.4 403.4,308.0 402.4,308.1 401.4,308.7 400.4,309.5 399.4,310.2 398.4,310.7 397.4,311.2 396.4,311.7 395.4,312.3 394.4,312.9 393.4,313.2 392.4,313.0 391.4,312.4 390.4,311.6 389.4,310.7 388.4,309.9 387.4,309.1 386.4,308.6 385.4,308.5 384.4,308.8 383.4,308.9 382.4,308.4 381.4,307.8 380.4,307.5 379.4,308.0 378.4,309.0 377.4,310.0 376.4,310.7 375.4,310.4 374.4,309.1 373.4,307.5 372.4,306.3 371.4,305.6 370.4,305.6 369.4,306.3 368.4,307.4 367.4,308.7 366.4,310.3 365.4,312.0 364.4,313.2 363.4,313.5 362.4,313.0 361.4,312.2 360.4,311.3 359.4,310.4 358.4,309.3 357.4,308.2 356.4,307.2 355.4,306.7 354.4,306.6 353.4,306.7 352.4,307.2 351.4,307.9 350.4,309.1 349.4,310.5 348.4,312.1 347.4,313.7 346.4,314.9 345.4,315.5 344.4,315.9 343.4,316.3 342.4,317.0 341.4,317.7 340.4,317.8 339.4,317.4 338.4,316.4 337.4,315.2 336.4,314.0 335.4,312.9 334.4,311.8 333.4,311.0 332.4,310.5 331.4,310.2 330.4,310.0 329.4,310.0 328.4,309.9 327.4,309.8 326.4,309.7 325.4,309.5 324.4,309.3 323.4,309.0 322.4,308.7 321.4,308.5 320.4,308.4 319.4,308.4 318.4,308.0 317.4,307.2 316.4,306.1 315.4,305.1 314.4,304.7 313.4,304.9 312.4,305.2 311.4,305.5 310.4,305.8 309.4,305.9 308.4,305.7 307.4,305.3 306.4,305.1 305.4,305.5 304.4,306.3 303.4,307.2 302.4,308.3 301.4,309.4 300.4,310.3 299.4,310.5 298.4,310.0 297.4,309.3 296.4,308.9 295.4,308.8 294.4,308.9 293.4,309.3 292.4,309.8 291.4,310.5 290.4,311.5 289.4,312.4 288.4,312.2 287.4,310.8 286.4,311.2 285.4,312.5 284.4,313.5 283.4,314.3 282.4,314.5 281.4,314.1 280.4,313.5 279.4,312.7 278.4,311.7 277.4,310.6 276.4,309.5 275.4,308.7 274.4,308.4 273.4,308.7 272.4,309.3 271.4,309.8 270.4,309.9 269.4,309.2 268.4,308.2 267.4,307.3 266.4,307.2 265.4,307.7 264.4,308.6 263.4,309.4 262.4,310.2 261.4,310.8 260.4,311.4 259.4,311.8 258.4,312.0 257.4,311.9 256.4,311.5 255.4,310.9 254.4,310.4 253.4,309.8 252.4,309.3 251.4,309.2 250.4,309.3 249.4,309.6 248.4,310.1 247.4,310.7 246.4,311.5 245.4,312.1 244.4,312.7 243.4,313.2 242.4,313.6 241.4,313.9 240.4,314.0 239.4,314.2 238.4,314.5 237.4,315.0 236.4,315.1 235.4,314.7 234.4,313.8 233.4,312.7 232.4,311.7 231.4,310.7 230.4,309.9 229.4,310.1 228.4,311.1 227.4,312.4 226.4,313.5 225.4,314.2 224.4,314.1 223.4,313.2 222.4,312.1 221.4,311.6 220.4,312.0 219.4,313.0 218.4,313.9 217.4,314.0 216.4,313.4 215.4,312.4 214.4,311.3 213.4,310.4 212.4,310.1 211.4,310.7 210.4,311.9 209.4,313.1 208.4,314.1 207.4,314.6 206.4,314.4 205.4,313.8 204.4,313.1 203.4,312.5 202.4,311.8 201.4,311.2 200.4,310.7 199.4,310.5 198.4,310.5 197.4,310.7 196.4,310.9 195.4,310.9 194.4,310.7 193.4,310.0 192.4,308.7 191.4,307.1 190.4,306.2 189.4,306.5 188.4,308.1 187.4,310.1 186.4,312.2 185.4,313.8 184.4,314.3 183.4,313.8 182.4,313.1 181.4,313.0 180.4,313.6 179.4,314.7 178.4,315.8 177.4,317.0 176.4,317.6 175.4,317.3 174.4,316.0 173.4,314.3 172.4,312.5 171.4,310.8 170.4,309.4 169.4,308.6 168.4,308.9 167.4,310.0 166.4,311.4 165.4,313.0 164.4,314.2 163.4,314.0 162.4,312.5 161.4,310.2 160.4,307.7 159.4,306.0 158.4,306.4 157.4,308.5 156.4,310.9 155.4,312.9 154.4,314.3 153.4,314.7 152.4,314.0 151.4,312.9 150.4,311.8 149.4,310.9 148.4,310.1 147.4,309.8 146.4,310.3 145.4,311.3 144.4,312.5 143.4,313.6 142.4,314.2 141.4,314.1 140.4,313.3 139.4,312.3 138.4,311.2 137.4,310.4 136.4,310.2 135.4,310.7 134.4,310.9 133.4,310.4 132.4,309.6 131.4,308.6 130.4,308.2 129.4,308.8 128.4,309.9 127.4,311.2 126.4,312.5 125.4,313.3 124.4,313.6 123.4,313.5 122.4,312.9 121.4,311.9 120.4,310.4 119.4,308.8 118.4,307.5 117.4,307.0 116.4,307.1 115.4,307.5 114.4,308.2 113.4,309.2 112.4,310.8 111.4,312.8 110.4,314.4 109.4,315.2 108.4,315.0 107.4,314.3 106.4,313.1 105.4,311.3 104.4,309.1 103.4,307.4 102.4,306.7 101.4,306.7 100.4,307.2 99.4,307.7 98.4,307.7 97.4,307.5 96.4,307.6 95.4,308.2 94.4,308.8 93.4,309.0 92.4,309.0 91.4,309.6 90.4,311.2 89.4,313.2 88.4,314.3 87.4,314.1 86.4,313.2 85.4,312.1 84.4,310.8 83.4,309.6 82.4,308.9 81.4,309.2 80.4,310.2 79.4,310.8 78.4,310.4 77.4,309.0 76.4,307.7 75.4,307.6 74.4,308.9 73.4,310.6 72.4,312.0 71.4,312.9 70.4,312.7 69.4,311.1 68.4,309.0 67.4,307.8 66.4,308.2 65.4,309.9 64.4,311.7 63.4,313.5 62.4,314.7 61.4,315.0 60.4,314.7 59.4,314.3 58.4,314.1 57.4,313.9 56.4,313.8Z" fill="#d9d9d9" stroke="none"/>
<path d="M56.4,362.8 57.4,364.4 58.4,366.3 59.4,367.7 60.4,368.4 61.4,368.3 62.4,367.7 63.4,367.2 64.4,366.7 65.4,366.4 66.4,366.1 67.4,365.8 68.4,365.5 69.4,365.4 70.4,365.8 71.4,366.7 72.4,367.6 73.4,367.7 74.4,366.9 75.4,365.5 76.4,364.1 77.4,362.9 78.4,361.8 79.4,361.2 80.4,361.4 81.4,362.3 82.4,363.4 83.4,364.5 84.4,365.6 85.4,366.2 86.4,365.8 87.4,364.3 88.4,362.4 89.4,360.9 90.4,360.0 91.4,359.3 92.4,358.1 93.4,356.7 94.4,356.9 95.4,359.0 96.4,361.3 97.4,362.9 98.4,363.7 99.4,363.6 100.4,362.6 101.4,361.6 102.4,361.3 103.4,361.9 104.4,362.5 105.4,362.1 106.4,361.3 107.4,360.9 108.4,360.7 109.4,359.8 110.4,357.9 111.4,356.9 112.4,356.8 113.4,357.1 114.4,357.8 115.4,358.9 116.4,360.1 117.4,361.0 118.4,361.9 119.4,362.6 120.4,363.3 121.4,363.9 122.4,364.2 123.4,364.3 124.4,364.0 125.4,363.5 126.4,362.9 127.4,362.3 128.4,361.9 129.4,361.5 130.4,361.3 131.4,361.5 132.4,362.1 133.4,362.3 134.4,362.2 135.4,361.9 136.4,361.6 137.4,361.7 138.4,362.2 139.4,362.7 140.4,362.7 141.4,362.3 142.4,361.8 143.4,361.2 144.4,360.5 145.4,359.4 146.4,358.2 147.4,357.4 148.4,357.6 149.4,358.8 150.4,360.6 151.4,362.7 152.4,364.2 153.4,364.7 154.4,364.5 155.4,364.0 156.4,362.9 157.4,361.3 158.4,359.5 159.4,357.9 160.4,357.7 161.4,359.1 162.4,360.4 163.4,361.0 164.4,361.3 165.4,361.3 166.4,360.9 167.4,360.4 168.4,359.6 169.4,358.8 170.4,358.4 171.4,359.0 172.4,360.0 173.4,361.0 174.4,361.9 175.4,362.6 176.4,362.9 177.4,362.8 178.4,362.3 179.4,361.8 180.4,361.3 181.4,360.9 182.4,360.5 183.4,359.9 184.4,358.9 185.4,358.0 186.4,358.5 187.4,360.5 188.4,362.5 189.4,363.7 190.4,364.2 191.4,363.8 192.4,362.6 193.4,361.4 194.4,361.3 195.4,362.4 196.4,363.9 197.4,365.3 198.4,366.3 199.4,367.0 200.4,367.0 201.4,366.1 202.4,364.7 203.4,363.3 204.4,362.3 205.4,362.0 206.4,362.2 207.4,362.8 208.4,363.6 209.4,364.1 210.4,363.7 211.4,363.1 212.4,362.5 213.4,362.2 214.4,362.0 215.4,361.8 216.4,361.6 217.4,361.2 218.4,360.8 219.4,360.5 220.4,360.8 221.4,362.3 222.4,363.5 223.4,363.4 224.4,363.0 225.4,363.0 226.4,363.5 227.4,364.2 228.4,364.8 229.4,365.1 230.4,364.5 231.4,363.2 232.4,361.8 233.4,360.9 234.4,360.8 235.4,361.1 236.4,361.4 237.4,361.6 238.4,361.5 239.4,361.3 240.4,361.1 241.4,360.9 242.4,360.8 243.4,360.7 244.4,360.5 245.4,360.1 246.4,359.4 247.4,358.6 248.4,357.9 249.4,357.8 250.4,358.7 251.4,360.4 252.4,362.6 253.4,364.3 254.4,364.6 255.4,363.9 256.4,363.1 257.4,362.5 258.4,362.2 259.4,362.1 260.4,362.1 261.4,362.0 262.4,361.8 263.4,361.6 264.4,361.7 265.4,362.3 266.4,363.1 267.4,363.1 268.4,362.5 269.4,361.8 270.4,361.4 271.4,361.3 272.4,361.3 273.4,361.2 274.4,360.9 275.4,360.2 276.4,359.6 277.4,359.4 278.4,359.7 279.4,360.3 280.4,361.0 281.4,361.6 282.4,362.3 283.4,362.9 284.4,363.2 285.4,362.9 286.4,361.8 287.4,360.2 288.4,358.9 289.4,358.4 290.4,359.1 291.4,360.7 292.4,362.5 293.4,364.1 294.4,365.6 295.4,366.6 296.4,366.3 297.4,364.8 298.4,362.9 299.4,361.0 300.4,359.9 301.4,359.7 302.4,360.1 303.4,360.5 304.4,360.7 305.4,360.4 306.4,359.8 307.4,359.6 308.4,360.1 309.4,361.1 310.4,361.7 311.4,361.6 312.4,360.8 313.4,359.8 314.4,358.9 315.4,358.4 316.4,358.2 317.4,358.1 318.4,358.0 319.4,357.8 320.4,357.6 321.4,357.3 322.4,357.1 323.4,357.2 324.4,357.8 325.4,358.8 326.4,360.2 327.4,361.9 328.4,363.9 329.4,365.4 330.4,365.5 331.4,364.2 332.4,362.1 333.4,359.7 334.4,357.3 335.4,355.8 336.4,356.3 337.4,358.3 338.4,360.1 339.4,361.4 340.4,362.1 341.4,362.3 342.4,362.1 343.4,361.6 344.4,360.7 345.4,359.4 346.4,358.3 347.4,358.1 348.4,358.7 349.4,359.6 350.4,360.6 351.4,361.7 352.4,362.6 353.4,362.9 354.4,362.7 355.4,362.2 356.4,361.5 357.4,360.6 358.4,359.6 359.4,358.5 360.4,358.0 361.4,358.2 362.4,358.9 363.4,359.6 364.4,359.9 365.4,360.2 366.4,360.7 367.4,361.2 368.4,361.7 369.4,362.3 370.4,363.0 371.4,363.7 372.4,364.6 373.4,365.3 374.4,365.7 375.4,365.5 376.4,364.9 377.4,364.0 378.4,363.1 379.4,362.6 380.4,362.3 381.4,362.2 382.4,362.0 383.4,361.8 384.4,361.3 385.4,360.7 386.4,360.1 387.4,359.8 388.4,360.1 389.4,361.1 390.4,362.4 391.4,363.6 392.4,364.5 393.4,365.1 394.4,365.3 395.4,364.8 396.4,363.7 397.4,362.3 398.4,360.9 399.4,359.9 400.4,359.5 401.4,360.2 402.4,361.2 403.4,361.5 404.4,361.2 405.4,360.8 406.4,360.6 407.4,360.9 408.4,361.5 409.4,362.0 410.4,362.4 411.4,362.7 412.4,362.9 413.4,363.1 414.4,363.0 415.4,362.6 416.4,362.0 417.4,361.4 418.4,360.6 419.4,360.1 420.4,361.1 421.4,363.7 422.4,365.5 423.4,365.5 424.4,364.4 425.4,363.5 426.4,363.3 427.4,363.6 428.4,364.2 429.4,364.6 430.4,364.6 431.4,363.8 432.4,362.1 433.4,359.6 434.4,356.7 435.4,355.4 436.4,357.3 437.4,360.4 438.4,362.2 439.4,362.5 440.4,361.2 441.4,359.7 L441.4,370.7 440.4,372.2 439.4,373.5 438.4,373.4 437.4,372.4 436.4,371.8 435.4,372.5 434.4,373.4 433.4,373.5 432.4,373.9 431.4,374.9 430.4,375.6 429.4,375.6 428.4,375.2 427.4,374.6 426.4,374.3 425.4,374.5 424.4,375.4 423.4,376.6 422.4,377.3 421.4,377.4 420.4,377.0 419.4,375.6 418.4,373.9 417.4,373.0 416.4,373.1 415.4,373.6 414.4,374.0 413.4,374.1 412.4,373.9 411.4,373.7 410.4,373.4 409.4,373.0 408.4,372.5 407.4,371.9 406.4,371.6 405.4,371.8 404.4,372.2 403.4,372.5 402.4,372.2 401.4,371.2 400.4,370.5 399.4,370.9 398.4,372.0 397.4,373.4 396.4,374.9 395.4,376.0 394.4,376.6 393.4,376.6 392.4,376.2 391.4,375.4 390.4,374.4 389.4,373.2 388.4,372.3 387.4,372.2 386.4,372.6 385.4,373.3 384.4,374.1 383.4,374.6 382.4,374.9 381.4,375.1 380.4,375.3 379.4,375.5 378.4,376.1 377.4,376.9 376.4,377.7 375.4,378.3 374.4,378.3 373.4,377.8 372.4,376.9 371.4,375.9 370.4,375.0 369.4,374.2 368.4,373.5 367.4,372.8 366.4,372.1 365.4,371.6 364.4,371.2 363.4,370.7 362.4,370.0 361.4,369.2 360.4,369.0 359.4,369.6 358.4,370.6 357.4,371.7 356.4,372.6 355.4,373.4 354.4,374.0 353.4,374.3 352.4,374.1 351.4,373.3 350.4,372.4 349.4,371.5 348.4,370.7 347.4,370.3 346.4,370.6 345.4,371.8 344.4,373.3 343.4,374.4 342.4,375.0 341.4,375.3 340.4,375.3 339.4,374.7 338.4,373.6 337.4,371.8 336.4,370.0 335.4,369.5 334.4,371.1 333.4,373.6 332.4,376.0 331.4,378.1 330.4,379.5 329.4,379.4 328.4,377.9 327.4,375.9 326.4,374.1 325.4,372.6 324.4,371.5 323.4,370.9 322.4,370.7 321.4,370.7 320.4,370.8 319.4,371.0 318.4,371.0 317.4,370.9 316.4,370.9 315.4,371.0 314.4,371.4 313.4,372.1 312.4,373.0 311.4,373.6 310.4,373.6 309.4,372.8 308.4,371.6 307.4,371.0 306.4,371.2 305.4,371.6 304.4,371.8 303.4,371.6 302.4,371.1 301.4,370.8 300.4,370.9 299.4,372.0 298.4,373.9 297.4,375.8 296.4,377.3 295.4,377.6 294.4,376.6 293.4,375.1 292.4,373.5 291.4,371.7 290.4,370.1 289.4,369.4 288.4,369.9 287.4,371.3 286.4,372.9 285.4,374.0 284.4,374.4 283.4,374.2 282.4,373.7 281.4,373.1 280.4,372.6 279.4,372.0 278.4,371.6 277.4,371.4 276.4,371.7 275.4,372.4 274.4,373.2 273.4,373.7 272.4,373.9 271.4,374.1 270.4,374.4 269.4,374.9 268.4,375.8 267.4,376.5 266.4,376.6 265.4,376.0 264.4,375.5 263.4,375.5 262.4,375.9 261.4,376.2 260.4,376.4 259.4,376.6 258.4,376.8 257.4,377.1 256.4,377.8 255.4,378.7 254.4,379.5 253.4,379.3 252.4,377.6 251.4,375.4 250.4,373.7 249.4,372.8 248.4,372.9 247.4,373.5 246.4,374.3 245.4,374.9 244.4,375.2 243.4,375.4 242.4,375.4 241.4,375.4 240.4,375.5 239.4,375.6 238.4,375.7 237.4,375.6 236.4,375.4 235.4,374.9 234.4,374.5 233.4,374.4 232.4,375.1 231.4,376.4 230.4,377.6 229.4,378.0 228.4,377.6 227.4,376.8 226.4,376.0 225.4,375.3 224.4,375.2 223.4,375.4 222.4,375.4 221.4,374.1 220.4,372.5 219.4,372.1 218.4,372.3 217.4,372.6 216.4,372.8 215.4,373.0 214.4,373.1 213.4,373.3 212.4,373.6 211.4,374.1 210.4,374.7 209.4,375.1 208.4,374.7 207.4,373.8 206.4,373.3 205.4,373.2 204.4,373.6 203.4,374.7 202.4,376.3 201.4,377.9 200.4,378.9 199.4,379.1 198.4,378.6 197.4,377.7 196.4,376.5 195.4,375.2 194.4,374.4 193.4,374.7 192.4,376.0 191.4,377.5 190.4,378.1 189.4,377.8 188.4,376.8 187.4,375.1 186.4,373.3 185.4,373.0 184.4,374.2 183.4,375.3 182.4,376.1 181.4,376.7 180.4,377.3 179.4,378.0 178.4,378.6 177.4,379.3 176.4,379.5 175.4,379.3 174.4,378.7 173.4,377.9 172.4,377.0 171.4,376.0 170.4,375.4 169.4,375.7 168.4,376.6 167.4,377.3 166.4,377.8 165.4,378.0 164.4,378.0 163.4,377.6 162.4,376.8 161.4,375.4 160.4,373.8 159.4,373.9 158.4,375.3 157.4,376.9 156.4,378.3 155.4,379.1 154.4,379.5 153.4,379.5 152.4,378.7 151.4,377.0 150.4,374.7 149.4,372.7 148.4,371.3 147.4,370.8 146.4,371.4 145.4,372.4 144.4,373.2 143.4,373.8 142.4,374.2 141.4,374.5 140.4,374.7 139.4,374.6 138.4,373.9 137.4,373.2 136.4,373.1 135.4,373.2 134.4,373.4 133.4,373.5 132.4,373.1 131.4,372.6 130.4,372.4 129.4,372.7 128.4,373.1 127.4,373.6 126.4,374.2 125.4,374.9 124.4,375.4 123.4,375.7 122.4,375.7 121.4,375.4 120.4,374.8 119.4,374.1 118.4,373.3 117.4,372.5 116.4,371.5 115.4,370.3 114.4,369.2 113.4,368.4 112.4,368.0 111.4,368.1 110.4,369.1 109.4,370.9 108.4,371.8 107.4,371.9 106.4,372.3 105.4,373.1 104.4,373.5 103.4,372.9 102.4,372.3 101.4,372.6 100.4,373.6 99.4,374.6 98.4,374.7 97.4,373.9 96.4,372.8 95.4,371.8 94.4,371.2 93.4,370.8 92.4,370.7 91.4,370.7 90.4,371.1 89.4,371.9 88.4,373.4 87.4,375.3 86.4,376.8 85.4,377.2 84.4,376.6 83.4,375.5 82.4,374.4 81.4,373.3 80.4,372.4 79.4,372.2 78.4,372.8 77.4,373.9 76.4,375.1 75.4,376.5 74.4,377.9 73.4,378.7 72.4,378.6 71.4,377.7 70.4,376.8 69.4,376.4 68.4,376.5 67.4,376.8 66.4,377.1 65.4,377.4 64.4,377.7 63.4,378.2 62.4,378.7 61.4,379.3 60.4,379.4 59.4,378.7 58.4,377.3 57.4,375.4 56.4,373.8Z" fill="#d9d9d9" stroke="none"/>
<path d="M56.4,435.5 57.4,433.8 58.4,431.4 59.4,429.3 60.4,427.7 61.4,426.3 62.4,425.3 63.4,424.2 64.4,422.6 65.4,420.7 66.4,420.0 67.4,421.2 68.4,423.7 69.4,426.8 70.4,430.0 71.4,432.4 72.4,433.2 73.4,432.4 74.4,430.6 75.4,428.0 76.4,424.9 77.4,422.6 78.4,421.4 79.4,421.0 80.4,421.4 81.4,422.5 82.4,424.1 83.4,426.3 84.4,428.5 85.4,430.4 86.4,431.5 87.4,431.6 88.4,430.6 89.4,429.3 90.4,428.1 91.4,426.9 92.4,426.1 93.4,425.8 94.4,426.3 95.4,427.3 96.4,428.8 97.4,430.6 98.4,432.4 99.4,434.2 100.4,435.3 101.4,434.8 102.4,432.7 103.4,430.3 104.4,428.6 105.4,428.0 106.4,428.9 107.4,431.0 108.4,433.0 109.4,434.5 110.4,435.8 111.4,436.8 112.4,437.3 113.4,437.1 114.4,436.3 115.4,435.1 116.4,433.9 117.4,432.9 118.4,432.2 119.4,431.5 120.4,430.9 121.4,430.4 122.4,430.2 123.4,430.3 124.4,430.6 125.4,431.1 126.4,431.6 127.4,432.2 128.4,432.5 129.4,432.2 130.4,431.5 131.4,430.6 132.4,429.6 133.4,428.6 134.4,427.5 135.4,426.4 136.4,425.3 137.4,424.1 138.4,423.0 139.4,422.4 140.4,422.8 141.4,424.1 142.4,426.1 143.4,428.4 144.4,430.6 145.4,432.2 146.4,433.0 147.4,433.1 148.4,432.4 149.4,431.2 150.4,429.8 151.4,428.3 152.4,427.4 153.4,427.5 154.4,428.8 155.4,430.6 156.4,432.6 157.4,434.3 158.4,435.4 159.4,436.1 160.4,436.4 161.4,436.1 162.4,435.5 163.4,434.8 164.4,434.4 165.4,434.6 166.4,435.4 167.4,436.3 168.4,437.1 169.4,437.6 170.4,438.1 171.4,438.3 172.4,438.0 173.4,437.3 174.4,436.4 175.4,435.7 176.4,435.1 177.4,434.4 178.4,433.4 179.4,432.4 180.4,431.4 181.4,430.4 182.4,429.7 183.4,429.7 184.4,430.3 185.4,431.2 186.4,432.3 187.4,433.5 188.4,434.7 189.4,435.7 190.4,436.4 191.4,436.9 192.4,437.0 193.4,436.9 194.4,436.6 195.4,436.2 196.4,435.8 197.4,435.5 198.4,435.1 199.4,434.6 200.4,434.0 201.4,433.6 202.4,434.1 203.4,435.1 204.4,436.0 205.4,436.8 206.4,437.4 207.4,437.8 208.4,437.8 209.4,437.4 210.4,436.5 211.4,435.0 212.4,432.8 213.4,430.5 214.4,428.6 215.4,427.3 216.4,426.8 217.4,427.2 218.4,428.0 219.4,429.3 220.4,430.5 221.4,430.9 222.4,430.3 223.4,428.9 224.4,427.3 225.4,425.5 226.4,424.4 227.4,425.1 228.4,427.6 229.4,430.2 230.4,432.5 231.4,434.1 232.4,435.0 233.4,435.1 234.4,434.6 235.4,433.8 236.4,432.8 237.4,432.0 238.4,431.3 239.4,430.8 240.4,430.5 241.4,430.4 242.4,430.5 243.4,430.9 244.4,431.4 245.4,431.9 246.4,432.4 247.4,432.9 248.4,433.2 249.4,433.1 250.4,432.2 251.4,430.8 252.4,429.8 253.4,429.5 254.4,429.8 255.4,430.4 256.4,431.4 257.4,432.5 258.4,433.3 259.4,433.6 260.4,433.3 261.4,432.3 262.4,430.9 263.4,429.6 264.4,429.0 265.4,429.1 266.4,429.7 267.4,430.5 268.4,431.4 269.4,432.1 270.4,432.4 271.4,432.3 272.4,431.6 273.4,430.5 274.4,428.7 275.4,427.1 276.4,426.8 277.4,427.5 278.4,428.3 279.4,429.4 280.4,431.3 281.4,433.6 282.4,435.5 283.4,436.2 284.4,435.5 285.4,433.9 286.4,431.5 287.4,428.9 288.4,426.4 289.4,424.3 290.4,422.9 291.4,422.7 292.4,424.0 293.4,426.2 294.4,428.1 295.4,429.7 296.4,431.1 297.4,432.4 298.4,433.3 299.4,433.4 300.4,432.6 301.4,431.6 302.4,430.7 303.4,429.9 304.4,429.3 305.4,429.0 306.4,429.0 307.4,429.7 308.4,430.8 309.4,432.0 310.4,433.1 311.4,434.0 312.4,434.4 313.4,433.9 314.4,432.8 315.4,431.6 316.4,431.0 317.4,431.3 318.4,432.4 319.4,434.2 320.4,436.4 321.4,438.8 322.4,440.9 323.4,442.4 324.4,442.5 325.4,441.1 326.4,439.0 327.4,437.0 328.4,435.2 329.4,433.6 330.4,432.2 331.4,430.9 332.4,429.8 333.4,429.1 334.4,428.6 335.4,428.4 336.4,428.4 337.4,428.5 338.4,429.0 339.4,429.7 340.4,430.5 341.4,431.2 342.4,431.8 343.4,432.3 344.4,432.7 345.4,432.8 346.4,432.9 347.4,433.2 348.4,433.8 349.4,434.7 350.4,435.8 351.4,437.0 352.4,438.2 353.4,439.4 354.4,440.2 355.4,440.7 356.4,440.9 357.4,440.9 358.4,440.7 359.4,440.4 360.4,440.2 361.4,440.1 362.4,440.2 363.4,440.3 364.4,440.4 365.4,440.5 366.4,440.2 367.4,439.2 368.4,437.6 369.4,435.7 370.4,433.8 371.4,431.8 372.4,430.5 373.4,430.4 374.4,431.8 375.4,433.8 376.4,435.9 377.4,438.2 378.4,440.2 379.4,441.6 380.4,442.5 381.4,443.0 382.4,443.4 383.4,443.6 384.4,443.6 385.4,443.4 386.4,443.1 387.4,442.7 388.4,442.1 389.4,441.4 390.4,440.3 391.4,438.7 392.4,436.5 393.4,433.9 394.4,430.5 395.4,426.9 396.4,424.4 397.4,424.3 398.4,426.5 399.4,429.9 400.4,433.0 401.4,435.5 402.4,437.3 403.4,438.3 404.4,438.7 405.4,438.5 406.4,437.9 407.4,436.6 408.4,434.9 409.4,433.0 410.4,431.3 411.4,430.3 412.4,430.1 413.4,430.1 414.4,430.1 415.4,430.1 416.4,430.3 417.4,430.8 418.4,431.5 419.4,432.5 420.4,433.6 421.4,434.9 422.4,436.2 423.4,437.1 424.4,437.7 425.4,437.9 426.4,437.6 427.4,436.8 428.4,435.6 429.4,434.3 430.4,432.8 431.4,431.3 432.4,430.1 433.4,429.2 434.4,429.0 435.4,429.6 436.4,430.7 437.4,431.9 438.4,433.3 439.4,434.7 440.4,436.0 441.4,436.7 L441.4,443.5 440.4,442.8 439.4,441.5 438.4,440.1 437.4,438.7 436.4,437.5 435.4,436.4 434.4,435.8 433.4,436.0 432.4,436.9 431.4,438.1 430.4,439.6 429.4,441.1 428.4,442.4 427.4,443.6 426.4,444.4 425.4,444.7 424.4,444.5 423.4,443.9 422.4,443.0 421.4,441.7 420.4,440.5 419.4,439.8 418.4,439.8 417.4,440.3 416.4,441.0 415.4,441.6 414.4,441.5 413.4,440.8 412.4,439.9 411.4,439.4 410.4,440.0 409.4,441.4 408.4,443.1 407.4,444.6 406.4,445.6 405.4,445.9 404.4,445.9 403.4,445.3 402.4,444.2 401.4,442.6 400.4,440.9 399.4,439.7 398.4,438.9 397.4,438.5 396.4,438.4 395.4,438.8 394.4,439.8 393.4,441.5 392.4,443.5 391.4,445.5 390.4,447.1 389.4,448.2 388.4,448.9 387.4,449.5 386.4,449.9 385.4,450.2 384.4,450.4 383.4,450.4 382.4,450.2 381.4,449.8 380.4,449.3 379.4,448.4 378.4,447.0 377.4,445.0 376.4,442.7 375.4,440.6 374.4,438.6 373.4,437.2 372.4,437.3 371.4,438.6 370.4,440.6 369.4,442.5 368.4,444.4 367.4,446.0 366.4,447.0 365.4,447.3 364.4,447.2 363.4,447.1 362.4,447.0 361.4,446.9 360.4,447.0 359.4,447.2 358.4,447.5 357.4,447.7 356.4,447.7 355.4,447.5 354.4,447.0 353.4,446.2 352.4,445.0 351.4,443.8 350.4,442.6 349.4,441.5 348.4,440.6 347.4,440.0 346.4,439.7 345.4,439.6 344.4,439.5 343.4,439.1 342.4,438.6 341.4,438.0 340.4,437.3 339.4,436.5 338.4,435.8 337.4,435.3 336.4,435.2 335.4,435.2 334.4,435.4 333.4,435.9 332.4,436.6 331.4,437.7 330.4,439.0 329.4,440.4 328.4,442.0 327.4,443.8 326.4,445.8 325.4,447.9 324.4,449.3 323.4,449.2 322.4,447.7 321.4,445.6 320.4,443.2 319.4,441.0 318.4,439.2 317.4,438.1 316.4,437.8 315.4,438.4 314.4,439.6 313.4,440.7 312.4,441.2 311.4,440.8 310.4,439.9 309.4,438.8 308.4,437.6 307.4,436.5 306.4,435.8 305.4,435.8 304.4,436.1 303.4,436.7 302.4,437.5 301.4,438.4 300.4,439.4 299.4,440.2 298.4,440.1 297.4,439.2 296.4,437.9 295.4,436.5 294.4,435.0 293.4,433.2 292.4,431.4 291.4,430.6 290.4,431.1 289.4,432.4 288.4,434.2 287.4,436.2 286.4,438.5 285.4,440.9 284.4,443.2 283.4,445.3 282.4,446.7 281.4,446.6 280.4,445.4 279.4,443.4 278.4,440.9 277.4,438.2 276.4,435.6 275.4,434.5 274.4,435.6 273.4,437.3 272.4,438.5 271.4,439.2 270.4,439.6 269.4,439.7 268.4,439.9 267.4,440.0 266.4,440.2 265.4,440.3 264.4,440.6 263.4,441.2 262.4,442.0 261.4,442.6 260.4,442.6 259.4,441.9 258.4,440.8 257.4,439.5 256.4,438.2 255.4,437.2 254.4,436.6 253.4,436.3 252.4,436.6 251.4,437.6 250.4,439.0 249.4,439.9 248.4,440.0 247.4,439.7 246.4,439.2 245.4,438.7 244.4,438.2 243.4,437.7 242.4,437.3 241.4,437.2 240.4,437.3 239.4,437.6 238.4,438.1 237.4,438.8 236.4,439.6 235.4,440.7 234.4,441.8 233.4,442.9 232.4,443.5 231.4,443.1 230.4,441.4 229.4,438.6 228.4,435.3 227.4,432.3 226.4,431.4 225.4,433.0 224.4,435.9 223.4,439.4 222.4,442.9 221.4,445.7 220.4,446.9 219.4,446.6 218.4,445.2 217.4,443.3 216.4,441.2 215.4,439.5 214.4,438.7 213.4,438.8 212.4,440.1 211.4,441.9 210.4,443.3 209.4,444.2 208.4,444.6 207.4,444.6 206.4,444.2 205.4,443.6 204.4,442.8 203.4,441.9 202.4,440.9 201.4,440.4 200.4,440.8 199.4,441.4 198.4,441.9 197.4,442.3 196.4,442.6 195.4,443.0 194.4,443.4 193.4,443.7 192.4,443.8 191.4,443.7 190.4,443.2 189.4,442.5 188.4,441.5 187.4,440.3 186.4,439.1 185.4,438.0 184.4,437.1 183.4,436.5 182.4,436.5 181.4,437.2 180.4,438.2 179.4,439.2 178.4,440.2 177.4,441.2 176.4,441.9 175.4,442.5 174.4,443.2 173.4,444.1 172.4,445.0 171.4,445.7 170.4,446.0 169.4,445.8 168.4,445.2 167.4,444.1 166.4,442.8 165.4,441.6 164.4,441.3 163.4,441.6 162.4,442.3 161.4,442.9 160.4,443.2 159.4,442.9 158.4,442.2 157.4,441.1 156.4,439.4 155.4,437.4 154.4,435.6 153.4,434.3 152.4,434.2 151.4,435.1 150.4,436.6 149.4,438.0 148.4,439.2 147.4,439.9 146.4,439.8 145.4,439.0 144.4,437.4 143.4,435.2 142.4,432.9 141.4,430.9 140.4,429.6 139.4,429.2 138.4,429.8 137.4,430.9 136.4,432.1 135.4,433.2 134.4,434.3 133.4,435.4 132.4,436.4 131.4,437.4 130.4,438.5 129.4,439.7 128.4,441.0 127.4,442.3 126.4,443.7 125.4,445.1 124.4,446.1 123.4,446.7 122.4,446.5 121.4,445.8 120.4,444.6 119.4,443.2 118.4,441.9 117.4,441.2 116.4,441.2 115.4,442.0 114.4,443.1 113.4,443.9 112.4,444.1 111.4,443.6 110.4,442.6 109.4,441.4 108.4,440.1 107.4,438.7 106.4,438.1 105.4,438.9 104.4,440.6 103.4,442.2 102.4,443.3 101.4,443.6 100.4,442.8 99.4,441.1 98.4,439.2 97.4,437.4 96.4,435.6 95.4,434.1 94.4,433.1 93.4,432.6 92.4,432.9 91.4,433.7 90.4,434.9 89.4,436.3 88.4,438.0 87.4,439.5 86.4,440.2 85.4,439.9 84.4,438.9 83.4,437.6 82.4,436.1 81.4,435.0 80.4,434.2 79.4,433.8 78.4,433.8 77.4,434.5 76.4,436.0 75.4,438.2 74.4,440.0 73.4,440.9 72.4,441.0 71.4,439.7 70.4,437.0 69.4,433.9 68.4,431.1 67.4,429.1 66.4,428.6 65.4,430.0 64.4,432.6 63.4,434.8 62.4,436.1 61.4,437.1 60.4,438.1 59.4,439.2 58.4,440.6 57.4,442.4 56.4,443.7Z" fill="#d9d9d9" stroke="none"/>
<path d="M56.4,467.6 57.4,466.1 58.4,463.9 59.4,461.9 60.4,460.2 61.4,458.7 62.4,457.0 63.4,454.8 64.4,452.6 65.4,451.1 66.4,451.5 67.4,453.8 68.4,457.0 69.4,460.1 70.4,462.7 71.4,463.8 72.4,462.4 73.4,459.7 74.4,457.2 75.4,455.2 76.4,453.7 77.4,452.8 78.4,452.5 79.4,452.7 80.4,453.4 81.4,454.6 82.4,456.1 83.4,458.0 84.4,459.9 85.4,461.0 86.4,460.9 87.4,460.1 88.4,459.0 89.4,457.9 90.4,456.8 91.4,456.0 92.4,455.9 93.4,456.4 94.4,457.5 95.4,459.0 96.4,461.1 97.4,463.3 98.4,465.1 99.4,465.8 100.4,465.0 101.4,463.0 102.4,460.4 103.4,458.1 104.4,457.3 105.4,458.4 106.4,460.9 107.4,463.3 108.4,465.0 109.4,466.0 110.4,466.6 111.4,466.8 112.4,466.5 113.4,466.0 114.4,465.3 115.4,464.5 116.4,463.5 117.4,462.4 118.4,461.3 119.4,460.4 120.4,459.7 121.4,459.4 122.4,459.7 123.4,460.5 124.4,461.5 125.4,462.1 126.4,462.3 127.4,461.9 128.4,461.1 129.4,460.2 130.4,459.2 131.4,458.1 132.4,457.1 133.4,456.1 134.4,455.1 135.4,454.1 136.4,453.3 137.4,453.4 138.4,454.7 139.4,457.0 140.4,459.1 141.4,460.9 142.4,462.1 143.4,462.3 144.4,461.5 145.4,460.2 146.4,459.1 147.4,458.1 148.4,458.0 149.4,458.8 150.4,460.3 151.4,461.8 152.4,463.3 153.4,464.5 154.4,465.3 155.4,465.6 156.4,465.5 157.4,464.9 158.4,464.3 159.4,464.2 160.4,464.7 161.4,465.6 162.4,466.7 163.4,467.5 164.4,468.2 165.4,468.6 166.4,468.6 167.4,468.2 168.4,467.4 169.4,466.6 170.4,465.9 171.4,465.5 172.4,465.2 173.4,464.9 174.4,464.2 175.4,463.2 176.4,462.1 177.4,461.1 178.4,460.5 179.4,460.4 180.4,460.7 181.4,461.4 182.4,462.3 183.4,463.6 184.4,465.1 185.4,466.4 186.4,467.4 187.4,468.2 188.4,468.5 189.4,468.4 190.4,467.9 191.4,467.2 192.4,466.7 193.4,466.3 194.4,466.0 195.4,465.4 196.4,464.7 197.4,464.2 198.4,464.5 199.4,465.3 200.4,466.2 201.4,466.9 202.4,467.6 203.4,468.0 204.4,468.1 205.4,467.7 206.4,466.9 207.4,465.5 208.4,463.3 209.4,460.9 210.4,459.0 211.4,458.3 212.4,458.5 213.4,459.1 214.4,459.8 215.4,460.6 216.4,461.2 217.4,461.3 218.4,460.5 219.4,459.1 220.4,457.2 221.4,455.4 222.4,454.5 223.4,455.7 224.4,458.3 225.4,461.1 226.4,463.5 227.4,464.9 228.4,465.5 229.4,465.5 230.4,465.1 231.4,464.4 232.4,463.7 233.4,463.0 234.4,462.3 235.4,461.6 236.4,461.1 237.4,461.1 238.4,461.4 239.4,462.0 240.4,462.6 241.4,462.9 242.4,462.9 243.4,462.4 244.4,461.7 245.4,461.1 246.4,460.5 247.4,460.1 248.4,459.9 249.4,460.2 250.4,460.8 251.4,461.6 252.4,462.5 253.4,463.4 254.4,464.4 255.4,465.1 256.4,465.5 257.4,465.0 258.4,463.8 259.4,462.3 260.4,460.9 261.4,459.8 262.4,458.9 263.4,458.5 264.4,458.6 265.4,459.1 266.4,459.7 267.4,460.0 268.4,459.5 269.4,458.5 270.4,457.7 271.4,458.3 272.4,460.5 273.4,462.8 274.4,464.5 275.4,465.7 276.4,466.2 277.4,465.7 278.4,464.2 279.4,461.6 280.4,459.1 281.4,457.4 282.4,456.3 283.4,455.7 284.4,455.2 285.4,454.4 286.4,453.9 287.4,454.1 288.4,455.0 289.4,456.2 290.4,457.6 291.4,459.3 292.4,461.0 293.4,462.3 294.4,463.0 295.4,463.0 296.4,462.5 297.4,461.9 298.4,461.1 299.4,460.4 300.4,459.8 301.4,459.7 302.4,460.3 303.4,461.3 304.4,462.3 305.4,463.5 306.4,464.4 307.4,464.7 308.4,464.2 309.4,463.3 310.4,462.2 311.4,461.5 312.4,461.3 313.4,461.9 314.4,463.0 315.4,464.7 316.4,466.7 317.4,468.9 318.4,470.9 319.4,472.1 320.4,471.9 321.4,470.2 322.4,468.1 323.4,466.4 324.4,465.1 325.4,464.0 326.4,462.9 327.4,461.9 328.4,460.9 329.4,460.0 330.4,459.3 331.4,459.0 332.4,459.1 333.4,459.5 334.4,460.1 335.4,460.7 336.4,461.3 337.4,461.9 338.4,462.5 339.4,463.0 340.4,463.4 341.4,463.8 342.4,464.3 343.4,464.9 344.4,465.6 345.4,466.3 346.4,467.2 347.4,468.1 348.4,469.2 349.4,470.1 350.4,470.7 351.4,470.8 352.4,470.5 353.4,470.2 354.4,470.1 355.4,470.1 356.4,470.3 357.4,470.4 358.4,470.4 359.4,470.3 360.4,469.9 361.4,469.2 362.4,468.1 363.4,466.8 364.4,464.9 365.4,462.8 366.4,461.4 367.4,461.6 368.4,463.1 369.4,465.3 370.4,467.4 371.4,469.4 372.4,471.1 373.4,472.3 374.4,473.0 375.4,473.3 376.4,473.5 377.4,473.7 378.4,473.8 379.4,473.8 380.4,473.7 381.4,473.5 382.4,473.2 383.4,472.7 384.4,471.9 385.4,470.3 386.4,468.1 387.4,465.6 388.4,462.9 389.4,459.7 390.4,456.7 391.4,455.1 392.4,455.9 393.4,458.5 394.4,461.7 395.4,464.4 396.4,466.0 397.4,466.7 398.4,466.5 399.4,466.2 400.4,466.0 401.4,466.0 402.4,465.6 403.4,464.3 404.4,462.5 405.4,461.4 406.4,460.9 407.4,460.6 408.4,460.3 409.4,459.9 410.4,459.7 411.4,459.7 412.4,460.1 413.4,460.7 414.4,461.7 415.4,463.1 416.4,464.8 417.4,466.4 418.4,467.7 419.4,468.4 420.4,468.2 421.4,467.4 422.4,466.3 423.4,465.1 424.4,463.7 425.4,462.2 426.4,461.0 427.4,460.0 428.4,459.7 429.4,460.3 430.4,461.3 431.4,462.6 432.4,464.1 433.4,465.5 434.4,466.4 435.4,466.6 436.4,466.4 437.4,466.0 438.4,465.6 439.4,465.2 440.4,465.0 441.4,465.1 L441.4,471.9 440.4,471.8 439.4,472.0 438.4,472.4 437.4,472.8 436.4,473.2 435.4,473.4 434.4,473.2 433.4,472.3 432.4,470.9 431.4,469.4 430.4,468.1 429.4,467.1 428.4,466.5 427.4,466.8 426.4,467.8 425.4,469.0 424.4,470.5 423.4,471.9 422.4,473.1 421.4,474.2 420.4,475.0 419.4,475.2 418.4,474.5 417.4,473.3 416.4,471.9 415.4,470.5 414.4,469.4 413.4,468.8 412.4,468.6 411.4,468.5 410.4,468.6 409.4,468.8 408.4,469.0 407.4,469.0 406.4,468.9 405.4,469.0 404.4,469.9 403.4,471.6 402.4,473.7 401.4,475.6 400.4,476.8 399.4,476.8 398.4,475.7 397.4,474.4 396.4,473.2 395.4,472.0 394.4,470.7 393.4,469.1 392.4,467.4 391.4,466.5 390.4,466.9 389.4,468.4 388.4,470.4 387.4,472.6 386.4,475.0 385.4,477.1 384.4,478.7 383.4,479.5 382.4,480.0 381.4,480.3 380.4,480.5 379.4,480.6 378.4,480.6 377.4,480.5 376.4,480.3 375.4,480.1 374.4,479.8 373.4,479.1 372.4,477.9 371.4,476.2 370.4,474.2 369.4,472.1 368.4,469.9 367.4,468.4 366.4,468.2 365.4,469.6 364.4,471.7 363.4,473.6 362.4,474.9 361.4,476.0 360.4,476.7 359.4,477.1 358.4,477.2 357.4,477.2 356.4,477.1 355.4,476.9 354.4,476.9 353.4,477.0 352.4,477.3 351.4,477.6 350.4,477.5 349.4,476.9 348.4,476.0 347.4,474.9 346.4,474.0 345.4,473.1 344.4,472.4 343.4,471.7 342.4,471.1 341.4,470.6 340.4,470.2 339.4,469.8 338.4,469.3 337.4,468.7 336.4,468.1 335.4,467.5 334.4,466.9 333.4,466.3 332.4,465.9 331.4,465.8 330.4,466.1 329.4,466.8 328.4,467.7 327.4,468.7 326.4,469.7 325.4,470.8 324.4,471.9 323.4,473.2 322.4,474.9 321.4,477.0 320.4,478.7 319.4,478.9 318.4,477.7 317.4,475.7 316.4,473.5 315.4,471.5 314.4,469.8 313.4,468.7 312.4,468.1 311.4,468.3 310.4,469.0 309.4,470.1 308.4,471.0 307.4,471.5 306.4,471.2 305.4,470.3 304.4,469.1 303.4,468.1 302.4,467.1 301.4,466.5 300.4,466.6 299.4,467.2 298.4,467.9 297.4,468.7 296.4,469.3 295.4,469.8 294.4,469.8 293.4,469.3 292.4,468.4 291.4,467.1 290.4,465.8 289.4,464.3 288.4,462.8 287.4,461.4 286.4,460.9 285.4,461.5 284.4,462.8 283.4,464.8 282.4,467.4 281.4,470.4 280.4,473.2 279.4,475.6 278.4,476.9 277.4,476.4 276.4,474.9 275.4,473.2 274.4,471.5 273.4,469.6 272.4,467.3 271.4,465.2 270.4,464.8 269.4,466.2 268.4,468.0 267.4,469.5 266.4,470.2 265.4,470.4 264.4,470.3 263.4,470.1 262.4,470.1 261.4,470.1 260.4,470.2 259.4,470.6 258.4,471.3 257.4,472.0 256.4,472.3 255.4,471.9 254.4,471.2 253.4,470.2 252.4,469.3 251.4,468.4 250.4,467.6 249.4,467.0 248.4,466.7 247.4,466.9 246.4,467.3 245.4,467.9 244.4,468.5 243.4,469.2 242.4,469.7 241.4,469.7 240.4,469.4 239.4,468.8 238.4,468.2 237.4,467.9 236.4,467.9 235.4,468.4 234.4,469.1 233.4,469.8 232.4,470.5 231.4,471.2 230.4,471.9 229.4,472.3 228.4,472.3 227.4,471.7 226.4,470.3 225.4,468.0 224.4,465.2 223.4,463.0 222.4,462.7 221.4,464.9 220.4,468.4 219.4,472.1 218.4,475.1 217.4,477.1 216.4,477.8 215.4,477.0 214.4,475.4 213.4,473.4 212.4,471.1 211.4,469.1 210.4,468.2 209.4,468.8 208.4,470.5 207.4,472.4 206.4,473.7 205.4,474.5 204.4,474.9 203.4,474.8 202.4,474.4 201.4,473.7 200.4,473.0 199.4,472.1 198.4,471.3 197.4,471.0 196.4,471.5 195.4,472.2 194.4,472.8 193.4,473.1 192.4,473.5 191.4,474.0 190.4,474.7 189.4,475.2 188.4,475.3 187.4,475.0 186.4,474.2 185.4,473.2 184.4,471.9 183.4,470.4 182.4,469.1 181.4,468.2 180.4,467.5 179.4,467.2 178.4,467.3 177.4,467.9 176.4,468.9 175.4,470.0 174.4,471.0 173.4,471.7 172.4,472.0 171.4,472.3 170.4,472.8 169.4,473.6 168.4,474.8 167.4,476.0 166.4,476.7 165.4,476.7 164.4,475.9 163.4,474.8 162.4,473.6 161.4,472.5 160.4,471.5 159.4,471.0 158.4,471.1 157.4,471.7 156.4,472.3 155.4,472.4 154.4,472.1 153.4,471.3 152.4,470.1 151.4,468.6 150.4,467.1 149.4,465.6 148.4,464.8 147.4,464.9 146.4,465.9 145.4,467.0 144.4,468.3 143.4,469.1 142.4,468.9 141.4,467.7 140.4,465.9 139.4,463.8 138.4,461.5 137.4,460.2 136.4,460.1 135.4,460.9 134.4,461.9 133.4,462.9 132.4,463.9 131.4,464.9 130.4,466.0 129.4,467.0 128.4,468.1 127.4,469.3 126.4,470.7 125.4,472.3 124.4,473.6 123.4,474.6 122.4,475.3 121.4,475.8 120.4,476.0 119.4,475.7 118.4,475.0 117.4,474.1 116.4,473.3 115.4,472.7 114.4,472.6 113.4,472.8 112.4,473.3 111.4,473.6 110.4,473.4 109.4,472.8 108.4,472.0 107.4,471.1 106.4,470.1 105.4,469.4 104.4,469.3 103.4,470.0 102.4,471.0 101.4,471.9 100.4,472.5 99.4,472.7 98.4,471.9 97.4,470.1 96.4,467.9 95.4,465.8 94.4,464.3 93.4,463.2 92.4,462.7 91.4,462.8 90.4,463.6 89.4,464.9 88.4,466.4 87.4,468.0 86.4,469.6 85.4,470.6 84.4,470.3 83.4,469.3 82.4,468.1 81.4,467.1 80.4,466.2 79.4,465.5 78.4,464.9 77.4,464.6 76.4,464.8 75.4,465.5 74.4,466.6 73.4,468.2 72.4,470.2 71.4,471.0 70.4,469.7 69.4,467.1 68.4,464.3 67.4,461.7 66.4,460.1 65.4,460.5 64.4,462.6 63.4,465.4 62.4,467.8 61.4,469.5 60.4,470.7 59.4,471.7 58.4,473.1 57.4,474.7 56.4,475.8Z" fill="#d9d9d9" stroke="none"/>
<path d="M56.4,495.9 57.4,494.1 58.4,492.0 59.4,490.3 60.4,489.0 61.4,487.8 62.4,486.5 63.4,484.7 64.4,481.9 65.4,479.3 66.4,478.9 67.4,480.3 68.4,482.4 69.4,484.9 70.4,487.7 71.4,490.3 72.4,490.9 73.4,488.8 74.4,487.3 75.4,487.4 76.4,487.8 77.4,488.2 78.4,487.7 79.4,486.0 80.4,484.0 81.4,482.4 82.4,481.3 83.4,481.1 84.4,481.7 85.4,483.1 86.4,485.2 87.4,487.6 88.4,489.1 89.4,489.7 90.4,489.6 91.4,489.3 92.4,489.0 93.4,488.7 94.4,488.4 95.4,488.2 96.4,488.5 97.4,489.2 98.4,489.9 99.4,490.3 100.4,490.6 101.4,491.0 102.4,491.7 103.4,492.4 104.4,492.5 105.4,492.2 106.4,491.9 107.4,492.0 108.4,492.7 109.4,493.6 110.4,494.4 111.4,494.9 112.4,495.1 113.4,494.9 114.4,494.2 115.4,493.1 116.4,491.9 117.4,490.9 118.4,490.3 119.4,490.2 120.4,490.3 121.4,490.6 122.4,491.0 123.4,491.3 124.4,491.6 125.4,491.6 126.4,491.7 127.4,491.9 128.4,492.3 129.4,492.3 130.4,491.8 131.4,490.8 132.4,489.8 133.4,488.8 134.4,487.9 135.4,486.9 136.4,485.6 137.4,484.2 138.4,482.8 139.4,482.0 140.4,482.2 141.4,483.6 142.4,485.5 143.4,487.2 144.4,488.9 145.4,490.3 146.4,491.2 147.4,491.4 148.4,490.8 149.4,490.0 150.4,489.2 151.4,488.6 152.4,488.3 153.4,488.4 154.4,489.1 155.4,490.1 156.4,491.0 157.4,491.9 158.4,492.7 159.4,493.6 160.4,494.5 161.4,495.3 162.4,495.4 163.4,494.6 164.4,493.9 165.4,493.8 166.4,494.1 167.4,494.7 168.4,495.4 169.4,496.4 170.4,497.4 171.4,497.9 172.4,497.8 173.4,497.0 174.4,496.2 175.4,495.7 176.4,495.4 177.4,494.9 178.4,494.1 179.4,492.9 180.4,491.6 181.4,490.6 182.4,489.9 183.4,489.5 184.4,489.6 185.4,490.0 186.4,490.9 187.4,492.0 188.4,493.4 189.4,495.0 190.4,496.3 191.4,497.3 192.4,497.9 193.4,498.2 194.4,498.0 195.4,497.5 196.4,496.7 197.4,496.1 198.4,495.6 199.4,495.1 200.4,494.5 201.4,494.0 202.4,493.6 203.4,493.8 204.4,494.5 205.4,495.3 206.4,496.1 207.4,496.8 208.4,497.1 209.4,496.9 210.4,496.0 211.4,494.6 212.4,492.3 213.4,489.6 214.4,487.4 215.4,486.1 216.4,485.5 217.4,485.3 218.4,485.5 219.4,486.0 220.4,486.9 221.4,487.8 222.4,488.5 223.4,488.7 224.4,488.3 225.4,487.5 226.4,486.4 227.4,485.8 228.4,485.9 229.4,486.3 230.4,486.6 231.4,487.1 232.4,488.2 233.4,490.0 234.4,491.9 235.4,493.3 236.4,493.6 237.4,493.1 238.4,492.5 239.4,491.9 240.4,491.3 241.4,490.8 242.4,490.5 243.4,490.4 244.4,490.6 245.4,491.1 246.4,491.7 247.4,492.2 248.4,492.7 249.4,493.0 250.4,493.0 251.4,492.4 252.4,491.3 253.4,490.2 254.4,489.3 255.4,489.2 256.4,489.8 257.4,490.6 258.4,491.4 259.4,492.3 260.4,493.0 261.4,493.5 262.4,493.6 263.4,493.4 264.4,493.1 265.4,492.8 266.4,492.6 267.4,492.5 268.4,492.5 269.4,492.7 270.4,492.9 271.4,493.1 272.4,492.7 273.4,491.6 274.4,489.7 275.4,487.1 276.4,484.7 277.4,484.2 278.4,485.9 279.4,488.9 280.4,492.1 281.4,494.9 282.4,496.8 283.4,498.2 284.4,498.7 285.4,498.0 286.4,496.0 287.4,493.0 288.4,489.5 289.4,486.1 290.4,483.7 291.4,482.1 292.4,481.2 293.4,481.2 294.4,482.4 295.4,484.8 296.4,487.4 297.4,489.4 298.4,490.9 299.4,491.8 300.4,492.1 301.4,491.8 302.4,491.3 303.4,490.7 304.4,490.0 305.4,489.5 306.4,489.1 307.4,489.3 308.4,489.8 309.4,490.6 310.4,491.5 311.4,492.5 312.4,493.5 313.4,494.2 314.4,494.2 315.4,493.7 316.4,492.9 317.4,492.1 318.4,491.7 319.4,491.6 320.4,492.3 321.4,493.7 322.4,495.5 323.4,497.3 324.4,499.1 325.4,500.8 326.4,501.5 327.4,500.7 328.4,498.5 329.4,496.3 330.4,494.6 331.4,493.1 332.4,491.8 333.4,490.7 334.4,489.9 335.4,489.4 336.4,489.1 337.4,488.8 338.4,488.5 339.4,488.4 340.4,488.3 341.4,488.5 342.4,489.0 343.4,489.8 344.4,490.7 345.4,491.5 346.4,492.4 347.4,493.2 348.4,493.7 349.4,494.1 350.4,494.4 351.4,494.6 352.4,494.9 353.4,495.3 354.4,496.0 355.4,497.1 356.4,498.3 357.4,499.3 358.4,499.6 359.4,499.5 360.4,499.3 361.4,499.2 362.4,499.4 363.4,499.6 364.4,499.8 365.4,500.0 366.4,499.9 367.4,499.4 368.4,498.5 369.4,497.4 370.4,496.2 371.4,494.8 372.4,493.1 373.4,491.6 374.4,490.7 375.4,490.9 376.4,492.4 377.4,494.5 378.4,497.0 379.4,499.3 380.4,500.9 381.4,502.0 382.4,502.8 383.4,503.3 384.4,503.5 385.4,503.5 386.4,503.4 387.4,503.1 388.4,502.6 389.4,502.0 390.4,501.2 391.4,500.3 392.4,499.1 393.4,497.9 394.4,496.4 395.4,495.0 396.4,493.7 397.4,492.1 398.4,490.6 399.4,489.5 400.4,489.0 401.4,489.1 402.4,489.8 403.4,490.9 404.4,492.4 405.4,494.1 406.4,495.7 407.4,496.5 408.4,496.4 409.4,495.4 410.4,493.6 411.4,491.8 412.4,490.8 413.4,490.7 414.4,490.8 415.4,490.8 416.4,490.8 417.4,490.7 418.4,490.8 419.4,491.2 420.4,491.8 421.4,492.8 422.4,494.1 423.4,495.4 424.4,496.5 425.4,497.4 426.4,498.1 427.4,498.3 428.4,498.1 429.4,497.3 430.4,495.9 431.4,494.4 432.4,492.8 433.4,491.3 434.4,490.1 435.4,489.6 436.4,490.0 437.4,490.8 438.4,491.7 439.4,492.8 440.4,494.0 441.4,495.0 L441.4,501.0 440.4,500.0 439.4,498.8 438.4,497.7 437.4,496.8 436.4,496.0 435.4,495.6 434.4,496.1 433.4,497.3 432.4,498.8 431.4,500.4 430.4,501.9 429.4,503.3 428.4,504.1 427.4,504.3 426.4,504.1 425.4,503.4 424.4,502.5 423.4,501.4 422.4,500.1 421.4,498.8 420.4,497.9 419.4,497.4 418.4,497.4 417.4,497.7 416.4,498.3 415.4,498.6 414.4,498.5 413.4,498.1 412.4,497.8 411.4,498.3 410.4,499.9 409.4,501.9 408.4,503.9 407.4,505.5 406.4,506.4 405.4,506.5 404.4,506.1 403.4,505.3 402.4,504.1 401.4,502.6 400.4,501.0 399.4,499.8 398.4,499.2 397.4,499.4 396.4,500.1 395.4,501.1 394.4,502.5 393.4,503.9 392.4,505.1 391.4,506.3 390.4,507.2 389.4,508.0 388.4,508.6 387.4,509.1 386.4,509.4 385.4,509.5 384.4,509.5 383.4,509.3 382.4,508.8 381.4,508.0 380.4,506.9 379.4,505.3 378.4,503.0 377.4,500.5 376.4,498.4 375.4,496.9 374.4,496.7 373.4,497.6 372.4,499.1 371.4,500.8 370.4,502.2 369.4,503.4 368.4,504.5 367.4,505.4 366.4,505.9 365.4,506.0 364.4,505.8 363.4,505.6 362.4,505.4 361.4,505.2 360.4,505.3 359.4,505.7 358.4,506.2 357.4,506.3 356.4,505.9 355.4,504.9 354.4,503.8 353.4,502.8 352.4,501.9 351.4,501.1 350.4,500.5 349.4,500.1 348.4,499.7 347.4,499.2 346.4,498.4 345.4,497.6 344.4,496.8 343.4,496.1 342.4,495.5 341.4,495.4 340.4,495.6 339.4,496.1 338.4,496.7 337.4,497.3 336.4,497.8 335.4,498.3 334.4,498.8 333.4,499.4 332.4,500.2 331.4,501.2 330.4,502.2 329.4,503.6 328.4,505.3 327.4,507.2 326.4,507.8 325.4,506.9 324.4,505.2 323.4,503.3 322.4,501.5 321.4,499.7 320.4,498.3 319.4,497.6 318.4,497.7 317.4,498.1 316.4,498.9 315.4,499.7 314.4,500.2 313.4,500.2 312.4,499.5 311.4,498.5 310.4,497.5 309.4,496.6 308.4,495.8 307.4,495.3 306.4,495.1 305.4,495.5 304.4,496.0 303.4,496.7 302.4,497.3 301.4,497.8 300.4,498.1 299.4,497.8 298.4,497.0 297.4,495.9 296.4,494.9 295.4,493.8 294.4,493.1 293.4,493.6 292.4,494.9 291.4,496.6 290.4,498.1 289.4,499.7 288.4,501.5 287.4,503.3 286.4,504.6 285.4,505.2 284.4,505.1 283.4,504.3 282.4,503.1 281.4,501.9 280.4,500.9 279.4,500.1 278.4,499.5 277.4,499.1 276.4,499.4 275.4,500.3 274.4,500.4 273.4,500.0 272.4,499.6 271.4,499.2 270.4,498.9 269.4,498.7 268.4,498.5 267.4,498.5 266.4,498.6 265.4,498.8 264.4,499.1 263.4,499.4 262.4,499.6 261.4,499.7 260.4,499.5 259.4,499.1 258.4,498.7 257.4,498.2 256.4,497.6 255.4,497.0 254.4,496.9 253.4,497.3 252.4,498.1 251.4,498.8 250.4,499.1 249.4,499.1 248.4,498.7 247.4,498.2 246.4,497.7 245.4,497.1 244.4,496.6 243.4,496.4 242.4,496.5 241.4,496.8 240.4,497.3 239.4,497.9 238.4,498.5 237.4,499.2 236.4,499.9 235.4,500.3 234.4,500.6 233.4,500.6 232.4,500.1 231.4,498.8 230.4,496.9 229.4,494.6 228.4,492.7 227.4,491.9 226.4,492.6 225.4,494.3 224.4,496.4 223.4,498.9 222.4,501.4 221.4,503.5 220.4,505.1 219.4,506.3 218.4,506.8 217.4,506.5 216.4,505.4 215.4,503.9 214.4,502.5 213.4,501.9 212.4,502.1 211.4,502.3 210.4,502.6 209.4,503.0 208.4,503.1 207.4,502.8 206.4,502.1 205.4,501.3 204.4,500.5 203.4,499.8 202.4,499.6 201.4,500.0 200.4,500.5 199.4,501.1 198.4,501.6 197.4,502.1 196.4,502.7 195.4,503.5 194.4,504.0 193.4,504.2 192.4,503.9 191.4,503.3 190.4,502.3 189.4,501.0 188.4,499.4 187.4,498.0 186.4,496.9 185.4,496.0 184.4,495.6 183.4,495.5 182.4,495.9 181.4,496.6 180.4,497.6 179.4,498.9 178.4,500.1 177.4,500.9 176.4,501.4 175.4,501.7 174.4,502.2 173.4,503.0 172.4,503.9 171.4,504.6 170.4,504.9 169.4,505.0 168.4,504.8 167.4,504.0 166.4,502.5 165.4,501.1 164.4,500.4 163.4,500.7 162.4,501.4 161.4,501.3 160.4,500.5 159.4,499.6 158.4,498.7 157.4,497.9 156.4,497.0 155.4,496.1 154.4,495.1 153.4,494.4 152.4,494.3 151.4,494.6 150.4,495.2 149.4,496.0 148.4,496.8 147.4,497.4 146.4,497.2 145.4,496.3 144.4,494.9 143.4,493.4 142.4,492.3 141.4,491.5 140.4,491.5 139.4,492.2 138.4,492.9 137.4,493.2 136.4,493.3 135.4,493.5 134.4,494.0 133.4,494.9 132.4,495.8 131.4,496.8 130.4,497.8 129.4,498.3 128.4,498.3 127.4,498.0 126.4,497.8 125.4,498.1 124.4,498.9 123.4,500.0 122.4,501.3 121.4,502.7 120.4,503.9 119.4,505.1 118.4,505.9 117.4,506.4 116.4,506.6 115.4,506.5 114.4,505.9 113.4,504.8 112.4,503.4 111.4,502.0 110.4,500.8 109.4,499.8 108.4,499.0 107.4,498.8 106.4,499.5 105.4,500.8 104.4,502.0 103.4,502.7 102.4,502.4 101.4,501.7 100.4,500.8 99.4,499.6 98.4,498.3 97.4,496.7 96.4,495.2 95.4,494.5 94.4,494.8 93.4,495.8 92.4,497.2 91.4,498.9 90.4,500.9 89.4,502.7 88.4,503.8 87.4,503.6 86.4,502.3 85.4,500.7 84.4,499.3 83.4,498.0 82.4,497.2 81.4,496.7 80.4,496.7 79.4,497.0 78.4,497.0 77.4,496.1 76.4,494.8 75.4,494.0 74.4,494.2 73.4,496.5 72.4,499.6 71.4,500.3 70.4,498.9 69.4,497.4 68.4,496.0 67.4,494.6 66.4,493.6 65.4,494.0 64.4,496.1 63.4,498.1 62.4,498.8 61.4,498.8 60.4,498.8 59.4,498.8 58.4,499.4 57.4,500.9 56.4,502.2Z" fill="#d9d9d9" stroke="none"/>
<path d="M56.4,527.1 57.4,525.5 58.4,523.2 59.4,521.1 60.4,519.3 61.4,517.8 62.4,516.7 63.4,516.5 64.4,517.0 65.4,517.4 66.4,516.5 67.4,515.0 68.4,513.9 69.4,513.0 70.4,512.7 71.4,513.4 72.4,514.8 73.4,515.4 74.4,515.9 75.4,517.1 76.4,518.6 77.4,519.6 78.4,519.8 79.4,519.4 80.4,518.8 81.4,518.4 82.4,518.2 83.4,518.0 84.4,517.9 85.4,517.8 86.4,517.8 87.4,517.7 88.4,517.6 89.4,517.2 90.4,516.6 91.4,516.2 92.4,516.3 93.4,516.8 94.4,517.4 95.4,518.1 96.4,518.6 97.4,519.0 98.4,519.2 99.4,519.2 100.4,519.1 101.4,519.1 102.4,519.7 103.4,520.5 104.4,521.5 105.4,522.5 106.4,523.7 107.4,524.7 108.4,525.7 109.4,526.4 110.4,526.6 111.4,526.2 112.4,525.4 113.4,524.2 114.4,522.8 115.4,521.4 116.4,520.4 117.4,520.0 118.4,520.2 119.4,521.0 120.4,522.1 121.4,523.4 122.4,524.3 123.4,524.5 124.4,524.1 125.4,523.6 126.4,523.0 127.4,522.6 128.4,522.7 129.4,523.2 130.4,523.5 131.4,523.2 132.4,522.4 133.4,521.5 134.4,520.6 135.4,519.8 136.4,519.0 137.4,518.0 138.4,516.7 139.4,515.2 140.4,514.1 141.4,514.2 142.4,515.7 143.4,517.8 144.4,519.7 145.4,521.1 146.4,521.5 147.4,520.9 148.4,519.8 149.4,518.5 150.4,517.3 151.4,516.8 152.4,517.2 153.4,518.1 154.4,519.5 155.4,521.1 156.4,522.6 157.4,523.6 158.4,524.1 159.4,524.3 160.4,524.2 161.4,523.9 162.4,523.6 163.4,523.5 164.4,523.8 165.4,524.3 166.4,525.0 167.4,525.9 168.4,526.9 169.4,527.5 170.4,527.5 171.4,526.9 172.4,526.3 173.4,525.9 174.4,525.7 175.4,525.5 176.4,525.4 177.4,525.0 178.4,524.5 179.4,523.7 180.4,522.8 181.4,522.2 182.4,521.8 183.4,521.8 184.4,522.0 185.4,522.4 186.4,523.0 187.4,523.8 188.4,524.7 189.4,525.6 190.4,526.4 191.4,527.0 192.4,527.0 193.4,526.5 194.4,525.7 195.4,525.1 196.4,524.6 197.4,524.4 198.4,524.6 199.4,525.0 200.4,525.7 201.4,526.4 202.4,527.2 203.4,527.9 204.4,528.4 205.4,528.5 206.4,528.2 207.4,527.4 208.4,526.1 209.4,524.2 210.4,522.0 211.4,520.1 212.4,518.4 213.4,517.1 214.4,516.4 215.4,516.5 216.4,517.5 217.4,519.0 218.4,520.1 219.4,520.7 220.4,520.8 221.4,520.8 222.4,520.9 223.4,521.3 224.4,522.2 225.4,523.1 226.4,523.7 227.4,523.7 228.4,523.0 229.4,522.0 230.4,521.0 231.4,520.3 232.4,520.3 233.4,520.8 234.4,521.3 235.4,521.4 236.4,521.3 237.4,521.3 238.4,521.2 239.4,521.0 240.4,521.5 241.4,522.4 242.4,522.9 243.4,522.8 244.4,522.3 245.4,521.9 246.4,521.6 247.4,521.3 248.4,521.2 249.4,521.1 250.4,521.3 251.4,521.5 252.4,521.9 253.4,522.3 254.4,522.8 255.4,523.5 256.4,524.1 257.4,524.5 258.4,524.3 259.4,523.6 260.4,522.7 261.4,521.7 262.4,520.8 263.4,520.0 264.4,519.7 265.4,519.9 266.4,520.5 267.4,521.2 268.4,522.2 269.4,523.2 270.4,524.0 271.4,524.3 272.4,524.3 273.4,524.1 274.4,523.7 275.4,523.2 276.4,522.6 277.4,522.1 278.4,521.7 279.4,521.5 280.4,521.2 281.4,520.8 282.4,519.9 283.4,518.3 284.4,516.9 285.4,516.8 286.4,517.6 287.4,518.8 288.4,520.1 289.4,521.5 290.4,522.6 291.4,523.0 292.4,522.6 293.4,521.8 294.4,520.5 295.4,518.8 296.4,516.3 297.4,513.1 298.4,510.2 299.4,509.7 300.4,512.0 301.4,515.5 302.4,518.1 303.4,519.4 304.4,520.2 305.4,520.7 306.4,521.2 307.4,521.5 308.4,521.6 309.4,521.7 310.4,521.8 311.4,522.1 312.4,522.5 313.4,522.6 314.4,522.2 315.4,521.8 316.4,521.5 317.4,521.6 318.4,522.0 319.4,522.6 320.4,523.3 321.4,524.1 322.4,525.0 323.4,525.9 324.4,526.6 325.4,527.2 326.4,527.4 327.4,527.7 328.4,528.1 329.4,528.6 330.4,529.2 331.4,529.6 332.4,529.7 333.4,529.2 334.4,528.3 335.4,527.2 336.4,526.1 337.4,524.9 338.4,523.7 339.4,522.6 340.4,521.9 341.4,521.5 342.4,521.5 343.4,521.8 344.4,522.1 345.4,522.2 346.4,522.1 347.4,521.9 348.4,521.9 349.4,522.0 350.4,522.4 351.4,523.0 352.4,523.5 353.4,524.0 354.4,524.5 355.4,524.9 356.4,525.6 357.4,526.5 358.4,527.7 359.4,528.9 360.4,529.7 361.4,529.7 362.4,529.3 363.4,528.7 364.4,528.5 365.4,528.5 366.4,528.6 367.4,528.7 368.4,528.8 369.4,528.7 370.4,528.4 371.4,527.5 372.4,526.2 373.4,525.0 374.4,524.3 375.4,524.4 376.4,525.2 377.4,526.5 378.4,527.9 379.4,529.2 380.4,530.3 381.4,531.1 382.4,531.5 383.4,531.4 384.4,531.0 385.4,530.1 386.4,528.5 387.4,526.4 388.4,524.5 389.4,523.7 390.4,524.2 391.4,525.7 392.4,527.5 393.4,528.7 394.4,528.9 395.4,528.3 396.4,527.2 397.4,526.0 398.4,524.8 399.4,524.2 400.4,524.2 401.4,524.7 402.4,525.4 403.4,525.9 404.4,526.5 405.4,527.0 406.4,527.1 407.4,526.9 408.4,526.6 409.4,526.5 410.4,526.7 411.4,526.6 412.4,525.8 413.4,524.6 414.4,523.9 415.4,524.1 416.4,524.6 417.4,525.3 418.4,526.0 419.4,526.5 420.4,526.4 421.4,525.4 422.4,524.6 423.4,524.7 424.4,525.2 425.4,525.5 426.4,525.4 427.4,525.1 428.4,524.7 429.4,524.2 430.4,523.7 431.4,523.0 432.4,522.3 433.4,521.5 434.4,520.6 435.4,520.3 436.4,520.4 437.4,521.0 438.4,522.1 439.4,523.5 440.4,525.0 440.9,525.4 L440.9,533.3 440.4,532.9 439.4,531.9 438.4,530.8 437.4,529.7 436.4,528.7 435.4,527.9 434.4,527.9 433.4,528.5 432.4,529.3 431.4,530.0 430.4,530.7 429.4,531.2 428.4,531.7 427.4,532.1 426.4,532.4 425.4,532.5 424.4,532.2 423.4,531.7 422.4,531.6 421.4,532.4 420.4,533.4 419.4,533.5 418.4,533.0 417.4,532.3 416.4,531.6 415.4,531.1 414.4,530.9 413.4,531.6 412.4,532.9 411.4,533.8 410.4,534.3 409.4,534.8 408.4,535.5 407.4,536.4 406.4,536.9 405.4,536.7 404.4,535.9 403.4,534.7 402.4,533.5 401.4,532.3 400.4,531.4 399.4,531.2 398.4,531.8 397.4,533.0 396.4,534.2 395.4,535.5 394.4,537.0 393.4,538.5 392.4,539.7 391.4,540.3 390.4,540.1 389.4,539.4 388.4,538.7 387.4,538.2 386.4,537.9 385.4,537.9 384.4,538.2 383.4,538.5 382.4,538.5 381.4,538.1 380.4,537.5 379.4,536.9 378.4,536.6 377.4,536.6 376.4,536.7 375.4,536.7 374.4,536.6 373.4,536.3 372.4,536.1 371.4,535.9 370.4,535.9 369.4,535.8 368.4,535.8 367.4,535.7 366.4,535.6 365.4,535.6 364.4,535.7 363.4,536.1 362.4,536.9 361.4,537.8 360.4,538.2 359.4,537.8 358.4,536.9 357.4,535.9 356.4,535.0 355.4,534.1 354.4,533.3 353.4,532.5 352.4,531.5 351.4,530.6 350.4,529.8 349.4,529.4 348.4,529.3 347.4,529.4 346.4,529.6 345.4,529.6 344.4,529.5 343.4,529.2 342.4,528.9 341.4,528.8 340.4,529.1 339.4,529.8 338.4,530.8 337.4,532.0 336.4,533.1 335.4,534.2 334.4,535.3 333.4,536.2 332.4,536.7 331.4,536.6 330.4,536.2 329.4,535.6 328.4,535.1 327.4,534.7 326.4,534.4 325.4,534.2 324.4,533.6 323.4,532.9 322.4,532.0 321.4,531.1 320.4,530.3 319.4,529.6 318.4,529.0 317.4,528.6 316.4,528.5 315.4,528.8 314.4,529.2 313.4,529.6 312.4,529.5 311.4,529.1 310.4,528.8 309.4,528.7 308.4,528.6 307.4,528.5 306.4,528.2 305.4,527.7 304.4,527.2 303.4,526.5 302.4,525.6 301.4,524.6 300.4,523.8 299.4,523.6 298.4,524.0 297.4,525.1 296.4,526.9 295.4,529.4 294.4,532.0 293.4,534.3 292.4,536.3 291.4,537.7 290.4,538.3 289.4,538.2 288.4,537.6 287.4,537.0 286.4,536.2 285.4,535.6 284.4,535.7 283.4,536.8 282.4,538.0 281.4,538.2 280.4,537.8 279.4,537.1 278.4,536.3 277.4,535.5 276.4,534.9 275.4,534.4 274.4,533.9 273.4,533.4 272.4,532.8 271.4,532.1 270.4,531.3 269.4,530.3 268.4,529.2 267.4,528.2 266.4,527.5 265.4,526.9 264.4,526.7 263.4,527.0 262.4,527.8 261.4,528.7 260.4,529.7 259.4,530.6 258.4,531.3 257.4,531.5 256.4,531.1 255.4,530.5 254.4,529.8 253.4,529.3 252.4,528.9 251.4,528.5 250.4,528.3 249.4,528.1 248.4,528.2 247.4,528.3 246.4,528.6 245.4,528.9 244.4,529.3 243.4,529.8 242.4,529.9 241.4,529.4 240.4,528.5 239.4,528.0 238.4,528.2 237.4,528.3 236.4,528.6 235.4,529.8 234.4,532.0 233.4,534.6 232.4,537.1 231.4,538.9 230.4,539.3 229.4,538.3 228.4,536.2 227.4,533.8 226.4,531.8 225.4,530.4 224.4,529.2 223.4,528.4 222.4,528.4 221.4,529.4 220.4,531.0 219.4,532.8 218.4,534.4 217.4,535.2 216.4,535.2 215.4,534.9 214.4,534.7 213.4,534.5 212.4,534.2 211.4,533.9 210.4,533.8 209.4,534.0 208.4,534.4 207.4,534.9 206.4,535.3 205.4,535.5 204.4,535.4 203.4,534.9 202.4,534.2 201.4,533.4 200.4,532.7 199.4,532.0 198.4,531.6 197.4,531.4 196.4,531.6 195.4,532.1 194.4,532.7 193.4,533.5 192.4,534.0 191.4,534.0 190.4,533.4 189.4,532.6 188.4,531.7 187.4,531.0 186.4,530.9 185.4,532.0 184.4,533.8 183.4,535.6 182.4,536.9 181.4,537.1 180.4,536.3 179.4,534.9 178.4,533.6 177.4,532.8 176.4,532.5 175.4,532.5 174.4,532.7 173.4,532.9 172.4,533.3 171.4,533.9 170.4,534.5 169.4,534.5 168.4,533.9 167.4,532.9 166.4,532.0 165.4,531.3 164.4,530.8 163.4,530.5 162.4,530.6 161.4,530.9 160.4,531.2 159.4,531.4 158.4,531.4 157.4,531.2 156.4,530.4 155.4,529.0 154.4,527.4 153.4,525.9 152.4,524.7 151.4,524.1 150.4,524.4 149.4,525.5 148.4,526.8 147.4,527.9 146.4,528.5 145.4,528.3 144.4,527.5 143.4,526.7 142.4,526.0 141.4,525.4 140.4,525.2 139.4,525.2 138.4,525.3 137.4,525.6 136.4,526.1 135.4,526.8 134.4,527.6 133.4,528.5 132.4,529.4 131.4,530.2 130.4,530.5 129.4,530.2 128.4,529.7 127.4,529.6 126.4,530.2 125.4,531.1 124.4,532.6 123.4,534.4 122.4,536.0 121.4,537.1 120.4,537.5 119.4,537.7 118.4,537.7 117.4,537.4 116.4,536.9 115.4,536.5 114.4,536.1 113.4,535.5 112.4,534.9 111.4,534.5 110.4,534.1 109.4,534.0 108.4,534.2 107.4,534.6 106.4,535.1 105.4,535.3 104.4,534.9 103.4,533.9 102.4,532.2 101.4,530.2 100.4,528.7 99.4,527.8 98.4,527.7 97.4,528.4 96.4,529.5 95.4,530.8 94.4,532.1 93.4,533.2 92.4,534.2 91.4,535.2 90.4,536.2 89.4,536.8 88.4,536.5 87.4,535.4 86.4,533.8 85.4,532.1 84.4,530.3 83.4,528.7 82.4,527.3 81.4,526.3 80.4,526.1 79.4,526.5 78.4,526.9 77.4,526.9 76.4,526.3 75.4,525.7 74.4,525.6 73.4,526.4 72.4,527.2 71.4,527.3 70.4,528.0 69.4,529.5 68.4,531.5 67.4,533.4 66.4,535.2 65.4,536.0 64.4,535.3 63.4,533.9 62.4,533.0 61.4,532.8 60.4,532.9 59.4,533.2 58.4,533.9 57.4,535.1 56.4,536.1Z" fill="#d9d9d9" stroke="none"/>
<path d="M56.4,580.7 57.4,581.5 58.4,582.7 59.4,584.8 60.4,587.5 61.4,590.4 62.4,592.4 63.4,592.9 64.4,592.0 65.4,590.1 66.4,587.7 67.4,585.2 68.4,582.9 69.4,581.2 70.4,579.8 71.4,576.8 72.4,573.4 73.4,571.5 74.4,570.9 75.4,571.3 76.4,572.8 77.4,575.2 78.4,578.1 79.4,581.0 80.4,582.6 81.4,581.6 82.4,578.9 83.4,576.6 84.4,575.2 85.4,574.5 86.4,574.4 87.4,574.6 88.4,574.7 89.4,574.5 90.4,574.2 91.4,574.4 92.4,574.9 93.4,575.7 94.4,576.3 95.4,576.9 96.4,577.4 97.4,577.7 98.4,577.8 99.4,577.5 100.4,577.0 101.4,576.7 102.4,576.7 103.4,577.1 104.4,577.7 105.4,578.4 106.4,579.2 107.4,579.8 108.4,580.2 109.4,580.4 110.4,580.6 111.4,580.9 112.4,581.2 113.4,581.6 114.4,582.2 115.4,583.1 116.4,584.1 117.4,585.1 118.4,585.8 119.4,586.1 120.4,585.8 121.4,585.0 122.4,583.9 123.4,582.8 124.4,582.0 125.4,581.5 126.4,581.2 127.4,581.1 128.4,581.1 129.4,581.1 130.4,581.0 131.4,580.8 132.4,580.3 133.4,579.6 134.4,578.6 135.4,577.5 136.4,576.3 137.4,575.1 138.4,573.9 139.4,572.8 140.4,572.7 141.4,573.8 142.4,575.8 143.4,577.7 144.4,579.4 145.4,580.8 146.4,581.4 147.4,580.8 148.4,579.6 149.4,578.5 150.4,578.1 151.4,578.3 152.4,578.9 153.4,579.9 154.4,581.3 155.4,582.8 156.4,584.1 157.4,584.9 158.4,585.5 159.4,585.7 160.4,585.8 161.4,586.0 162.4,586.5 163.4,587.0 164.4,587.3 165.4,587.3 166.4,586.9 167.4,586.2 168.4,585.4 169.4,584.7 170.4,584.2 171.4,583.8 172.4,583.4 173.4,583.2 174.4,583.1 175.4,583.1 176.4,583.1 177.4,583.2 178.4,583.1 179.4,582.7 180.4,582.0 181.4,581.4 182.4,581.2 183.4,581.7 184.4,582.5 185.4,583.3 186.4,583.8 187.4,584.1 188.4,584.5 189.4,585.0 190.4,585.8 191.4,586.7 192.4,587.5 193.4,587.9 194.4,587.8 195.4,587.1 196.4,585.9 197.4,583.9 198.4,581.3 199.4,579.1 200.4,578.2 201.4,578.9 202.4,580.9 203.4,583.4 204.4,584.4 205.4,583.0 206.4,580.3 207.4,576.8 208.4,574.4 209.4,575.3 210.4,577.7 211.4,578.8 212.4,579.0 213.4,579.0 214.4,579.1 215.4,579.3 216.4,579.4 217.4,579.3 218.4,578.9 219.4,578.5 220.4,579.1 221.4,580.8 222.4,582.7 223.4,583.8 224.4,584.3 225.4,584.3 226.4,584.0 227.4,583.4 228.4,582.7 229.4,582.4 230.4,582.7 231.4,583.2 232.4,583.8 233.4,584.2 234.4,584.5 235.4,584.7 236.4,584.7 237.4,584.6 238.4,584.2 239.4,583.5 240.4,582.5 241.4,580.8 242.4,578.8 243.4,577.8 244.4,579.4 245.4,582.4 246.4,584.5 247.4,585.2 248.4,584.5 249.4,582.6 250.4,579.7 251.4,576.5 252.4,573.9 253.4,572.9 254.4,573.7 255.4,575.2 256.4,576.8 257.4,578.5 258.4,580.1 259.4,581.5 260.4,582.8 261.4,583.8 262.4,584.2 263.4,584.1 264.4,583.5 265.4,583.0 266.4,582.9 267.4,583.1 268.4,583.2 269.4,582.6 270.4,582.0 271.4,582.5 272.4,583.9 273.4,585.2 274.4,586.3 275.4,587.2 276.4,587.8 277.4,587.7 278.4,587.0 279.4,585.9 280.4,584.6 281.4,583.3 282.4,582.2 283.4,581.1 284.4,580.5 285.4,580.5 286.4,580.6 287.4,580.3 288.4,579.3 289.4,578.4 290.4,578.3 291.4,579.2 292.4,580.6 293.4,582.4 294.4,584.5 295.4,586.3 296.4,587.1 297.4,587.0 298.4,586.1 299.4,584.8 300.4,583.7 301.4,583.3 302.4,583.2 303.4,583.4 304.4,583.6 305.4,583.9 306.4,584.1 307.4,584.4 308.4,584.8 309.4,585.5 310.4,586.2 311.4,586.5 312.4,586.1 313.4,585.2 314.4,584.5 315.4,584.3 316.4,584.4 317.4,584.9 318.4,586.1 319.4,588.0 320.4,590.0 321.4,591.5 322.4,592.4 323.4,592.7 324.4,592.6 325.4,592.1 326.4,591.3 327.4,590.2 328.4,589.1 329.4,588.1 330.4,586.9 331.4,585.6 332.4,584.3 333.4,583.1 334.4,582.3 335.4,582.0 336.4,582.1 337.4,582.9 338.4,583.3 339.4,582.2 340.4,580.8 341.4,579.9 342.4,579.4 343.4,579.3 344.4,580.0 345.4,581.6 346.4,583.8 347.4,585.4 348.4,585.4 349.4,584.1 350.4,581.7 351.4,578.1 352.4,574.9 353.4,574.0 354.4,575.0 355.4,577.4 356.4,580.3 357.4,582.7 358.4,584.0 359.4,584.1 360.4,583.6 361.4,582.9 362.4,582.3 363.4,582.0 364.4,582.0 365.4,582.3 366.4,582.9 367.4,583.6 368.4,584.1 369.4,584.4 370.4,584.7 371.4,585.3 372.4,586.3 373.4,587.3 374.4,587.8 375.4,587.5 376.4,586.6 377.4,585.4 378.4,584.2 379.4,583.0 380.4,581.9 381.4,580.7 382.4,580.1 383.4,580.5 384.4,582.0 385.4,583.9 386.4,585.6 387.4,586.8 388.4,587.2 389.4,587.0 390.4,586.5 391.4,585.9 392.4,585.2 393.4,584.3 394.4,583.6 395.4,583.4 396.4,583.7 397.4,584.3 398.4,585.0 399.4,585.9 400.4,586.8 401.4,587.0 402.4,586.5 403.4,585.9 404.4,585.5 405.4,585.2 406.4,584.5 407.4,583.5 408.4,583.2 409.4,584.3 410.4,585.8 411.4,586.6 411.9,586.7 L411.9,594.8 411.4,595.2 410.4,596.0 409.4,596.6 408.4,597.0 407.4,597.1 406.4,596.4 405.4,594.8 404.4,593.4 403.4,593.1 402.4,593.6 401.4,594.0 400.4,593.8 399.4,592.9 398.4,592.0 397.4,591.3 396.4,590.7 395.4,590.4 394.4,590.6 393.4,591.3 392.4,592.2 391.4,592.9 390.4,593.5 389.4,594.0 388.4,594.2 387.4,593.8 386.4,592.8 385.4,591.6 384.4,590.6 383.4,589.8 382.4,589.3 381.4,589.1 380.4,589.4 379.4,590.1 378.4,591.3 377.4,593.1 376.4,595.2 375.4,596.8 374.4,597.0 373.4,595.7 372.4,593.8 371.4,592.4 370.4,591.8 369.4,591.6 368.4,591.7 367.4,592.2 366.4,592.6 365.4,592.7 364.4,592.3 363.4,591.4 362.4,590.6 361.4,590.4 360.4,590.7 359.4,591.1 358.4,591.0 357.4,589.9 356.4,588.1 355.4,586.3 354.4,584.7 353.4,583.5 352.4,583.5 351.4,585.7 350.4,588.9 349.4,591.5 348.4,593.4 347.4,594.4 346.4,594.1 345.4,593.5 344.4,593.4 343.4,594.3 342.4,595.6 341.4,597.1 340.4,598.5 339.4,599.8 338.4,600.3 337.4,598.9 336.4,596.8 335.4,595.1 334.4,593.9 333.4,593.2 332.4,593.0 331.4,593.4 330.4,594.2 329.4,595.1 328.4,596.1 327.4,597.2 326.4,598.3 325.4,599.1 324.4,599.6 323.4,599.7 322.4,599.5 321.4,598.9 320.4,598.6 319.4,598.7 318.4,598.4 317.4,597.1 316.4,594.7 315.4,592.6 314.4,591.8 313.4,592.2 312.4,593.1 311.4,593.6 310.4,593.5 309.4,593.4 308.4,593.7 307.4,594.4 306.4,595.3 305.4,596.2 304.4,596.9 303.4,597.1 302.4,596.8 301.4,596.3 300.4,595.9 299.4,595.8 298.4,595.9 297.4,595.6 296.4,594.9 295.4,593.6 294.4,591.5 293.4,589.4 292.4,587.6 291.4,586.2 290.4,585.3 289.4,585.4 288.4,586.3 287.4,587.3 286.4,587.6 285.4,587.5 284.4,587.5 283.4,588.1 282.4,589.2 281.4,590.3 280.4,591.6 279.4,592.9 278.4,594.0 277.4,594.7 276.4,594.8 275.4,594.2 274.4,593.3 273.4,592.2 272.4,590.9 271.4,589.5 270.4,589.0 269.4,589.6 268.4,590.2 267.4,590.1 266.4,589.9 265.4,590.0 264.4,590.5 263.4,591.1 262.4,591.2 261.4,590.8 260.4,589.8 259.4,588.5 258.4,587.1 257.4,585.5 256.4,583.8 255.4,582.4 254.4,581.6 253.4,582.0 252.4,583.9 251.4,586.4 250.4,588.5 249.4,590.3 248.4,591.7 247.4,592.3 246.4,592.3 245.4,592.4 244.4,591.9 243.4,589.9 242.4,588.4 241.4,588.5 240.4,589.5 239.4,590.5 238.4,591.2 237.4,591.6 236.4,591.7 235.4,591.7 234.4,591.5 233.4,591.2 232.4,590.8 231.4,590.2 230.4,589.7 229.4,589.4 228.4,589.7 227.4,590.4 226.4,591.0 225.4,591.3 224.4,591.3 223.4,590.8 222.4,589.7 221.4,587.8 220.4,586.1 219.4,585.5 218.4,585.9 217.4,586.3 216.4,586.4 215.4,586.3 214.4,586.1 213.4,586.0 212.4,586.0 211.4,585.8 210.4,584.7 209.4,582.3 208.4,581.4 207.4,583.9 206.4,587.5 205.4,591.1 204.4,594.2 203.4,595.7 202.4,595.5 201.4,594.8 200.4,594.0 199.4,593.3 198.4,593.1 197.4,593.3 196.4,593.7 195.4,594.3 194.4,594.8 193.4,594.9 192.4,594.5 191.4,593.7 190.4,592.8 189.4,592.0 188.4,591.5 187.4,591.2 186.4,591.0 185.4,591.2 184.4,591.8 183.4,592.7 182.4,593.3 181.4,593.3 180.4,592.6 179.4,591.7 178.4,590.8 177.4,590.3 176.4,590.1 175.4,590.1 174.4,590.1 173.4,590.2 172.4,590.4 171.4,590.8 170.4,591.2 169.4,591.7 168.4,592.4 167.4,593.2 166.4,593.9 165.4,594.3 164.4,594.3 163.4,594.0 162.4,593.5 161.4,593.0 160.4,592.8 159.4,592.7 158.4,592.5 157.4,591.9 156.4,591.1 155.4,589.8 154.4,588.3 153.4,586.9 152.4,585.9 151.4,585.3 150.4,585.1 149.4,585.5 148.4,586.6 147.4,587.8 146.4,588.4 145.4,587.8 144.4,586.4 143.4,584.9 142.4,583.6 141.4,582.7 140.4,582.3 139.4,582.4 138.4,582.5 137.4,582.8 136.4,583.5 135.4,584.5 134.4,585.6 133.4,586.7 132.4,587.9 131.4,589.3 130.4,591.0 129.4,592.8 128.4,594.5 127.4,595.8 126.4,596.6 125.4,596.8 124.4,596.5 123.4,595.8 122.4,595.2 121.4,594.6 120.4,594.1 119.4,593.5 118.4,592.9 117.4,592.3 116.4,591.7 115.4,591.4 114.4,591.4 113.4,591.7 112.4,592.3 111.4,592.7 110.4,593.1 109.4,593.2 108.4,592.9 107.4,592.1 106.4,590.9 105.4,589.3 104.4,587.6 103.4,586.1 102.4,584.9 101.4,584.2 100.4,584.2 99.4,584.8 98.4,585.7 97.4,586.5 96.4,587.4 95.4,588.3 94.4,589.2 93.4,589.9 92.4,590.3 91.4,590.6 90.4,590.9 89.4,591.1 88.4,590.8 87.4,589.8 86.4,588.4 85.4,587.1 84.4,586.3 83.4,586.4 82.4,587.5 81.4,589.3 80.4,589.9 79.4,588.1 78.4,585.1 77.4,582.2 76.4,579.8 75.4,578.3 74.4,577.9 73.4,578.5 72.4,580.4 71.4,583.8 70.4,586.8 69.4,588.2 68.4,589.9 67.4,592.2 66.4,594.7 65.4,597.1 64.4,599.0 63.4,599.9 62.4,599.4 61.4,597.4 60.4,594.5 59.4,591.8 58.4,589.7 57.4,588.5 56.4,587.7Z" fill="#d9d9d9" stroke="none"/>
<path d="M56.4,31.4 57.4,31.5 58.4,31.6 59.4,31.8 60.4,31.9 61.4,31.9 62.4,31.8 63.4,31.6 64.4,31.6 65.4,32.0 66.4,32.9 67.4,33.7 68.4,34.1 69.4,33.1 70.4,29.5 71.4,25.1 72.4,23.1 73.4,22.4 74.4,21.8 75.4,21.0 76.4,19.9 77.4,17.9 78.4,15.3 79.4,13.9 80.4,14.9 81.4,18.0 82.4,22.2 83.4,25.9 84.4,28.1 85.4,29.1 86.4,29.3 87.4,29.4 88.4,29.6 89.4,30.0 90.4,30.8 91.4,32.0 92.4,33.2 93.4,34.0 94.4,33.8 95.4,32.4 96.4,29.9 97.4,26.5 98.4,23.4 99.4,21.3 100.4,21.2 101.4,22.6 102.4,24.8 103.4,26.8 104.4,28.0 105.4,28.6 106.4,28.8 107.4,28.7 108.4,28.4 109.4,27.9 110.4,27.2 111.4,26.5 112.4,25.9 113.4,25.9 114.4,26.5 115.4,27.2 116.4,27.8 117.4,29.2 118.4,31.2 119.4,32.9 120.4,34.0 121.4,34.3 122.4,33.3 123.4,31.2 124.4,28.8 125.4,26.5 126.4,25.0 127.4,24.2 128.4,23.8 129.4,23.8 130.4,24.2 131.4,25.1 132.4,26.4 133.4,28.0 134.4,28.9 135.4,28.7 136.4,27.7 137.4,27.4 138.4,27.9 139.4,28.6 140.4,29.2 141.4,29.7 142.4,30.1 143.4,30.5 144.4,30.7 145.4,30.8 146.4,30.8 147.4,30.7 148.4,30.5 149.4,30.2 150.4,29.7 151.4,29.1 152.4,28.2 153.4,27.1 154.4,26.1 155.4,25.1 156.4,24.6 157.4,25.0 158.4,26.4 159.4,28.2 160.4,30.1 161.4,31.7 162.4,32.5 163.4,32.4 164.4,31.4 165.4,29.8 166.4,27.7 167.4,25.9 168.4,24.6 169.4,23.7 170.4,23.1 171.4,23.0 172.4,23.4 173.4,24.2 174.4,25.1 175.4,26.2 176.4,27.4 177.4,28.9 178.4,30.6 179.4,32.0 180.4,32.8 181.4,32.9 182.4,32.3 183.4,31.4 184.4,31.2 185.4,32.0 186.4,33.0 187.4,33.1 188.4,32.4 189.4,31.4 190.4,30.4 191.4,29.4 192.4,28.5 193.4,28.0 194.4,28.3 195.4,29.3 196.4,30.7 197.4,32.1 198.4,33.3 199.4,34.3 200.4,34.9 201.4,35.1 202.4,34.5 203.4,33.1 204.4,30.6 205.4,27.9 206.4,26.7 207.4,27.5 208.4,29.0 209.4,30.0 210.4,30.5 211.4,30.4 212.4,29.8 213.4,29.1 214.4,28.7 215.4,28.4 216.4,27.9 217.4,26.9 218.4,25.5 219.4,23.7 220.4,22.7 221.4,24.1 222.4,26.8 223.4,29.4 224.4,30.8 225.4,31.0 226.4,30.7 227.4,30.2 228.4,29.6 229.4,29.0 230.4,28.5 231.4,28.1 232.4,28.2 233.4,29.0 234.4,30.5 235.4,32.3 236.4,33.5 237.4,33.9 238.4,33.9 239.4,33.6 240.4,33.3 241.4,33.1 242.4,33.3 243.4,33.8 244.4,34.4 245.4,34.6 246.4,34.4 247.4,33.7 248.4,32.5 249.4,31.0 250.4,29.6 251.4,28.4 252.4,27.6 253.4,27.2 254.4,27.5 255.4,28.1 256.4,29.1 257.4,30.4 258.4,31.4 259.4,31.9 260.4,31.7 261.4,31.1 262.4,30.6 263.4,30.2 264.4,29.8 265.4,29.9 266.4,30.5 267.4,31.4 268.4,32.0 269.4,32.0 270.4,31.4 271.4,30.2 272.4,28.7 273.4,27.3 274.4,26.5 275.4,26.8 276.4,27.8 277.4,28.9 278.4,29.9 279.4,30.2 280.4,29.5 281.4,28.3 282.4,27.1 283.4,26.2 284.4,25.8 285.4,26.2 286.4,27.2 287.4,28.3 288.4,29.5 289.4,30.5 290.4,31.4 291.4,31.8 292.4,32.0 293.4,31.8 294.4,31.3 295.4,30.7 296.4,30.3 297.4,30.4 298.4,31.0 299.4,31.9 300.4,32.9 301.4,33.8 302.4,33.9 303.4,33.1 304.4,31.5 305.4,29.5 306.4,27.5 307.4,26.9 308.4,28.2 309.4,30.0 310.4,31.5 311.4,32.5 312.4,32.7 313.4,32.0 314.4,30.7 315.4,28.9 316.4,27.0 317.4,26.1 318.4,26.8 319.4,28.3 320.4,29.5 321.4,30.3 322.4,30.6 323.4,30.6 324.4,30.5 325.4,30.2 326.4,30.0 327.4,29.8 328.4,29.6 329.4,29.3 330.4,28.9 331.4,28.3 332.4,27.7 333.4,27.3 334.4,27.0 335.4,27.1 336.4,27.6 337.4,28.1 338.4,28.8 339.4,29.4 340.4,29.9 341.4,30.2 342.4,30.4 343.4,30.4 344.4,30.5 345.4,30.5 346.4,30.6 347.4,30.7 348.4,30.7 349.4,30.6 350.4,30.4 351.4,30.2 352.4,30.0 353.4,29.8 354.4,29.8 355.4,30.0 356.4,30.4 357.4,30.8 358.4,31.1 359.4,31.3 360.4,31.3 361.4,30.8 362.4,30.2 363.4,29.9 364.4,29.9 365.4,30.2 366.4,30.6 367.4,30.9 368.4,30.9 369.4,30.8 370.4,30.5 371.4,30.1 372.4,29.9 373.4,29.8 374.4,29.9 375.4,30.2 376.4,30.8 377.4,31.8 378.4,32.8 379.4,33.6 380.4,34.0 381.4,33.8 382.4,33.0 383.4,31.7 384.4,30.1 385.4,28.1 386.4,26.2 387.4,24.5 388.4,23.7 389.4,24.0 390.4,25.2 391.4,26.8 392.4,28.5 393.4,29.6 394.4,29.8 395.4,29.2 396.4,28.1 397.4,26.7 398.4,25.1 399.4,23.7 400.4,23.1 401.4,23.5 402.4,24.4 403.4,25.5 404.4,26.3 405.4,27.1 406.4,27.5 407.4,27.4 408.4,26.8 409.4,25.9 410.4,25.0 411.4,24.0 412.4,23.2 413.4,23.0 414.4,23.5 415.4,24.4 416.4,25.5 417.4,26.7 418.4,27.8 419.4,28.7 420.4,29.0 421.4,28.6 422.4,27.7 423.4,26.8 424.4,26.4 425.4,26.9 426.4,28.2 427.4,30.0 428.4,31.6 429.4,33.0 430.4,34.2 431.4,34.9 432.4,34.7 433.4,33.8 434.4,32.5 435.4,31.2 436.4,29.8 437.4,28.6 438.4,27.6 439.4,27.2 440.4,27.5 441.4,28.0" fill="none" stroke="#efc687" stroke-width="1.05" stroke-linejoin="round" stroke-linecap="round"/>
<path d="M56.4,62.3 57.4,62.4 58.4,62.5 59.4,62.7 60.4,62.8 61.4,62.8 62.4,62.7 63.4,62.5 64.4,62.5 65.4,62.9 66.4,63.8 67.4,64.6 68.4,65.0 69.4,64.0 70.4,60.4 71.4,56.0 72.4,54.0 73.4,53.3 74.4,52.7 75.4,51.9 76.4,50.8 77.4,48.8 78.4,46.2 79.4,44.8 80.4,45.8 81.4,48.9 82.4,53.1 83.4,56.8 84.4,59.0 85.4,60.0 86.4,60.2 87.4,60.3 88.4,60.5 89.4,60.9 90.4,61.7 91.4,62.9 92.4,64.1 93.4,64.9 94.4,64.7 95.4,63.3 96.4,60.8 97.4,57.4 98.4,54.3 99.4,52.2 100.4,52.1 101.4,53.5 102.4,55.7 103.4,57.7 104.4,58.9 105.4,59.5 106.4,59.7 107.4,59.6 108.4,59.3 109.4,58.8 110.4,58.1 111.4,57.4 112.4,56.8 113.4,56.8 114.4,57.4 115.4,58.1 116.4,58.7 117.4,60.1 118.4,62.1 119.4,63.8 120.4,64.9 121.4,65.2 122.4,64.2 123.4,62.1 124.4,59.7 125.4,57.4 126.4,55.9 127.4,55.1 128.4,54.7 129.4,54.7 130.4,55.1 131.4,56.0 132.4,57.3 133.4,58.9 134.4,59.8 135.4,59.6 136.4,58.6 137.4,58.3 138.4,58.8 139.4,59.5 140.4,60.1 141.4,60.6 142.4,61.0 143.4,61.4 144.4,61.6 145.4,61.7 146.4,61.7 147.4,61.6 148.4,61.4 149.4,61.1 150.4,60.6 151.4,60.0 152.4,59.1 153.4,58.0 154.4,57.0 155.4,56.0 156.4,55.5 157.4,55.9 158.4,57.3 159.4,59.1 160.4,61.0 161.4,62.6 162.4,63.4 163.4,63.3 164.4,62.3 165.4,60.7 166.4,58.6 167.4,56.8 168.4,55.5 169.4,54.6 170.4,54.0 171.4,53.9 172.4,54.3 173.4,55.1 174.4,56.0 175.4,57.1 176.4,58.3 177.4,59.8 178.4,61.5 179.4,62.9 180.4,63.7 181.4,63.8 182.4,63.2 183.4,62.3 184.4,62.1 185.4,62.9 186.4,63.9 187.4,64.0 188.4,63.3 189.4,62.3 190.4,61.3 191.4,60.3 192.4,59.4 193.4,58.9 194.4,59.2 195.4,60.2 196.4,61.6 197.4,63.0 198.4,64.2 199.4,65.2 200.4,65.8 201.4,66.0 202.4,65.4 203.4,64.0 204.4,61.5 205.4,58.8 206.4,57.6 207.4,58.4 208.4,59.9 209.4,60.9 210.4,61.4 211.4,61.3 212.4,60.7 213.4,60.0 214.4,59.6 215.4,59.3 216.4,58.8 217.4,57.8 218.4,56.4 219.4,54.6 220.4,53.6 221.4,55.0 222.4,57.7 223.4,60.3 224.4,61.7 225.4,61.9 226.4,61.6 227.4,61.1 228.4,60.5 229.4,59.9 230.4,59.4 231.4,59.0 232.4,59.1 233.4,59.9 234.4,61.4 235.4,63.2 236.4,64.4 237.4,64.8 238.4,64.8 239.4,64.5 240.4,64.2 241.4,64.0 242.4,64.2 243.4,64.7 244.4,65.3 245.4,65.5 246.4,65.3 247.4,64.6 248.4,63.4 249.4,61.9 250.4,60.5 251.4,59.3 252.4,58.5 253.4,58.1 254.4,58.4 255.4,59.0 256.4,60.0 257.4,61.3 258.4,62.3 259.4,62.8 260.4,62.6 261.4,62.0 262.4,61.5 263.4,61.1 264.4,60.7 265.4,60.8 266.4,61.4 267.4,62.3 268.4,62.9 269.4,62.9 270.4,62.3 271.4,61.1 272.4,59.6 273.4,58.2 274.4,57.4 275.4,57.7 276.4,58.7 277.4,59.8 278.4,60.8 279.4,61.1 280.4,60.4 281.4,59.2 282.4,58.0 283.4,57.1 284.4,56.7 285.4,57.1 286.4,58.1 287.4,59.2 288.4,60.4 289.4,61.4 290.4,62.3 291.4,62.7 292.4,62.9 293.4,62.7 294.4,62.2 295.4,61.6 296.4,61.2 297.4,61.3 298.4,61.9 299.4,62.8 300.4,63.8 301.4,64.7 302.4,64.8 303.4,64.0 304.4,62.4 305.4,60.4 306.4,58.4 307.4,57.8 308.4,59.1 309.4,60.9 310.4,62.4 311.4,63.4 312.4,63.6 313.4,62.9 314.4,61.6 315.4,59.8 316.4,57.9 317.4,57.0 318.4,57.7 319.4,59.2 320.4,60.4 321.4,61.2 322.4,61.5 323.4,61.5 324.4,61.4 325.4,61.1 326.4,60.9 327.4,60.7 328.4,60.5 329.4,60.2 330.4,59.8 331.4,59.2 332.4,58.6 333.4,58.2 334.4,57.9 335.4,58.0 336.4,58.5 337.4,59.0 338.4,59.7 339.4,60.3 340.4,60.8 341.4,61.1 342.4,61.3 343.4,61.3 344.4,61.4 345.4,61.4 346.4,61.5 347.4,61.6 348.4,61.6 349.4,61.5 350.4,61.3 351.4,61.1 352.4,60.9 353.4,60.7 354.4,60.7 355.4,60.9 356.4,61.3 357.4,61.7 358.4,62.0 359.4,62.2 360.4,62.2 361.4,61.7 362.4,61.1 363.4,60.8 364.4,60.8 365.4,61.1 366.4,61.5 367.4,61.8 368.4,61.8 369.4,61.7 370.4,61.4 371.4,61.0 372.4,60.8 373.4,60.7 374.4,60.8 375.4,61.1 376.4,61.7 377.4,62.7 378.4,63.7 379.4,64.5 380.4,64.9 381.4,64.7 382.4,63.9 383.4,62.6 384.4,61.0 385.4,59.0 386.4,57.1 387.4,55.4 388.4,54.6 389.4,54.9 390.4,56.1 391.4,57.7 392.4,59.4 393.4,60.5 394.4,60.7 395.4,60.1 396.4,59.0 397.4,57.6 398.4,56.0 399.4,54.6 400.4,54.0 401.4,54.4 402.4,55.3 403.4,56.4 404.4,57.2 405.4,58.0 406.4,58.4 407.4,58.3 408.4,57.7 409.4,56.8 410.4,55.9 411.4,54.9 412.4,54.1 413.4,53.9 414.4,54.4 415.4,55.3 416.4,56.4 417.4,57.6 418.4,58.7 419.4,59.6 420.4,59.9 421.4,59.5 422.4,58.6 423.4,57.7 424.4,57.3 425.4,57.8 426.4,59.1 427.4,60.9 428.4,62.5 429.4,63.9 430.4,65.1 431.4,65.8 432.4,65.6 433.4,64.7 434.4,63.4 435.4,62.1 436.4,60.7 437.4,59.5 438.4,58.5 439.4,58.1 440.4,58.4 441.4,58.9" fill="none" stroke="#b066c4" stroke-width="1.05" stroke-linejoin="round" stroke-linecap="round"/>
<path d="M56.4,91.9 57.4,91.8 58.4,91.7 59.4,91.7 60.4,91.9 61.4,92.1 62.4,92.0 63.4,91.7 64.4,91.9 65.4,92.6 66.4,93.5 67.4,94.0 68.4,93.5 69.4,91.3 70.4,87.4 71.4,84.7 72.4,83.4 73.4,82.4 74.4,81.5 75.4,80.5 76.4,79.2 77.4,77.8 78.4,76.7 79.4,76.7 80.4,78.1 81.4,80.5 82.4,83.0 83.4,85.3 84.4,87.1 85.4,88.0 86.4,88.3 87.4,88.6 88.4,89.5 89.4,90.6 90.4,91.6 91.4,92.4 92.4,92.7 93.4,92.2 94.4,91.3 95.4,90.3 96.4,89.4 97.4,88.6 98.4,88.0 99.4,87.5 100.4,86.5 101.4,85.1 102.4,84.0 103.4,83.8 104.4,84.5 105.4,85.5 106.4,86.8 107.4,87.9 108.4,88.4 109.4,88.4 110.4,88.0 111.4,87.4 112.4,86.8 113.4,86.7 114.4,87.2 115.4,88.3 116.4,89.4 117.4,90.5 118.4,91.4 119.4,92.0 120.4,91.9 121.4,91.3 122.4,90.4 123.4,89.5 124.4,88.6 125.4,87.7 126.4,87.2 127.4,87.2 128.4,87.3 129.4,87.3 130.4,86.8 131.4,86.1 132.4,85.5 133.4,85.4 134.4,85.9 135.4,86.8 136.4,87.8 137.4,88.6 138.4,89.3 139.4,89.9 140.4,90.3 141.4,90.6 142.4,90.6 143.4,90.5 144.4,90.1 145.4,89.7 146.4,89.1 147.4,88.5 148.4,88.4 149.4,89.1 150.4,90.1 151.4,90.7 152.4,91.1 153.4,91.1 154.4,91.0 155.4,90.7 156.4,90.1 157.4,89.2 158.4,88.2 159.4,87.1 160.4,86.1 161.4,85.2 162.4,84.9 163.4,85.7 164.4,87.0 165.4,88.4 166.4,89.5 167.4,90.6 168.4,91.5 169.4,91.9 170.4,91.6 171.4,90.6 172.4,89.5 173.4,88.5 174.4,87.8 175.4,87.7 176.4,88.1 177.4,88.1 178.4,87.6 179.4,87.0 180.4,86.7 181.4,87.0 182.4,87.8 183.4,88.8 184.4,90.0 185.4,91.2 186.4,92.4 187.4,93.4 188.4,94.1 189.4,94.3 190.4,94.1 191.4,93.3 192.4,92.0 193.4,90.6 194.4,90.2 195.4,90.7 196.4,91.0 197.4,90.8 198.4,90.4 199.4,89.8 200.4,89.3 201.4,88.8 202.4,88.3 203.4,87.7 204.4,87.1 205.4,86.5 206.4,86.4 207.4,87.6 208.4,89.8 209.4,91.7 210.4,92.7 211.4,92.0 212.4,90.4 213.4,88.9 214.4,87.9 215.4,87.6 216.4,87.9 217.4,88.5 218.4,89.1 219.4,89.7 220.4,90.2 221.4,90.7 222.4,90.9 223.4,91.1 224.4,91.1 225.4,90.9 226.4,90.4 227.4,89.8 228.4,89.2 229.4,88.9 230.4,89.1 231.4,89.9 232.4,90.8 233.4,91.1 234.4,90.9 235.4,90.6 236.4,90.5 237.4,90.6 238.4,90.4 239.4,90.2 240.4,89.9 241.4,89.4 242.4,89.2 243.4,89.5 244.4,90.4 245.4,91.4 246.4,91.8 247.4,92.0 248.4,92.0 249.4,91.8 250.4,91.4 251.4,90.8 252.4,90.1 253.4,89.7 254.4,90.1 255.4,91.3 256.4,92.3 257.4,92.3 258.4,91.0 259.4,89.4 260.4,88.2 261.4,87.2 262.4,86.5 263.4,86.3 264.4,86.5 265.4,87.3 266.4,88.3 267.4,89.4 268.4,90.4 269.4,90.8 270.4,90.5 271.4,89.9 272.4,89.6 273.4,89.8 274.4,90.3 275.4,91.1 276.4,92.1 277.4,93.3 278.4,93.9 279.4,93.3 280.4,91.7 281.4,90.0 282.4,89.0 283.4,88.8 284.4,89.1 285.4,89.6 286.4,90.2 287.4,90.8 288.4,90.9 289.4,90.3 290.4,89.2 291.4,88.4 292.4,88.6 293.4,89.4 294.4,90.3 295.4,90.6 296.4,90.5 297.4,90.4 298.4,90.7 299.4,91.2 300.4,91.6 301.4,91.9 302.4,92.1 303.4,92.1 304.4,91.9 305.4,91.4 306.4,90.9 307.4,90.6 308.4,90.4 309.4,90.3 310.4,90.4 311.4,90.8 312.4,91.5 313.4,92.4 314.4,93.3 315.4,93.9 316.4,93.4 317.4,92.1 318.4,90.9 319.4,90.6 320.4,91.0 321.4,91.9 322.4,92.3 323.4,92.1 324.4,91.7 325.4,91.2 326.4,90.8 327.4,90.3 328.4,90.0 329.4,89.7 330.4,89.5 331.4,89.4 332.4,89.4 333.4,89.4 334.4,89.6 335.4,89.9 336.4,90.2 337.4,90.5 338.4,90.7 339.4,90.6 340.4,90.3 341.4,89.8 342.4,89.0 343.4,88.1 344.4,87.7 345.4,88.1 346.4,89.1 347.4,90.2 348.4,90.9 349.4,91.2 350.4,91.2 351.4,91.0 352.4,90.5 353.4,89.8 354.4,88.9 355.4,87.8 356.4,87.1 357.4,87.2 358.4,88.0 359.4,89.0 360.4,89.9 361.4,90.6 362.4,90.8 363.4,90.4 364.4,89.8 365.4,89.1 366.4,88.5 367.4,87.9 368.4,87.4 369.4,87.2 370.4,87.4 371.4,87.8 372.4,88.3 373.4,88.7 374.4,88.9 375.4,89.0 376.4,89.0 377.4,88.9 378.4,88.7 379.4,88.5 380.4,88.2 381.4,88.0 382.4,87.9 383.4,87.8 384.4,87.8 385.4,88.1 386.4,88.5 387.4,88.8 388.4,88.8 389.4,88.4 390.4,87.8 391.4,87.2 392.4,86.6 393.4,86.3 394.4,86.3 395.4,86.8 396.4,87.5 397.4,88.2 398.4,89.0 399.4,89.8 400.4,90.1 401.4,89.8 402.4,89.1 403.4,88.4 404.4,88.0 405.4,88.3 406.4,89.2 407.4,90.0 408.4,90.3 409.4,89.9 410.4,89.0 411.4,88.2 412.4,87.5 413.4,86.8 414.4,86.2 415.4,85.8 416.4,85.7 417.4,85.9 418.4,86.4 419.4,86.8 420.4,87.1 421.4,87.4 422.4,87.6 423.4,87.8 424.4,87.9 425.4,88.0 426.4,88.1 427.4,88.1 428.4,88.0 429.4,87.9 430.4,87.8 431.4,88.0 432.4,88.2 433.4,88.6 434.4,89.3 435.4,90.2 436.4,90.5 437.4,90.2 438.4,89.6 439.4,89.1 440.4,88.7 441.4,88.5" fill="none" stroke="#2a4a78" stroke-width="1.05" stroke-linejoin="round" stroke-linecap="round"/>
<path d="M56.4,148.3 57.4,149.5 58.4,151.0 59.4,152.2 60.4,153.1 61.4,153.6 62.4,153.9 63.4,153.9 64.4,153.7 65.4,153.2 66.4,152.9 67.4,152.8 68.4,153.0 69.4,153.4 70.4,154.0 71.4,154.6 72.4,155.2 73.4,155.7 74.4,155.7 75.4,155.4 76.4,154.8 77.4,154.1 78.4,153.6 79.4,153.2 80.4,152.7 81.4,151.4 82.4,149.2 83.4,146.7 84.4,144.9 85.4,143.6 86.4,141.9 87.4,139.9 88.4,137.9 89.4,136.7 90.4,137.7 91.4,141.4 92.4,146.0 93.4,149.3 94.4,150.5 95.4,150.8 96.4,151.2 97.4,152.0 98.4,152.9 99.4,153.8 100.4,154.8 101.4,155.7 102.4,156.1 103.4,155.7 104.4,154.1 105.4,151.5 106.4,148.1 107.4,145.5 108.4,145.2 109.4,146.6 110.4,148.0 111.4,149.2 112.4,150.2 113.4,150.8 114.4,150.8 115.4,150.0 116.4,148.9 117.4,148.1 118.4,148.0 119.4,148.8 120.4,150.3 121.4,152.0 122.4,153.8 123.4,155.5 124.4,156.6 125.4,156.6 126.4,155.3 127.4,152.6 128.4,149.2 129.4,147.2 130.4,146.9 131.4,147.5 132.4,148.4 133.4,149.4 134.4,150.1 135.4,150.2 136.4,149.8 137.4,149.4 138.4,149.8 139.4,150.9 140.4,151.9 141.4,152.4 142.4,152.6 143.4,152.7 144.4,152.7 145.4,152.6 146.4,152.4 147.4,152.1 148.4,151.4 149.4,150.1 150.4,148.6 151.4,148.0 152.4,148.9 153.4,150.8 154.4,152.8 155.4,154.2 156.4,154.3 157.4,153.1 158.4,151.5 159.4,149.9 160.4,148.3 161.4,146.9 162.4,145.7 163.4,145.4 164.4,146.2 165.4,147.9 166.4,150.2 167.4,152.6 168.4,154.3 169.4,155.2 170.4,155.3 171.4,154.8 172.4,154.1 173.4,153.9 174.4,154.4 175.4,155.0 176.4,155.1 177.4,154.4 178.4,153.2 179.4,152.1 180.4,151.4 181.4,151.7 182.4,152.7 183.4,153.9 184.4,155.0 185.4,155.9 186.4,156.3 187.4,155.8 188.4,154.3 189.4,151.6 190.4,149.3 191.4,149.4 192.4,150.6 193.4,151.4 194.4,151.4 195.4,151.0 196.4,150.5 197.4,149.9 198.4,149.2 199.4,148.4 200.4,147.5 201.4,146.2 202.4,145.9 203.4,147.2 204.4,149.1 205.4,150.7 206.4,151.7 207.4,151.8 208.4,151.4 209.4,150.8 210.4,150.6 211.4,150.9 212.4,151.8 213.4,153.4 214.4,154.9 215.4,155.5 216.4,155.3 217.4,155.0 218.4,155.0 219.4,155.5 220.4,156.1 221.4,156.3 222.4,155.8 223.4,154.4 224.4,152.7 225.4,151.3 226.4,151.0 227.4,152.0 228.4,153.6 229.4,154.5 230.4,154.4 231.4,153.7 232.4,153.3 233.4,153.3 234.4,153.5 235.4,153.8 236.4,153.9 237.4,153.8 238.4,153.1 239.4,151.8 240.4,150.2 241.4,148.7 242.4,148.9 243.4,150.5 244.4,151.6 245.4,151.0 246.4,149.6 247.4,148.5 248.4,148.4 249.4,149.5 250.4,151.0 251.4,152.2 252.4,153.2 253.4,154.1 254.4,154.5 255.4,154.3 256.4,153.3 257.4,152.2 258.4,151.9 259.4,152.5 260.4,153.4 261.4,153.7 262.4,153.3 263.4,152.6 264.4,152.2 265.4,152.1 266.4,152.4 267.4,153.2 268.4,154.6 269.4,155.5 270.4,155.1 271.4,153.5 272.4,151.3 273.4,149.5 274.4,148.7 275.4,149.2 276.4,150.2 277.4,151.1 278.4,151.4 279.4,151.6 280.4,151.6 281.4,151.6 282.4,151.5 283.4,151.3 284.4,151.0 285.4,150.6 286.4,149.9 287.4,149.5 288.4,149.7 289.4,150.5 290.4,151.3 291.4,151.8 292.4,152.1 293.4,152.3 294.4,152.4 295.4,152.3 296.4,152.1 297.4,151.9 298.4,151.7 299.4,151.7 300.4,151.9 301.4,152.3 302.4,152.8 303.4,153.0 304.4,152.7 305.4,152.0 306.4,151.4 307.4,151.3 308.4,151.6 309.4,152.1 310.4,152.5 311.4,152.5 312.4,152.3 313.4,152.7 314.4,154.1 315.4,155.3 316.4,155.0 317.4,153.5 318.4,151.7 319.4,150.0 320.4,148.5 321.4,148.0 322.4,148.8 323.4,150.1 324.4,150.6 325.4,150.3 326.4,149.5 327.4,148.3 328.4,146.9 329.4,145.8 330.4,145.7 331.4,146.9 332.4,148.2 333.4,148.8 334.4,148.3 335.4,147.2 336.4,146.5 337.4,146.3 338.4,146.4 339.4,146.8 340.4,147.4 341.4,148.5 342.4,149.8 343.4,150.7 344.4,150.8 345.4,150.2 346.4,149.8 347.4,150.3 348.4,151.8 349.4,153.4 350.4,154.8 351.4,156.0 352.4,156.6 353.4,156.4 354.4,155.2 355.4,153.5 356.4,151.7 357.4,150.7 358.4,150.6 359.4,150.9 360.4,151.2 361.4,151.5 362.4,151.7 363.4,151.9 364.4,152.0 365.4,151.9 366.4,151.7 367.4,151.3 368.4,150.8 369.4,150.2 370.4,149.8 371.4,149.3 372.4,148.9 373.4,148.6 374.4,148.5 375.4,148.7 376.4,149.4 377.4,150.0 378.4,150.3 379.4,150.1 380.4,149.7 381.4,149.5 382.4,150.0 383.4,151.2 384.4,152.8 385.4,154.2 386.4,155.6 387.4,156.7 388.4,157.2 389.4,157.2 390.4,156.8 391.4,156.4 392.4,155.9 393.4,155.3 394.4,154.7 395.4,154.0 396.4,153.1 397.4,151.9 398.4,150.7 399.4,150.1 400.4,150.5 401.4,151.4 402.4,152.3 403.4,152.2 404.4,151.2 405.4,150.6 406.4,151.1 407.4,152.3 408.4,153.4 409.4,153.6 410.4,152.5 411.4,150.7 412.4,148.7 413.4,146.6 414.4,145.5 415.4,146.0 416.4,147.8 417.4,149.9 418.4,151.6 419.4,152.7 420.4,153.5 421.4,153.8 422.4,153.5 423.4,152.7 424.4,151.7 425.4,150.5 426.4,149.4 427.4,149.1 428.4,150.0 429.4,151.6 430.4,153.0 431.4,153.4 432.4,152.9 433.4,151.9 434.4,150.8 435.4,150.1 436.4,149.9 437.4,150.2 438.4,150.4 439.4,150.3 440.4,150.0 440.9,150.0" fill="none" stroke="#da3a45" stroke-width="1.05" stroke-linejoin="round" stroke-linecap="round"/>
<path d="M56.4,219.7 57.4,220.3 58.4,221.1 59.4,222.0 60.4,222.8 61.4,223.0 62.4,222.0 63.4,219.9 64.4,217.5 65.4,215.2 66.4,213.1 67.4,212.2 68.4,213.0 69.4,215.3 70.4,217.7 71.4,220.1 72.4,221.5 73.4,221.3 74.4,219.6 75.4,216.4 76.4,212.3 77.4,209.7 78.4,210.7 79.4,213.4 80.4,215.5 81.4,217.1 82.4,218.2 83.4,218.5 84.4,217.9 85.4,216.8 86.4,216.1 87.4,216.8 88.4,218.3 89.4,219.3 90.4,219.8 91.4,219.7 92.4,218.9 93.4,217.3 94.4,214.6 95.4,211.3 96.4,208.8 97.4,207.7 98.4,208.1 99.4,209.4 100.4,210.7 101.4,211.9 102.4,212.9 103.4,213.4 104.4,213.3 105.4,213.0 106.4,213.2 107.4,214.5 108.4,216.6 109.4,218.7 110.4,220.6 111.4,222.2 112.4,223.4 113.4,223.5 114.4,221.9 115.4,219.4 116.4,216.7 117.4,214.4 118.4,212.6 119.4,211.5 120.4,210.8 121.4,210.5 122.4,210.8 123.4,212.1 124.4,214.0 125.4,215.9 126.4,217.3 127.4,217.8 128.4,217.4 129.4,217.1 130.4,217.5 131.4,218.3 132.4,218.6 133.4,218.4 134.4,218.0 135.4,217.6 136.4,217.1 137.4,216.6 138.4,216.2 139.4,215.7 140.4,215.2 141.4,215.0 142.4,215.7 143.4,217.4 144.4,219.1 145.4,220.7 146.4,221.8 147.4,222.0 148.4,220.7 149.4,218.4 150.4,215.8 151.4,213.0 152.4,210.7 153.4,209.6 154.4,210.5 155.4,212.7 156.4,215.5 157.4,218.4 158.4,220.9 159.4,221.8 160.4,220.7 161.4,218.3 162.4,215.4 163.4,212.5 164.4,211.0 165.4,211.6 166.4,213.5 167.4,216.1 168.4,218.9 169.4,221.5 170.4,223.4 171.4,223.8 172.4,222.8 173.4,221.4 174.4,220.3 175.4,219.6 176.4,219.7 177.4,220.5 178.4,221.7 179.4,222.8 180.4,223.8 181.4,224.0 182.4,222.0 183.4,218.3 184.4,214.7 185.4,212.5 186.4,212.4 187.4,213.5 188.4,214.7 189.4,215.1 190.4,214.2 191.4,212.8 192.4,211.7 193.4,211.3 194.4,212.3 195.4,214.4 196.4,216.7 197.4,218.5 198.4,220.0 199.4,220.9 200.4,221.0 201.4,220.5 202.4,219.6 203.4,218.7 204.4,217.6 205.4,216.5 206.4,215.5 207.4,215.0 208.4,215.4 209.4,216.8 210.4,218.9 211.4,220.9 212.4,221.2 213.4,220.1 214.4,218.5 215.4,217.1 216.4,216.6 217.4,217.5 218.4,219.4 219.4,221.7 220.4,223.0 221.4,221.9 222.4,218.8 223.4,215.3 224.4,212.3 225.4,210.1 226.4,209.4 227.4,210.5 228.4,212.7 229.4,215.6 230.4,217.9 231.4,219.2 232.4,219.7 233.4,219.6 234.4,219.2 235.4,219.6 236.4,220.9 237.4,222.1 238.4,222.9 239.4,222.4 240.4,220.5 241.4,218.2 242.4,216.2 243.4,214.7 244.4,213.5 245.4,213.0 246.4,213.3 247.4,214.3 248.4,215.8 249.4,217.2 250.4,217.8 251.4,217.7 252.4,217.3 253.4,217.2 254.4,217.6 255.4,218.2 256.4,218.6 257.4,218.5 258.4,218.2 259.4,217.4 260.4,215.9 261.4,214.0 262.4,212.4 263.4,211.5 264.4,211.4 265.4,212.4 266.4,213.9 267.4,215.3 268.4,216.6 269.4,217.6 270.4,217.7 271.4,217.1 272.4,216.1 273.4,214.9 274.4,214.0 275.4,214.3 276.4,215.8 277.4,217.8 278.4,219.7 279.4,221.7 280.4,223.3 281.4,223.9 282.4,222.7 283.4,220.2 284.4,217.6 285.4,215.4 286.4,214.2 287.4,214.8 288.4,216.3 289.4,217.4 290.4,217.5 291.4,217.0 292.4,216.2 293.4,215.1 294.4,214.0 295.4,213.3 296.4,213.4 297.4,214.4 298.4,215.4 299.4,215.9 300.4,215.1 301.4,213.4 302.4,211.5 303.4,209.8 304.4,208.2 305.4,207.1 306.4,206.9 307.4,207.6 308.4,209.0 309.4,210.3 310.4,211.3 311.4,212.1 312.4,212.7 313.4,213.3 314.4,213.8 315.4,214.6 316.4,215.8 317.4,217.0 318.4,217.8 319.4,218.2 320.4,218.1 321.4,217.4 322.4,216.5 323.4,215.6 324.4,214.8 325.4,214.5 326.4,214.9 327.4,215.6 328.4,215.8 329.4,215.5 330.4,215.5 331.4,216.5 332.4,218.2 333.4,220.2 334.4,222.3 335.4,223.7 336.4,223.1 337.4,220.8 338.4,217.9 339.4,215.0 340.4,212.5 341.4,211.4 342.4,211.9 343.4,213.2 344.4,214.5 345.4,215.6 346.4,216.6 347.4,217.1 348.4,216.8 349.4,215.6 350.4,213.9 351.4,212.0 352.4,210.5 353.4,210.2 354.4,211.2 355.4,213.0 356.4,215.0 357.4,217.3 358.4,219.7 359.4,221.1 360.4,220.6 361.4,218.1 362.4,215.4 363.4,212.9 364.4,210.8 365.4,209.6 366.4,209.9 367.4,211.5 368.4,213.7 369.4,216.1 370.4,217.4 371.4,217.0 372.4,215.5 373.4,213.9 374.4,212.4 375.4,211.5 376.4,211.9 377.4,213.3 378.4,214.6 379.4,215.1 380.4,215.3 381.4,215.6 382.4,216.1 383.4,216.9 384.4,217.8 385.4,218.6 386.4,219.4 387.4,219.8 388.4,219.5 389.4,218.4 390.4,217.0 391.4,215.8 392.4,214.8 393.4,213.9 394.4,213.2 395.4,213.0 396.4,213.3 397.4,213.9 398.4,214.5 399.4,215.1 400.4,215.7 401.4,216.2 402.4,216.7 403.4,217.0 404.4,217.3 405.4,217.4 406.4,217.3 407.4,216.8 408.4,216.1 409.4,215.8 410.4,216.3 411.4,217.6 412.4,219.0 413.4,220.6 414.4,222.1 415.4,223.5 416.4,224.6 417.4,225.2 418.4,225.0 419.4,224.1 420.4,222.9 421.4,221.7 422.4,220.5 423.4,219.8 424.4,219.4 425.4,219.1 426.4,218.8 427.4,218.2 428.4,216.7 429.4,214.1 430.4,211.3 431.4,208.9 432.4,207.9 433.4,208.9 434.4,211.3 435.4,213.7 436.4,215.8 437.4,217.8 438.4,219.4 439.4,220.2 440.4,219.9 441.4,219.2" fill="none" stroke="#efc687" stroke-width="1.05" stroke-linejoin="round" stroke-linecap="round"/>
<path d="M56.4,250.0 57.4,250.6 58.4,251.4 59.4,252.3 60.4,253.1 61.4,253.3 62.4,252.3 63.4,250.2 64.4,247.8 65.4,245.5 66.4,243.4 67.4,242.5 68.4,243.3 69.4,245.6 70.4,248.0 71.4,250.4 72.4,251.8 73.4,251.6 74.4,249.9 75.4,246.7 76.4,242.6 77.4,240.0 78.4,241.0 79.4,243.7 80.4,245.8 81.4,247.4 82.4,248.5 83.4,248.8 84.4,248.2 85.4,247.1 86.4,246.4 87.4,247.1 88.4,248.6 89.4,249.6 90.4,250.1 91.4,250.0 92.4,249.2 93.4,247.6 94.4,244.9 95.4,241.6 96.4,239.1 97.4,238.0 98.4,238.4 99.4,239.7 100.4,241.0 101.4,242.2 102.4,243.2 103.4,243.7 104.4,243.6 105.4,243.3 106.4,243.5 107.4,244.8 108.4,246.9 109.4,249.0 110.4,250.9 111.4,252.5 112.4,253.7 113.4,253.8 114.4,252.2 115.4,249.7 116.4,247.0 117.4,244.7 118.4,242.9 119.4,241.8 120.4,241.1 121.4,240.8 122.4,241.1 123.4,242.4 124.4,244.3 125.4,246.2 126.4,247.6 127.4,248.1 128.4,247.7 129.4,247.4 130.4,247.8 131.4,248.6 132.4,248.9 133.4,248.7 134.4,248.3 135.4,247.9 136.4,247.4 137.4,246.9 138.4,246.5 139.4,246.0 140.4,245.5 141.4,245.3 142.4,246.0 143.4,247.7 144.4,249.4 145.4,251.0 146.4,252.1 147.4,252.3 148.4,251.0 149.4,248.7 150.4,246.1 151.4,243.3 152.4,241.0 153.4,239.9 154.4,240.8 155.4,243.0 156.4,245.8 157.4,248.7 158.4,251.2 159.4,252.1 160.4,251.0 161.4,248.6 162.4,245.7 163.4,242.8 164.4,241.3 165.4,241.9 166.4,243.8 167.4,246.4 168.4,249.2 169.4,251.8 170.4,253.7 171.4,254.1 172.4,253.1 173.4,251.7 174.4,250.6 175.4,249.9 176.4,250.0 177.4,250.8 178.4,252.0 179.4,253.1 180.4,254.1 181.4,254.3 182.4,252.3 183.4,248.6 184.4,245.0 185.4,242.8 186.4,242.7 187.4,243.8 188.4,245.0 189.4,245.4 190.4,244.5 191.4,243.1 192.4,242.0 193.4,241.6 194.4,242.6 195.4,244.7 196.4,247.0 197.4,248.8 198.4,250.3 199.4,251.2 200.4,251.3 201.4,250.8 202.4,249.9 203.4,249.0 204.4,247.9 205.4,246.8 206.4,245.8 207.4,245.3 208.4,245.7 209.4,247.1 210.4,249.2 211.4,251.2 212.4,251.5 213.4,250.4 214.4,248.8 215.4,247.4 216.4,246.9 217.4,247.8 218.4,249.7 219.4,252.0 220.4,253.3 221.4,252.2 222.4,249.1 223.4,245.6 224.4,242.6 225.4,240.4 226.4,239.7 227.4,240.8 228.4,243.0 229.4,245.9 230.4,248.2 231.4,249.5 232.4,250.0 233.4,249.9 234.4,249.5 235.4,249.9 236.4,251.2 237.4,252.4 238.4,253.2 239.4,252.7 240.4,250.8 241.4,248.5 242.4,246.5 243.4,245.0 244.4,243.8 245.4,243.3 246.4,243.6 247.4,244.6 248.4,246.1 249.4,247.5 250.4,248.1 251.4,248.0 252.4,247.6 253.4,247.5 254.4,247.9 255.4,248.5 256.4,248.9 257.4,248.8 258.4,248.5 259.4,247.7 260.4,246.2 261.4,244.3 262.4,242.7 263.4,241.8 264.4,241.7 265.4,242.7 266.4,244.2 267.4,245.6 268.4,246.9 269.4,247.9 270.4,248.0 271.4,247.4 272.4,246.4 273.4,245.2 274.4,244.3 275.4,244.6 276.4,246.1 277.4,248.1 278.4,250.0 279.4,252.0 280.4,253.6 281.4,254.2 282.4,253.0 283.4,250.5 284.4,247.9 285.4,245.7 286.4,244.5 287.4,245.1 288.4,246.6 289.4,247.7 290.4,247.8 291.4,247.3 292.4,246.5 293.4,245.4 294.4,244.3 295.4,243.6 296.4,243.7 297.4,244.7 298.4,245.7 299.4,246.2 300.4,245.4 301.4,243.7 302.4,241.8 303.4,240.1 304.4,238.5 305.4,237.4 306.4,237.2 307.4,237.9 308.4,239.3 309.4,240.6 310.4,241.6 311.4,242.4 312.4,243.0 313.4,243.6 314.4,244.1 315.4,244.9 316.4,246.1 317.4,247.3 318.4,248.1 319.4,248.5 320.4,248.4 321.4,247.7 322.4,246.8 323.4,245.9 324.4,245.1 325.4,244.8 326.4,245.2 327.4,245.9 328.4,246.1 329.4,245.8 330.4,245.8 331.4,246.8 332.4,248.5 333.4,250.5 334.4,252.6 335.4,254.0 336.4,253.4 337.4,251.1 338.4,248.2 339.4,245.3 340.4,242.8 341.4,241.7 342.4,242.2 343.4,243.5 344.4,244.8 345.4,245.9 346.4,246.9 347.4,247.4 348.4,247.1 349.4,245.9 350.4,244.2 351.4,242.3 352.4,240.8 353.4,240.5 354.4,241.5 355.4,243.3 356.4,245.3 357.4,247.6 358.4,250.0 359.4,251.4 360.4,250.9 361.4,248.4 362.4,245.7 363.4,243.2 364.4,241.1 365.4,239.9 366.4,240.2 367.4,241.8 368.4,244.0 369.4,246.4 370.4,247.7 371.4,247.3 372.4,245.8 373.4,244.2 374.4,242.7 375.4,241.8 376.4,242.2 377.4,243.6 378.4,244.9 379.4,245.4 380.4,245.6 381.4,245.9 382.4,246.4 383.4,247.2 384.4,248.1 385.4,248.9 386.4,249.7 387.4,250.1 388.4,249.8 389.4,248.7 390.4,247.3 391.4,246.1 392.4,245.1 393.4,244.2 394.4,243.5 395.4,243.3 396.4,243.6 397.4,244.2 398.4,244.8 399.4,245.4 400.4,246.0 401.4,246.5 402.4,247.0 403.4,247.3 404.4,247.6 405.4,247.7 406.4,247.6 407.4,247.1 408.4,246.4 409.4,246.1 410.4,246.6 411.4,247.9 412.4,249.3 413.4,250.9 414.4,252.4 415.4,253.8 416.4,254.9 417.4,255.5 418.4,255.3 419.4,254.4 420.4,253.2 421.4,252.0 422.4,250.8 423.4,250.1 424.4,249.7 425.4,249.4 426.4,249.1 427.4,248.5 428.4,247.0 429.4,244.4 430.4,241.6 431.4,239.2 432.4,238.2 433.4,239.2 434.4,241.6 435.4,244.0 436.4,246.1 437.4,248.1 438.4,249.7 439.4,250.5 440.4,250.2 441.4,249.5" fill="none" stroke="#b066c4" stroke-width="1.05" stroke-linejoin="round" stroke-linecap="round"/>
<path d="M56.4,281.4 57.4,281.6 58.4,282.1 59.4,283.0 60.4,283.8 61.4,283.4 62.4,282.1 63.4,280.3 64.4,278.5 65.4,276.7 66.4,275.3 67.4,274.7 68.4,275.6 69.4,277.5 70.4,279.8 71.4,282.0 72.4,283.5 73.4,283.1 74.4,281.1 75.4,278.0 76.4,274.4 77.4,272.3 78.4,273.3 79.4,275.6 80.4,277.4 81.4,278.8 82.4,279.6 83.4,279.8 84.4,279.3 85.4,278.7 86.4,278.4 87.4,278.9 88.4,280.1 89.4,281.4 90.4,282.1 91.4,282.0 92.4,281.1 93.4,279.3 94.4,276.9 95.4,274.2 96.4,271.7 97.4,270.0 98.4,269.9 99.4,271.0 100.4,272.5 101.4,273.7 102.4,274.6 103.4,275.3 104.4,275.5 105.4,275.2 106.4,275.0 107.4,275.5 108.4,276.9 109.4,278.8 110.4,280.7 111.4,282.4 112.4,283.5 113.4,283.9 114.4,283.4 115.4,282.1 116.4,280.3 117.4,278.5 118.4,276.7 119.4,275.3 120.4,274.7 121.4,274.8 122.4,275.3 123.4,275.8 124.4,276.2 125.4,276.8 126.4,277.4 127.4,278.1 128.4,278.6 129.4,278.7 130.4,278.6 131.4,278.7 132.4,279.3 133.4,280.1 134.4,280.5 135.4,280.3 136.4,279.7 137.4,279.0 138.4,278.5 139.4,278.1 140.4,277.8 141.4,277.5 142.4,277.4 143.4,277.7 144.4,278.8 145.4,280.2 146.4,281.7 147.4,283.0 148.4,283.6 149.4,282.9 150.4,281.3 151.4,279.0 152.4,276.2 153.4,273.9 154.4,273.8 155.4,275.9 156.4,278.1 157.4,279.3 158.4,280.0 159.4,280.8 160.4,281.7 161.4,282.3 162.4,281.5 163.4,279.0 164.4,276.3 165.4,274.3 166.4,274.3 167.4,276.0 168.4,278.2 169.4,280.6 170.4,282.6 171.4,284.1 172.4,285.0 173.4,284.9 174.4,283.9 175.4,282.7 176.4,281.8 177.4,281.3 178.4,281.3 179.4,281.6 180.4,282.2 181.4,283.3 182.4,284.8 183.4,285.5 184.4,283.7 185.4,280.3 186.4,277.1 187.4,274.7 188.4,274.0 189.4,274.9 190.4,276.3 191.4,276.8 192.4,276.3 193.4,275.1 194.4,273.8 195.4,273.0 196.4,273.4 197.4,275.3 198.4,277.7 199.4,280.0 200.4,282.0 201.4,283.2 202.4,283.4 203.4,282.9 204.4,282.1 205.4,281.1 206.4,279.9 207.4,278.6 208.4,277.5 209.4,277.1 210.4,277.8 211.4,279.4 212.4,281.2 213.4,282.9 214.4,283.5 215.4,282.6 216.4,281.1 217.4,279.6 218.4,278.7 219.4,279.0 220.4,280.3 221.4,282.3 222.4,283.7 223.4,283.1 224.4,280.3 225.4,277.0 226.4,274.1 227.4,272.0 228.4,271.4 229.4,272.2 230.4,273.9 231.4,276.1 232.4,278.4 233.4,280.2 234.4,281.3 235.4,281.9 236.4,282.0 237.4,282.3 238.4,283.2 239.4,284.0 240.4,284.2 241.4,283.4 242.4,281.9 243.4,280.3 244.4,278.8 245.4,277.4 246.4,276.4 247.4,275.9 248.4,276.0 249.4,276.5 250.4,277.0 251.4,277.7 252.4,278.3 253.4,278.9 254.4,279.3 255.4,279.7 256.4,280.0 257.4,280.4 258.4,280.7 259.4,280.6 260.4,279.9 261.4,278.7 262.4,277.3 263.4,275.9 264.4,274.5 265.4,273.3 266.4,272.7 267.4,273.1 268.4,274.2 269.4,275.8 270.4,277.7 271.4,279.3 272.4,279.7 273.4,279.1 274.4,278.0 275.4,276.9 276.4,276.0 277.4,276.0 278.4,276.8 279.4,278.2 280.4,279.8 281.4,281.5 282.4,283.4 283.4,285.1 284.4,285.5 285.4,283.9 286.4,281.6 287.4,279.3 288.4,277.5 289.4,276.6 290.4,277.2 291.4,278.4 292.4,279.2 293.4,279.0 294.4,278.4 295.4,277.8 296.4,277.2 297.4,276.4 298.4,275.7 299.4,275.7 300.4,276.5 301.4,277.1 302.4,276.7 303.4,275.3 304.4,273.8 305.4,272.4 306.4,271.2 307.4,270.2 308.4,269.6 309.4,269.7 310.4,270.2 311.4,270.9 312.4,271.6 313.4,272.4 314.4,273.4 315.4,274.6 316.4,275.9 317.4,277.1 318.4,278.1 319.4,278.8 320.4,279.2 321.4,279.3 322.4,279.0 323.4,278.5 324.4,277.8 325.4,277.0 326.4,276.5 327.4,276.8 328.4,277.5 329.4,277.9 330.4,277.7 331.4,277.3 332.4,277.4 333.4,278.2 334.4,279.5 335.4,281.0 336.4,282.5 337.4,283.9 338.4,284.8 339.4,284.8 340.4,284.0 341.4,282.3 342.4,279.9 343.4,277.2 344.4,274.7 345.4,273.2 346.4,273.2 347.4,274.3 348.4,275.7 349.4,277.3 350.4,278.7 351.4,279.2 352.4,278.7 353.4,277.7 354.4,276.1 355.4,274.0 356.4,272.4 357.4,272.4 358.4,273.9 359.4,276.0 360.4,278.4 361.4,281.1 362.4,283.1 363.4,283.4 364.4,281.9 365.4,279.5 366.4,277.1 367.4,274.8 368.4,272.7 369.4,271.4 370.4,271.8 371.4,273.7 372.4,276.1 373.4,278.4 374.4,279.4 375.4,278.8 376.4,277.6 377.4,276.3 378.4,275.1 379.4,274.1 380.4,273.9 381.4,274.6 382.4,275.8 383.4,276.5 384.4,276.5 385.4,276.0 386.4,275.8 387.4,276.4 388.4,277.6 389.4,278.9 390.4,280.1 391.4,281.3 392.4,282.0 393.4,281.9 394.4,281.1 395.4,279.9 396.4,278.7 397.4,277.6 398.4,276.5 399.4,275.6 400.4,274.8 401.4,274.4 402.4,274.7 403.4,275.4 404.4,276.2 405.4,276.9 406.4,277.6 407.4,278.2 408.4,278.7 409.4,278.9 410.4,278.9 411.4,278.8 412.4,278.8 413.4,278.7 414.4,278.7 415.4,278.8 416.4,279.1 417.4,279.9 418.4,281.0 419.4,282.3 420.4,283.7 421.4,285.0 422.4,286.0 423.4,286.4 424.4,285.8 425.4,284.7 426.4,283.6 427.4,282.8 428.4,282.2 429.4,281.8 430.4,281.6 431.4,281.2 432.4,280.6 433.4,279.6 434.4,278.3 435.4,276.6 436.4,274.4 437.4,272.1 438.4,270.6 439.4,270.6 440.4,271.5 441.4,272.3" fill="none" stroke="#5fae9c" stroke-width="1.05" stroke-linejoin="round" stroke-linecap="round"/>
<path d="M56.4,309.3 57.4,309.4 58.4,309.6 59.4,309.8 60.4,310.2 61.4,310.5 62.4,310.2 63.4,309.0 64.4,307.2 65.4,305.4 66.4,303.7 67.4,303.3 68.4,304.5 69.4,306.6 70.4,308.2 71.4,308.4 72.4,307.4 73.4,305.8 74.4,304.0 75.4,302.7 76.4,302.9 77.4,304.4 78.4,305.9 79.4,306.3 80.4,305.7 81.4,304.7 82.4,304.4 83.4,305.1 84.4,306.3 85.4,307.6 86.4,308.7 87.4,309.6 88.4,309.8 89.4,308.6 90.4,306.5 91.4,304.8 92.4,304.1 93.4,304.0 94.4,303.9 95.4,303.5 96.4,303.1 97.4,303.0 98.4,303.2 99.4,303.1 100.4,302.5 101.4,301.6 102.4,300.9 103.4,300.9 104.4,301.9 105.4,303.6 106.4,305.4 107.4,306.9 108.4,308.3 109.4,309.2 110.4,309.2 111.4,308.0 112.4,306.2 113.4,304.7 114.4,303.7 115.4,303.0 116.4,302.6 117.4,302.5 118.4,303.0 119.4,304.3 120.4,305.9 121.4,307.3 122.4,308.3 123.4,308.9 124.4,309.0 125.4,308.7 126.4,307.8 127.4,306.5 128.4,305.2 129.4,304.0 130.4,303.4 131.4,303.8 132.4,304.8 133.4,305.6 134.4,306.0 135.4,305.8 136.4,305.3 137.4,305.4 138.4,306.3 139.4,307.4 140.4,308.3 141.4,309.1 142.4,309.3 143.4,308.6 144.4,307.5 145.4,306.3 146.4,305.3 147.4,304.8 148.4,305.1 149.4,305.9 150.4,306.9 151.4,308.0 152.4,309.1 153.4,309.8 154.4,309.4 155.4,308.0 156.4,306.0 157.4,303.7 158.4,301.6 159.4,301.2 160.4,303.0 161.4,305.5 162.4,307.8 163.4,309.4 164.4,309.5 165.4,308.4 166.4,306.8 167.4,305.4 168.4,304.3 169.4,304.0 170.4,304.8 171.4,306.3 172.4,308.0 173.4,309.8 174.4,311.5 175.4,312.8 176.4,313.1 177.4,312.5 178.4,311.3 179.4,310.2 180.4,309.1 181.4,308.5 182.4,308.6 183.4,309.3 184.4,309.8 185.4,309.3 186.4,307.7 187.4,305.6 188.4,303.6 189.4,302.0 190.4,301.6 191.4,302.4 192.4,303.6 193.4,304.3 194.4,304.4 195.4,304.2 196.4,304.1 197.4,304.3 198.4,304.7 199.4,305.3 200.4,306.0 201.4,306.6 202.4,307.3 203.4,308.0 204.4,308.6 205.4,309.3 206.4,309.9 207.4,310.1 208.4,309.6 209.4,308.6 210.4,307.4 211.4,306.2 212.4,305.6 213.4,305.9 214.4,306.8 215.4,307.9 216.4,308.9 217.4,309.5 218.4,309.4 219.4,308.5 220.4,307.3 221.4,306.5 222.4,306.3 223.4,306.5 224.4,306.5 225.4,305.9 226.4,304.8 227.4,303.7 228.4,302.8 229.4,302.4 230.4,303.1 231.4,304.7 232.4,306.5 233.4,308.0 234.4,309.2 235.4,310.2 236.4,310.6 237.4,310.5 238.4,310.0 239.4,309.7 240.4,309.5 241.4,309.4 242.4,309.1 243.4,308.7 244.4,308.2 245.4,307.6 246.4,307.0 247.4,306.2 248.4,305.6 249.4,305.1 250.4,304.8 251.4,304.7 252.4,304.8 253.4,305.3 254.4,305.9 255.4,306.4 256.4,307.0 257.4,307.4 258.4,307.5 259.4,307.3 260.4,306.9 261.4,306.3 262.4,305.7 263.4,304.9 264.4,304.1 265.4,303.2 266.4,302.7 267.4,302.8 268.4,303.7 269.4,304.7 270.4,305.4 271.4,305.3 272.4,304.8 273.4,304.2 274.4,303.9 275.4,304.2 276.4,305.0 277.4,306.1 278.4,307.2 279.4,308.2 280.4,309.0 281.4,309.6 282.4,310.0 283.4,309.8 284.4,309.0 285.4,308.0 286.4,306.7 287.4,306.3 288.4,307.7 289.4,307.9 290.4,307.0 291.4,306.0 292.4,305.3 293.4,304.8 294.4,304.4 295.4,304.3 296.4,304.4 297.4,304.8 298.4,305.5 299.4,306.0 300.4,305.8 301.4,304.9 302.4,303.8 303.4,302.7 304.4,301.8 305.4,301.0 306.4,300.6 307.4,300.8 308.4,301.2 309.4,301.4 310.4,301.3 311.4,300.9 312.4,300.6 313.4,300.2 314.4,299.9 315.4,300.3 316.4,301.2 317.4,302.2 318.4,303.0 319.4,303.4 320.4,303.6 321.4,303.7 322.4,304.0 323.4,304.3 324.4,304.7 325.4,305.0 326.4,305.2 327.4,305.3 328.4,305.4 329.4,305.5 330.4,305.5 331.4,305.7 332.4,306.0 333.4,306.5 334.4,307.1 335.4,307.7 336.4,308.2 337.4,308.6 338.4,308.8 339.4,308.8 340.4,308.6 341.4,308.0 342.4,307.2 343.4,306.9 344.4,307.1 345.4,307.7 346.4,308.0 347.4,307.7 348.4,306.9 349.4,305.8 350.4,304.5 351.4,303.4 352.4,302.7 353.4,302.2 354.4,302.1 355.4,302.2 356.4,302.7 357.4,303.7 358.4,304.8 359.4,305.9 360.4,306.8 361.4,307.7 362.4,308.5 363.4,309.0 364.4,308.7 365.4,307.5 366.4,305.7 367.4,304.2 368.4,302.8 369.4,301.7 370.4,301.0 371.4,301.0 372.4,301.7 373.4,302.8 374.4,304.4 375.4,305.7 376.4,305.9 377.4,305.2 378.4,304.1 379.4,303.1 380.4,302.6 381.4,302.8 382.4,303.4 383.4,303.9 384.4,303.8 385.4,303.5 386.4,303.6 387.4,304.2 388.4,305.0 389.4,305.8 390.4,306.7 391.4,307.5 392.4,308.2 393.4,308.4 394.4,308.1 395.4,307.6 396.4,307.0 397.4,306.6 398.4,306.1 399.4,305.6 400.4,304.9 401.4,304.1 402.4,303.6 403.4,303.5 404.4,303.9 405.4,304.5 406.4,305.1 407.4,305.7 408.4,306.1 409.4,306.5 410.4,306.8 411.4,307.1 412.4,307.2 413.4,307.0 414.4,306.6 415.4,306.1 416.4,305.7 417.4,306.0 418.4,307.0 419.4,308.4 420.4,309.7 421.4,310.8 422.4,311.9 423.4,312.9 424.4,313.8 425.4,314.4 426.4,314.1 427.4,313.3 428.4,312.2 429.4,310.8 430.4,309.4 431.4,308.6 432.4,308.5 433.4,308.5 434.4,307.8 435.4,306.3 436.4,304.3 437.4,302.0 438.4,299.7 439.4,298.2 440.4,298.0 441.4,298.3" fill="none" stroke="#2a4a78" stroke-width="1.05" stroke-linejoin="round" stroke-linecap="round"/>
<path d="M56.4,368.3 57.4,369.9 58.4,371.8 59.4,373.2 60.4,373.9 61.4,373.8 62.4,373.2 63.4,372.7 64.4,372.2 65.4,371.9 66.4,371.6 67.4,371.3 68.4,371.0 69.4,370.9 70.4,371.3 71.4,372.2 72.4,373.1 73.4,373.2 74.4,372.4 75.4,371.0 76.4,369.6 77.4,368.4 78.4,367.3 79.4,366.7 80.4,366.9 81.4,367.8 82.4,368.9 83.4,370.0 84.4,371.1 85.4,371.7 86.4,371.3 87.4,369.8 88.4,367.9 89.4,366.4 90.4,365.6 91.4,365.2 92.4,365.2 93.4,365.3 94.4,365.7 95.4,366.3 96.4,367.3 97.4,368.4 98.4,369.2 99.4,369.1 100.4,368.1 101.4,367.1 102.4,366.8 103.4,367.4 104.4,368.0 105.4,367.6 106.4,366.8 107.4,366.4 108.4,366.2 109.4,365.3 110.4,363.4 111.4,362.4 112.4,362.3 113.4,362.6 114.4,363.3 115.4,364.4 116.4,365.6 117.4,366.5 118.4,367.4 119.4,368.1 120.4,368.8 121.4,369.4 122.4,369.7 123.4,369.8 124.4,369.5 125.4,369.0 126.4,368.4 127.4,367.8 128.4,367.4 129.4,367.0 130.4,366.8 131.4,367.0 132.4,367.6 133.4,367.9 134.4,367.8 135.4,367.5 136.4,367.3 137.4,367.4 138.4,368.0 139.4,368.6 140.4,368.6 141.4,368.3 142.4,367.9 143.4,367.4 144.4,366.7 145.4,365.8 146.4,364.6 147.4,363.9 148.4,364.2 149.4,365.5 150.4,367.4 151.4,369.6 152.4,371.2 153.4,371.8 154.4,371.7 155.4,371.2 156.4,370.2 157.4,368.7 158.4,367.0 159.4,365.5 160.4,365.4 161.4,366.8 162.4,368.2 163.4,368.8 164.4,369.2 165.4,369.2 166.4,368.9 167.4,368.3 168.4,367.6 169.4,366.8 170.4,366.4 171.4,367.0 172.4,368.0 173.4,368.9 174.4,369.8 175.4,370.4 176.4,370.8 177.4,370.6 178.4,370.0 179.4,369.4 180.4,368.9 181.4,368.4 182.4,367.9 183.4,367.2 184.4,366.2 185.4,365.2 186.4,365.6 187.4,367.5 188.4,369.4 189.4,370.5 190.4,370.9 191.4,370.4 192.4,369.1 193.4,367.9 194.4,367.7 195.4,368.6 196.4,370.1 197.4,371.3 198.4,372.3 199.4,372.9 200.4,372.9 201.4,371.9 202.4,370.5 203.4,369.0 204.4,367.9 205.4,367.5 206.4,367.7 207.4,368.3 208.4,369.1 209.4,369.6 210.4,369.2 211.4,368.6 212.4,368.1 213.4,367.7 214.4,367.5 215.4,367.4 216.4,367.2 217.4,366.8 218.4,366.5 219.4,366.2 220.4,366.6 221.4,368.1 222.4,369.3 223.4,369.2 224.4,368.9 225.4,369.0 226.4,369.6 227.4,370.3 228.4,371.0 229.4,371.3 230.4,370.8 231.4,369.5 232.4,368.1 233.4,367.4 234.4,367.3 235.4,367.6 236.4,368.0 237.4,368.2 238.4,368.2 239.4,368.0 240.4,367.9 241.4,367.7 242.4,367.6 243.4,367.5 244.4,367.4 245.4,367.0 246.4,366.4 247.4,365.6 248.4,364.9 249.4,364.8 250.4,365.7 251.4,367.4 252.4,369.6 253.4,371.3 254.4,371.6 255.4,370.9 256.4,370.0 257.4,369.3 258.4,369.0 259.4,368.9 260.4,368.9 261.4,368.7 262.4,368.4 263.4,368.2 264.4,368.2 265.4,368.8 266.4,369.5 267.4,369.5 268.4,368.9 269.4,368.1 270.4,367.7 271.4,367.5 272.4,367.4 273.4,367.3 274.4,366.9 275.4,366.2 276.4,365.5 277.4,365.3 278.4,365.5 279.4,366.1 280.4,366.7 281.4,367.3 282.4,367.9 283.4,368.5 284.4,368.8 285.4,368.4 286.4,367.3 287.4,365.7 288.4,364.4 289.4,363.9 290.4,364.6 291.4,366.2 292.4,368.0 293.4,369.6 294.4,371.1 295.4,372.1 296.4,371.8 297.4,370.3 298.4,368.4 299.4,366.5 300.4,365.4 301.4,365.2 302.4,365.6 303.4,366.1 304.4,366.3 305.4,366.0 306.4,365.5 307.4,365.3 308.4,365.9 309.4,366.9 310.4,367.7 311.4,367.6 312.4,366.9 313.4,366.0 314.4,365.1 315.4,364.7 316.4,364.5 317.4,364.5 318.4,364.5 319.4,364.4 320.4,364.2 321.4,364.0 322.4,363.9 323.4,364.1 324.4,364.6 325.4,365.7 326.4,367.2 327.4,368.9 328.4,370.9 329.4,372.4 330.4,372.5 331.4,371.2 332.4,369.0 333.4,366.7 334.4,364.2 335.4,362.7 336.4,363.2 337.4,365.1 338.4,366.8 339.4,368.0 340.4,368.7 341.4,368.8 342.4,368.6 343.4,368.0 344.4,367.0 345.4,365.6 346.4,364.5 347.4,364.2 348.4,364.7 349.4,365.6 350.4,366.5 351.4,367.5 352.4,368.3 353.4,368.6 354.4,368.4 355.4,367.8 356.4,367.0 357.4,366.2 358.4,365.1 359.4,364.1 360.4,363.5 361.4,363.7 362.4,364.5 363.4,365.1 364.4,365.5 365.4,365.8 366.4,366.3 367.4,366.8 368.4,367.4 369.4,368.0 370.4,368.7 371.4,369.5 372.4,370.4 373.4,371.2 374.4,371.6 375.4,371.5 376.4,370.9 377.4,370.0 378.4,369.1 379.4,368.6 380.4,368.3 381.4,368.1 382.4,368.0 383.4,367.8 384.4,367.3 385.4,366.6 386.4,366.0 387.4,365.7 388.4,365.9 389.4,366.9 390.4,368.2 391.4,369.3 392.4,370.2 393.4,370.8 394.4,370.9 395.4,370.3 396.4,369.2 397.4,367.9 398.4,366.5 399.4,365.4 400.4,365.0 401.4,365.7 402.4,366.7 403.4,367.0 404.4,366.7 405.4,366.3 406.4,366.1 407.4,366.4 408.4,367.0 409.4,367.5 410.4,367.9 411.4,368.2 412.4,368.4 413.4,368.6 414.4,368.5 415.4,368.1 416.4,367.5 417.4,367.3 418.4,367.7 419.4,368.7 420.4,370.0 421.4,371.1 422.4,371.5 423.4,371.0 424.4,369.9 425.4,369.0 426.4,368.8 427.4,369.1 428.4,369.7 429.4,370.1 430.4,370.1 431.4,369.3 432.4,367.8 433.4,365.8 434.4,363.6 435.4,362.5 436.4,363.7 437.4,366.1 438.4,367.8 439.4,368.0 440.4,366.7 441.4,365.2" fill="none" stroke="#da3a45" stroke-width="1.05" stroke-linejoin="round" stroke-linecap="round"/>
<path d="M56.4,439.4 57.4,437.8 58.4,435.7 59.4,433.9 60.4,432.4 61.4,431.3 62.4,430.3 63.4,429.1 64.4,427.2 65.4,425.1 66.4,424.1 67.4,425.0 68.4,427.4 69.4,430.3 70.4,433.4 71.4,435.9 72.4,436.8 73.4,436.2 74.4,434.7 75.4,432.2 76.4,429.4 77.4,427.3 78.4,426.3 79.4,426.0 80.4,426.4 81.4,427.4 82.4,428.9 83.4,430.8 84.4,432.8 85.4,434.5 86.4,435.4 87.4,435.3 88.4,434.2 89.4,432.8 90.4,431.5 91.4,430.3 92.4,429.5 93.4,429.2 94.4,429.7 95.4,430.7 96.4,432.2 97.4,434.0 98.4,435.8 99.4,437.7 100.4,439.2 101.4,439.7 102.4,438.9 103.4,437.5 104.4,435.9 105.4,434.4 106.4,434.0 107.4,435.1 108.4,436.6 109.4,438.0 110.4,439.2 111.4,440.2 112.4,440.7 113.4,440.5 114.4,439.7 115.4,438.6 116.4,437.5 117.4,436.7 118.4,436.3 119.4,436.1 120.4,436.0 121.4,436.0 122.4,436.0 123.4,436.1 124.4,436.2 125.4,436.3 126.4,436.4 127.4,436.5 128.4,436.3 129.4,435.8 130.4,435.0 131.4,434.0 132.4,433.0 133.4,432.0 134.4,430.9 135.4,429.8 136.4,428.7 137.4,427.5 138.4,426.4 139.4,425.8 140.4,426.2 141.4,427.5 142.4,429.5 143.4,431.8 144.4,434.0 145.4,435.6 146.4,436.4 147.4,436.5 148.4,435.8 149.4,434.6 150.4,433.2 151.4,431.7 152.4,430.8 153.4,430.9 154.4,432.2 155.4,434.0 156.4,436.0 157.4,437.7 158.4,438.8 159.4,439.5 160.4,439.8 161.4,439.5 162.4,438.9 163.4,438.2 164.4,437.8 165.4,438.0 166.4,438.8 167.4,439.7 168.4,440.5 169.4,441.0 170.4,441.5 171.4,441.7 172.4,441.4 173.4,440.7 174.4,439.8 175.4,439.1 176.4,438.5 177.4,437.8 178.4,436.8 179.4,435.8 180.4,434.8 181.4,433.8 182.4,433.1 183.4,433.1 184.4,433.7 185.4,434.6 186.4,435.7 187.4,436.9 188.4,438.1 189.4,439.1 190.4,439.8 191.4,440.3 192.4,440.4 193.4,440.3 194.4,440.0 195.4,439.6 196.4,439.2 197.4,438.9 198.4,438.5 199.4,438.0 200.4,437.4 201.4,437.0 202.4,437.5 203.4,438.5 204.4,439.4 205.4,440.2 206.4,440.8 207.4,441.2 208.4,441.2 209.4,440.8 210.4,439.9 211.4,438.4 212.4,436.3 213.4,434.2 214.4,432.8 215.4,431.9 216.4,432.0 217.4,432.7 218.4,433.8 219.4,435.1 220.4,436.1 221.4,436.2 222.4,435.0 223.4,433.2 224.4,431.1 225.4,429.0 226.4,427.8 227.4,428.6 228.4,431.0 229.4,433.6 230.4,435.9 231.4,437.5 232.4,438.4 233.4,438.5 234.4,438.0 235.4,437.2 236.4,436.2 237.4,435.4 238.4,434.7 239.4,434.2 240.4,433.9 241.4,433.8 242.4,433.9 243.4,434.3 244.4,434.8 245.4,435.3 246.4,435.8 247.4,436.3 248.4,436.6 249.4,436.5 250.4,435.6 251.4,434.2 252.4,433.2 253.4,432.9 254.4,433.2 255.4,433.8 256.4,434.8 257.4,436.1 258.4,437.4 259.4,438.4 260.4,438.9 261.4,438.8 262.4,438.1 263.4,437.3 264.4,436.7 265.4,436.4 266.4,436.3 267.4,436.3 268.4,436.3 269.4,436.2 270.4,436.1 271.4,435.8 272.4,435.1 273.4,433.9 274.4,432.2 275.4,431.0 276.4,431.8 277.4,434.0 278.4,436.4 279.4,438.6 280.4,440.6 281.4,442.0 282.4,442.4 283.4,441.5 284.4,439.6 285.4,437.5 286.4,435.1 287.4,432.8 288.4,430.8 289.4,429.0 290.4,427.7 291.4,427.2 292.4,428.0 293.4,429.8 294.4,431.6 295.4,433.1 296.4,434.5 297.4,435.8 298.4,436.7 299.4,436.8 300.4,436.0 301.4,435.0 302.4,434.1 303.4,433.3 304.4,432.7 305.4,432.4 306.4,432.4 307.4,433.1 308.4,434.2 309.4,435.4 310.4,436.5 311.4,437.4 312.4,437.8 313.4,437.3 314.4,436.2 315.4,435.0 316.4,434.4 317.4,434.7 318.4,435.8 319.4,437.6 320.4,439.8 321.4,442.2 322.4,444.3 323.4,445.8 324.4,445.9 325.4,444.5 326.4,442.4 327.4,440.4 328.4,438.6 329.4,437.0 330.4,435.6 331.4,434.3 332.4,433.2 333.4,432.5 334.4,432.0 335.4,431.8 336.4,431.8 337.4,431.9 338.4,432.4 339.4,433.1 340.4,433.9 341.4,434.6 342.4,435.2 343.4,435.7 344.4,436.1 345.4,436.2 346.4,436.3 347.4,436.6 348.4,437.2 349.4,438.1 350.4,439.2 351.4,440.4 352.4,441.6 353.4,442.8 354.4,443.6 355.4,444.1 356.4,444.3 357.4,444.3 358.4,444.1 359.4,443.8 360.4,443.6 361.4,443.5 362.4,443.6 363.4,443.7 364.4,443.8 365.4,443.9 366.4,443.6 367.4,442.6 368.4,441.0 369.4,439.1 370.4,437.2 371.4,435.2 372.4,433.9 373.4,433.8 374.4,435.2 375.4,437.2 376.4,439.3 377.4,441.6 378.4,443.6 379.4,445.0 380.4,445.9 381.4,446.4 382.4,446.8 383.4,447.0 384.4,447.0 385.4,446.8 386.4,446.5 387.4,446.1 388.4,445.5 389.4,444.8 390.4,443.7 391.4,442.1 392.4,440.1 393.4,437.9 394.4,435.8 395.4,433.7 396.4,432.4 397.4,432.4 398.4,433.7 399.4,435.5 400.4,437.3 401.4,439.1 402.4,440.8 403.4,441.9 404.4,442.5 405.4,442.5 406.4,442.2 407.4,441.2 408.4,439.7 409.4,437.9 410.4,436.3 411.4,435.2 412.4,434.8 413.4,434.8 414.4,434.9 415.4,434.9 416.4,434.9 417.4,435.0 418.4,435.4 419.4,436.0 420.4,437.0 421.4,438.3 422.4,439.6 423.4,440.5 424.4,441.1 425.4,441.3 426.4,441.0 427.4,440.2 428.4,439.0 429.4,437.7 430.4,436.2 431.4,434.7 432.4,433.5 433.4,432.6 434.4,432.4 435.4,433.0 436.4,434.1 437.4,435.3 438.4,436.7 439.4,438.1 440.4,439.4 441.4,440.1" fill="none" stroke="#efc687" stroke-width="1.05" stroke-linejoin="round" stroke-linecap="round"/>
<path d="M56.4,471.6 57.4,470.2 58.4,468.2 59.4,466.4 60.4,465.0 61.4,463.6 62.4,461.9 63.4,459.7 64.4,457.2 65.4,455.5 66.4,455.5 67.4,457.7 68.4,460.6 69.4,463.6 70.4,466.2 71.4,467.3 72.4,466.0 73.4,463.5 74.4,461.3 75.4,459.5 76.4,458.2 77.4,457.5 78.4,457.4 79.4,457.7 80.4,458.4 81.4,459.4 82.4,460.9 83.4,462.5 84.4,464.2 85.4,465.1 86.4,464.8 87.4,463.8 88.4,462.5 89.4,461.3 90.4,460.2 91.4,459.4 92.4,459.3 93.4,459.8 94.4,460.9 95.4,462.4 96.4,464.5 97.4,466.7 98.4,468.5 99.4,469.3 100.4,469.0 101.4,467.9 102.4,466.6 103.4,465.3 104.4,464.6 105.4,464.9 106.4,466.1 107.4,467.4 108.4,468.5 109.4,469.4 110.4,470.0 111.4,470.2 112.4,469.9 113.4,469.4 114.4,468.9 115.4,468.4 116.4,468.0 117.4,467.6 118.4,467.2 119.4,466.8 120.4,466.4 121.4,466.2 122.4,466.2 123.4,466.5 124.4,466.7 125.4,466.7 126.4,466.3 127.4,465.5 128.4,464.6 129.4,463.6 130.4,462.6 131.4,461.5 132.4,460.5 133.4,459.5 134.4,458.5 135.4,457.5 136.4,456.7 137.4,456.8 138.4,458.1 139.4,460.4 140.4,462.5 141.4,464.3 142.4,465.5 143.4,465.7 144.4,464.9 145.4,463.6 146.4,462.5 147.4,461.5 148.4,461.4 149.4,462.2 150.4,463.7 151.4,465.2 152.4,466.7 153.4,467.9 154.4,468.7 155.4,469.0 156.4,468.9 157.4,468.3 158.4,467.7 159.4,467.6 160.4,468.1 161.4,469.0 162.4,470.1 163.4,470.9 164.4,471.6 165.4,472.0 166.4,472.0 167.4,471.6 168.4,470.8 169.4,470.0 170.4,469.3 171.4,468.9 172.4,468.6 173.4,468.3 174.4,467.6 175.4,466.6 176.4,465.5 177.4,464.5 178.4,463.9 179.4,463.8 180.4,464.1 181.4,464.8 182.4,465.7 183.4,467.0 184.4,468.5 185.4,469.8 186.4,470.8 187.4,471.6 188.4,471.9 189.4,471.8 190.4,471.3 191.4,470.6 192.4,470.1 193.4,469.7 194.4,469.4 195.4,468.8 196.4,468.1 197.4,467.6 198.4,467.9 199.4,468.7 200.4,469.6 201.4,470.3 202.4,471.0 203.4,471.4 204.4,471.5 205.4,471.1 206.4,470.3 207.4,468.9 208.4,466.8 209.4,464.5 210.4,462.8 211.4,462.3 212.4,462.8 213.4,463.7 214.4,464.5 215.4,465.5 216.4,466.2 217.4,466.1 218.4,465.1 219.4,463.5 220.4,461.3 221.4,459.2 222.4,458.2 223.4,459.2 224.4,461.7 225.4,464.5 226.4,466.9 227.4,468.3 228.4,468.9 229.4,468.9 230.4,468.5 231.4,467.8 232.4,467.1 233.4,466.4 234.4,465.7 235.4,465.0 236.4,464.5 237.4,464.5 238.4,464.8 239.4,465.4 240.4,466.0 241.4,466.3 242.4,466.3 243.4,465.8 244.4,465.1 245.4,464.5 246.4,463.9 247.4,463.5 248.4,463.3 249.4,463.6 250.4,464.2 251.4,465.0 252.4,465.9 253.4,466.8 254.4,467.8 255.4,468.5 256.4,468.9 257.4,468.6 258.4,467.8 259.4,467.0 260.4,466.5 261.4,466.3 262.4,466.2 263.4,466.2 264.4,466.3 265.4,466.5 266.4,466.4 267.4,465.7 268.4,464.4 269.4,462.7 270.4,461.4 271.4,461.8 272.4,463.9 273.4,466.2 274.4,468.0 275.4,469.7 276.4,471.2 277.4,472.3 278.4,472.3 279.4,470.8 280.4,468.4 281.4,465.8 282.4,463.1 283.4,461.0 284.4,459.3 285.4,458.0 286.4,457.5 287.4,458.0 288.4,459.4 289.4,460.9 290.4,462.4 291.4,463.7 292.4,465.0 293.4,465.9 294.4,466.4 295.4,466.4 296.4,465.9 297.4,465.3 298.4,464.5 299.4,463.8 300.4,463.2 301.4,463.1 302.4,463.7 303.4,464.7 304.4,465.7 305.4,466.9 306.4,467.8 307.4,468.1 308.4,467.6 309.4,466.7 310.4,465.6 311.4,464.9 312.4,464.7 313.4,465.3 314.4,466.4 315.4,468.1 316.4,470.1 317.4,472.3 318.4,474.3 319.4,475.5 320.4,475.3 321.4,473.6 322.4,471.5 323.4,469.8 324.4,468.5 325.4,467.4 326.4,466.3 327.4,465.3 328.4,464.3 329.4,463.4 330.4,462.7 331.4,462.4 332.4,462.5 333.4,462.9 334.4,463.5 335.4,464.1 336.4,464.7 337.4,465.3 338.4,465.9 339.4,466.4 340.4,466.8 341.4,467.2 342.4,467.7 343.4,468.3 344.4,469.0 345.4,469.7 346.4,470.6 347.4,471.5 348.4,472.6 349.4,473.5 350.4,474.1 351.4,474.2 352.4,473.9 353.4,473.6 354.4,473.5 355.4,473.5 356.4,473.7 357.4,473.8 358.4,473.8 359.4,473.7 360.4,473.3 361.4,472.6 362.4,471.5 363.4,470.2 364.4,468.3 365.4,466.2 366.4,464.8 367.4,465.0 368.4,466.5 369.4,468.7 370.4,470.8 371.4,472.8 372.4,474.5 373.4,475.7 374.4,476.4 375.4,476.7 376.4,476.9 377.4,477.1 378.4,477.2 379.4,477.2 380.4,477.1 381.4,476.9 382.4,476.6 383.4,476.1 384.4,475.3 385.4,473.7 386.4,471.6 387.4,469.2 388.4,467.0 389.4,465.0 390.4,463.5 391.4,463.1 392.4,464.0 393.4,465.7 394.4,467.3 395.4,468.6 396.4,469.7 397.4,470.6 398.4,471.1 399.4,471.5 400.4,471.4 401.4,470.8 402.4,469.7 403.4,468.0 404.4,466.3 405.4,465.4 406.4,465.2 407.4,465.2 408.4,465.1 409.4,464.9 410.4,464.6 411.4,464.6 412.4,464.7 413.4,465.1 414.4,465.8 415.4,466.9 416.4,468.4 417.4,469.8 418.4,471.1 419.4,471.8 420.4,471.6 421.4,470.8 422.4,469.7 423.4,468.5 424.4,467.1 425.4,465.6 426.4,464.4 427.4,463.4 428.4,463.1 429.4,463.7 430.4,464.7 431.4,466.0 432.4,467.5 433.4,468.9 434.4,469.8 435.4,470.0 436.4,469.8 437.4,469.4 438.4,469.0 439.4,468.6 440.4,468.4 441.4,468.5" fill="none" stroke="#b066c4" stroke-width="1.05" stroke-linejoin="round" stroke-linecap="round"/>
<path d="M56.4,499.0 57.4,497.5 58.4,495.6 59.4,494.4 60.4,493.7 61.4,493.0 62.4,492.3 63.4,491.0 64.4,488.6 65.4,486.1 66.4,485.7 67.4,487.0 68.4,488.8 69.4,490.8 70.4,493.0 71.4,495.0 72.4,495.1 73.4,492.5 74.4,490.7 75.4,490.6 76.4,491.1 77.4,491.6 78.4,491.5 79.4,490.2 80.4,488.7 81.4,487.5 82.4,486.8 83.4,486.8 84.4,487.6 85.4,489.0 86.4,491.0 87.4,493.1 88.4,494.3 89.4,494.4 90.4,493.9 91.4,493.2 92.4,492.6 93.4,492.0 94.4,491.5 95.4,491.3 96.4,491.6 97.4,492.5 98.4,493.3 99.4,493.9 100.4,494.4 101.4,495.0 102.4,495.7 103.4,496.2 104.4,496.2 105.4,495.7 106.4,495.2 107.4,495.2 108.4,495.8 109.4,496.7 110.4,497.6 111.4,498.4 112.4,499.3 113.4,499.9 114.4,500.1 115.4,499.8 116.4,499.3 117.4,498.7 118.4,498.1 119.4,497.6 120.4,497.1 121.4,496.6 122.4,496.2 123.4,495.7 124.4,495.2 125.4,494.8 126.4,494.7 127.4,495.0 128.4,495.3 129.4,495.3 130.4,494.8 131.4,493.8 132.4,492.8 133.4,491.8 134.4,491.0 135.4,490.1 136.4,489.3 137.4,488.4 138.4,487.4 139.4,486.6 140.4,486.5 141.4,487.4 142.4,488.8 143.4,490.3 144.4,491.9 145.4,493.3 146.4,494.2 147.4,494.4 148.4,493.8 149.4,493.0 150.4,492.2 151.4,491.6 152.4,491.3 153.4,491.4 154.4,492.1 155.4,493.1 156.4,494.0 157.4,494.9 158.4,495.7 159.4,496.6 160.4,497.5 161.4,498.3 162.4,498.4 163.4,497.6 164.4,497.0 165.4,497.1 166.4,497.7 167.4,498.5 168.4,499.3 169.4,500.1 170.4,500.7 171.4,501.1 172.4,500.8 173.4,500.0 174.4,499.2 175.4,498.7 176.4,498.4 177.4,497.9 178.4,497.1 179.4,495.9 180.4,494.6 181.4,493.6 182.4,492.9 183.4,492.5 184.4,492.6 185.4,493.0 186.4,493.9 187.4,495.0 188.4,496.4 189.4,498.0 190.4,499.3 191.4,500.3 192.4,500.9 193.4,501.2 194.4,501.0 195.4,500.5 196.4,499.7 197.4,499.1 198.4,498.6 199.4,498.1 200.4,497.5 201.4,497.0 202.4,496.6 203.4,496.8 204.4,497.5 205.4,498.3 206.4,499.1 207.4,499.8 208.4,500.1 209.4,499.9 210.4,499.3 211.4,498.3 212.4,497.0 213.4,495.4 214.4,494.4 215.4,494.3 216.4,494.6 217.4,495.0 218.4,495.2 219.4,495.3 220.4,495.2 221.4,495.0 222.4,494.5 223.4,493.5 224.4,492.2 225.4,490.8 226.4,489.5 227.4,488.9 228.4,489.3 229.4,490.6 230.4,492.1 231.4,493.4 232.4,494.6 233.4,495.6 234.4,496.4 235.4,496.9 236.4,496.8 237.4,496.1 238.4,495.5 239.4,494.9 240.4,494.3 241.4,493.8 242.4,493.5 243.4,493.4 244.4,493.6 245.4,494.1 246.4,494.7 247.4,495.2 248.4,495.7 249.4,496.0 250.4,496.1 251.4,495.6 252.4,494.7 253.4,493.7 254.4,493.1 255.4,493.1 256.4,493.7 257.4,494.4 258.4,495.0 259.4,495.7 260.4,496.3 261.4,496.6 262.4,496.6 263.4,496.4 264.4,496.1 265.4,495.8 266.4,495.6 267.4,495.5 268.4,495.5 269.4,495.7 270.4,495.9 271.4,496.1 272.4,496.1 273.4,495.6 274.4,494.6 275.4,493.0 276.4,491.2 277.4,490.7 278.4,492.0 279.4,494.0 280.4,496.3 281.4,498.3 282.4,499.9 283.4,501.2 284.4,501.9 285.4,501.4 286.4,499.8 287.4,497.4 288.4,494.5 289.4,491.7 290.4,489.5 291.4,487.9 292.4,486.8 293.4,486.3 294.4,487.0 295.4,488.8 296.4,490.9 297.4,492.6 298.4,493.9 299.4,494.8 300.4,495.1 301.4,494.8 302.4,494.3 303.4,493.7 304.4,493.0 305.4,492.5 306.4,492.1 307.4,492.3 308.4,492.8 309.4,493.6 310.4,494.5 311.4,495.5 312.4,496.5 313.4,497.2 314.4,497.2 315.4,496.7 316.4,495.9 317.4,495.1 318.4,494.7 319.4,494.6 320.4,495.3 321.4,496.7 322.4,498.5 323.4,500.3 324.4,502.2 325.4,503.8 326.4,504.7 327.4,504.0 328.4,502.0 329.4,500.1 330.4,498.7 331.4,497.5 332.4,496.4 333.4,495.5 334.4,494.9 335.4,494.4 336.4,493.9 337.4,493.5 338.4,493.0 339.4,492.5 340.4,492.2 341.4,492.1 342.4,492.4 343.4,493.0 344.4,493.7 345.4,494.6 346.4,495.4 347.4,496.2 348.4,496.7 349.4,497.1 350.4,497.5 351.4,498.1 352.4,498.9 353.4,499.8 354.4,500.8 355.4,501.9 356.4,502.9 357.4,503.3 358.4,503.2 359.4,502.7 360.4,502.3 361.4,502.2 362.4,502.4 363.4,502.6 364.4,502.8 365.4,503.0 366.4,502.9 367.4,502.4 368.4,501.5 369.4,500.4 370.4,499.2 371.4,497.8 372.4,496.1 373.4,494.6 374.4,493.7 375.4,493.9 376.4,495.4 377.4,497.5 378.4,500.0 379.4,502.3 380.4,503.9 381.4,505.0 382.4,505.8 383.4,506.3 384.4,506.5 385.4,506.5 386.4,506.4 387.4,506.1 388.4,505.6 389.4,505.0 390.4,504.2 391.4,503.3 392.4,502.1 393.4,500.9 394.4,499.4 395.4,498.1 396.4,496.9 397.4,495.8 398.4,495.1 399.4,494.9 400.4,495.3 401.4,496.3 402.4,497.4 403.4,498.6 404.4,499.7 405.4,500.7 406.4,501.3 407.4,501.2 408.4,500.2 409.4,498.7 410.4,496.7 411.4,494.8 412.4,493.8 413.4,493.7 414.4,493.8 415.4,493.8 416.4,493.8 417.4,493.7 418.4,493.8 419.4,494.2 420.4,494.8 421.4,495.8 422.4,497.1 423.4,498.4 424.4,499.5 425.4,500.4 426.4,501.1 427.4,501.3 428.4,501.1 429.4,500.3 430.4,498.9 431.4,497.4 432.4,495.8 433.4,494.3 434.4,493.1 435.4,492.6 436.4,493.0 437.4,493.8 438.4,494.7 439.4,495.8 440.4,497.0 441.4,498.0" fill="none" stroke="#5fae9c" stroke-width="1.05" stroke-linejoin="round" stroke-linecap="round"/>
<path d="M56.4,531.4 57.4,530.0 58.4,528.1 59.4,526.5 60.4,525.3 61.4,524.3 62.4,523.7 63.4,523.9 64.4,524.8 65.4,525.2 66.4,524.4 67.4,522.8 68.4,521.3 69.4,520.1 70.4,519.3 71.4,519.5 72.4,520.3 73.4,520.4 74.4,520.5 75.4,521.2 76.4,522.4 77.4,523.2 78.4,523.4 79.4,522.9 80.4,522.4 81.4,522.2 82.4,522.4 83.4,522.8 84.4,523.3 85.4,523.8 86.4,524.4 87.4,524.9 88.4,525.2 89.4,525.1 90.4,524.5 91.4,523.9 92.4,523.6 93.4,523.6 94.4,523.6 95.4,523.5 96.4,523.4 97.4,523.3 98.4,523.2 99.4,523.1 100.4,523.1 101.4,523.5 102.4,524.3 103.4,525.4 104.4,526.3 105.4,527.3 106.4,528.1 107.4,528.8 108.4,529.5 109.4,530.0 110.4,530.3 111.4,530.3 112.4,530.1 113.4,529.8 114.4,529.4 115.4,529.0 116.4,528.6 117.4,528.7 118.4,529.0 119.4,529.4 120.4,529.8 121.4,530.2 122.4,530.2 123.4,529.4 124.4,528.4 125.4,527.4 126.4,526.6 127.4,526.1 128.4,526.2 129.4,526.7 130.4,527.0 131.4,526.7 132.4,525.9 133.4,525.0 134.4,524.1 135.4,523.3 136.4,522.5 137.4,521.8 138.4,521.0 139.4,520.2 140.4,519.6 141.4,519.8 142.4,520.9 143.4,522.2 144.4,523.6 145.4,524.7 146.4,525.0 147.4,524.4 148.4,523.3 149.4,522.0 150.4,520.9 151.4,520.5 152.4,520.9 153.4,522.0 154.4,523.4 155.4,525.0 156.4,526.5 157.4,527.4 158.4,527.8 159.4,527.8 160.4,527.7 161.4,527.4 162.4,527.1 163.4,527.0 164.4,527.3 165.4,527.8 166.4,528.5 167.4,529.4 168.4,530.4 169.4,531.0 170.4,531.0 171.4,530.4 172.4,529.8 173.4,529.4 174.4,529.2 175.4,529.0 176.4,528.9 177.4,528.8 178.4,528.6 179.4,528.4 180.4,528.1 181.4,527.9 182.4,527.6 183.4,527.2 184.4,526.9 185.4,526.6 186.4,526.7 187.4,527.3 188.4,528.2 189.4,529.1 190.4,529.9 191.4,530.5 192.4,530.5 193.4,530.0 194.4,529.2 195.4,528.6 196.4,528.1 197.4,527.9 198.4,528.1 199.4,528.5 200.4,529.2 201.4,529.9 202.4,530.7 203.4,531.4 204.4,531.9 205.4,532.0 206.4,531.7 207.4,531.1 208.4,530.2 209.4,529.0 210.4,527.7 211.4,526.7 212.4,526.0 213.4,525.4 214.4,525.1 215.4,525.2 216.4,525.9 217.4,526.7 218.4,527.0 219.4,526.5 220.4,525.8 221.4,525.0 222.4,524.6 223.4,524.8 224.4,525.7 225.4,526.8 226.4,527.8 227.4,528.7 228.4,529.6 229.4,530.2 230.4,530.1 231.4,529.6 232.4,528.7 233.4,527.7 234.4,526.6 235.4,525.6 236.4,525.0 237.4,524.8 238.4,524.7 239.4,524.5 240.4,525.0 241.4,525.9 242.4,526.4 243.4,526.3 244.4,525.8 245.4,525.4 246.4,525.1 247.4,524.8 248.4,524.7 249.4,524.6 250.4,524.8 251.4,525.0 252.4,525.4 253.4,525.8 254.4,526.3 255.4,527.0 256.4,527.6 257.4,528.0 258.4,527.8 259.4,527.1 260.4,526.2 261.4,525.2 262.4,524.3 263.4,523.5 264.4,523.2 265.4,523.4 266.4,524.0 267.4,524.7 268.4,525.7 269.4,526.8 270.4,527.6 271.4,528.2 272.4,528.5 273.4,528.6 274.4,528.7 275.4,528.6 276.4,528.5 277.4,528.5 278.4,528.7 279.4,528.9 280.4,529.1 281.4,529.1 282.4,528.5 283.4,527.1 284.4,525.8 285.4,525.7 286.4,526.4 287.4,527.4 288.4,528.4 289.4,529.4 290.4,530.1 291.4,530.0 292.4,529.2 293.4,527.8 294.4,526.1 295.4,524.0 296.4,522.1 297.4,520.7 298.4,519.9 299.4,519.6 300.4,520.0 301.4,520.9 302.4,522.0 303.4,523.0 304.4,523.7 305.4,524.2 306.4,524.7 307.4,525.0 308.4,525.1 309.4,525.2 310.4,525.3 311.4,525.6 312.4,526.0 313.4,526.1 314.4,525.7 315.4,525.3 316.4,525.0 317.4,525.1 318.4,525.5 319.4,526.1 320.4,526.8 321.4,527.6 322.4,528.5 323.4,529.4 324.4,530.1 325.4,530.7 326.4,530.9 327.4,531.2 328.4,531.6 329.4,532.1 330.4,532.7 331.4,533.1 332.4,533.2 333.4,532.7 334.4,531.8 335.4,530.7 336.4,529.6 337.4,528.5 338.4,527.3 339.4,526.3 340.4,525.6 341.4,525.3 342.4,525.4 343.4,525.7 344.4,526.0 345.4,526.1 346.4,526.1 347.4,525.9 348.4,525.8 349.4,525.9 350.4,526.3 351.4,527.1 352.4,528.0 353.4,529.0 354.4,529.8 355.4,530.6 356.4,531.5 357.4,532.4 358.4,533.4 359.4,534.3 360.4,534.7 361.4,534.3 362.4,533.4 363.4,532.6 364.4,532.2 365.4,532.1 366.4,532.1 367.4,532.2 368.4,532.3 369.4,532.3 370.4,532.1 371.4,531.8 372.4,531.4 373.4,531.0 374.4,530.9 375.4,531.0 376.4,531.3 377.4,531.8 378.4,532.4 379.4,533.1 380.4,533.9 381.4,534.6 382.4,535.0 383.4,535.0 384.4,534.6 385.4,534.2 386.4,533.8 387.4,533.5 388.4,533.4 389.4,533.7 390.4,534.4 391.4,534.9 392.4,534.9 393.4,534.3 394.4,533.2 395.4,532.0 396.4,530.7 397.4,529.5 398.4,528.3 399.4,527.7 400.4,527.8 401.4,528.5 402.4,529.4 403.4,530.3 404.4,531.2 405.4,531.9 406.4,532.0 407.4,531.7 408.4,531.1 409.4,530.6 410.4,530.5 411.4,530.2 412.4,529.4 413.4,528.1 414.4,527.4 415.4,527.6 416.4,528.1 417.4,528.8 418.4,529.5 419.4,530.0 420.4,529.9 421.4,528.9 422.4,528.1 423.4,528.2 424.4,528.7 425.4,529.0 426.4,528.9 427.4,528.6 428.4,528.2 429.4,527.7 430.4,527.2 431.4,526.5 432.4,525.8 433.4,525.0 434.4,524.3 435.4,524.3 436.4,524.9 437.4,525.8 438.4,526.9 439.4,528.1 440.4,529.2 440.9,529.5" fill="none" stroke="#2a4a78" stroke-width="1.05" stroke-linejoin="round" stroke-linecap="round"/>
<path d="M56.4,584.2 57.4,585.0 58.4,586.2 59.4,588.3 60.4,591.0 61.4,593.9 62.4,595.9 63.4,596.4 64.4,595.5 65.4,593.6 66.4,591.2 67.4,588.7 68.4,586.4 69.4,584.7 70.4,583.3 71.4,580.3 72.4,576.9 73.4,575.0 74.4,574.4 75.4,574.8 76.4,576.3 77.4,578.7 78.4,581.6 79.4,584.6 80.4,586.3 81.4,585.4 82.4,583.1 83.4,581.3 84.4,580.6 85.4,580.5 86.4,581.0 87.4,581.8 88.4,582.3 89.4,582.3 90.4,582.1 91.4,582.0 92.4,582.2 93.4,582.4 94.4,582.5 95.4,582.4 96.4,582.3 97.4,582.0 98.4,581.7 99.4,581.2 100.4,580.6 101.4,580.5 102.4,580.9 103.4,581.7 104.4,582.9 105.4,584.2 106.4,585.4 107.4,586.4 108.4,587.0 109.4,587.3 110.4,587.3 111.4,587.2 112.4,587.1 113.4,586.9 114.4,587.0 115.4,587.3 116.4,588.0 117.4,588.7 118.4,589.4 119.4,589.7 120.4,589.7 121.4,589.2 122.4,588.6 123.4,588.0 124.4,587.6 125.4,587.3 126.4,587.0 127.4,586.7 128.4,586.4 129.4,585.9 130.4,585.3 131.4,584.7 132.4,584.0 133.4,583.1 134.4,582.1 135.4,581.0 136.4,579.9 137.4,578.8 138.4,577.8 139.4,577.0 140.4,576.9 141.4,577.9 142.4,579.5 143.4,581.3 144.4,582.9 145.4,584.3 146.4,584.9 147.4,584.3 148.4,583.1 149.4,582.0 150.4,581.6 151.4,581.8 152.4,582.4 153.4,583.4 154.4,584.8 155.4,586.3 156.4,587.6 157.4,588.4 158.4,589.0 159.4,589.2 160.4,589.3 161.4,589.5 162.4,590.0 163.4,590.5 164.4,590.8 165.4,590.8 166.4,590.4 167.4,589.7 168.4,588.9 169.4,588.2 170.4,587.7 171.4,587.3 172.4,586.9 173.4,586.7 174.4,586.6 175.4,586.6 176.4,586.6 177.4,586.8 178.4,587.0 179.4,587.3 180.4,587.6 181.4,587.7 182.4,587.7 183.4,587.5 184.4,587.4 185.4,587.3 186.4,587.4 187.4,587.7 188.4,588.0 189.4,588.5 190.4,589.3 191.4,590.2 192.4,591.0 193.4,591.4 194.4,591.3 195.4,590.7 196.4,589.8 197.4,588.5 198.4,587.0 199.4,585.8 200.4,585.6 201.4,586.4 202.4,587.8 203.4,589.3 204.4,589.1 205.4,587.0 206.4,583.9 207.4,580.3 208.4,577.9 209.4,578.8 210.4,581.2 211.4,582.3 212.4,582.5 213.4,582.5 214.4,582.6 215.4,582.8 216.4,582.9 217.4,582.8 218.4,582.4 219.4,582.0 220.4,582.6 221.4,584.3 222.4,586.2 223.4,587.3 224.4,587.8 225.4,587.8 226.4,587.5 227.4,586.9 228.4,586.2 229.4,585.9 230.4,586.2 231.4,586.7 232.4,587.3 233.4,587.7 234.4,588.0 235.4,588.2 236.4,588.2 237.4,588.1 238.4,587.7 239.4,587.0 240.4,586.0 241.4,584.6 242.4,583.3 243.4,583.3 244.4,585.0 245.4,587.1 246.4,588.3 247.4,588.7 248.4,588.1 249.4,586.5 250.4,584.3 251.4,581.8 252.4,579.3 253.4,577.7 254.4,577.8 255.4,578.8 256.4,580.3 257.4,582.0 258.4,583.6 259.4,585.0 260.4,586.3 261.4,587.3 262.4,587.7 263.4,587.6 264.4,587.0 265.4,586.5 266.4,586.4 267.4,586.6 268.4,586.7 269.4,586.1 270.4,585.5 271.4,586.0 272.4,587.4 273.4,588.7 274.4,589.8 275.4,590.7 276.4,591.3 277.4,591.2 278.4,590.5 279.4,589.4 280.4,588.1 281.4,586.8 282.4,585.7 283.4,584.6 284.4,584.0 285.4,584.0 286.4,584.1 287.4,583.8 288.4,582.8 289.4,581.9 290.4,581.8 291.4,582.7 292.4,584.1 293.4,585.9 294.4,588.0 295.4,589.9 296.4,590.9 297.4,591.0 298.4,590.6 299.4,589.7 300.4,589.1 301.4,588.9 302.4,589.1 303.4,589.3 304.4,589.4 305.4,589.3 306.4,589.1 307.4,589.0 308.4,589.0 309.4,589.3 310.4,589.8 311.4,590.0 312.4,589.6 313.4,588.7 314.4,588.1 315.4,588.2 316.4,589.1 317.4,590.3 318.4,591.5 319.4,592.8 320.4,594.1 321.4,595.2 322.4,595.9 323.4,596.2 324.4,596.1 325.4,595.6 326.4,594.8 327.4,593.7 328.4,592.6 329.4,591.6 330.4,590.6 331.4,589.6 332.4,588.8 333.4,588.4 334.4,588.5 335.4,589.1 336.4,590.1 337.4,591.8 338.4,592.7 339.4,592.0 340.4,590.6 341.4,589.4 342.4,588.3 343.4,587.5 344.4,587.3 345.4,588.0 346.4,589.3 347.4,590.1 348.4,589.5 349.4,587.8 350.4,585.4 351.4,582.2 352.4,580.0 353.4,580.0 354.4,581.2 355.4,582.8 356.4,584.6 357.4,586.4 358.4,587.5 359.4,587.6 360.4,587.1 361.4,586.6 362.4,586.3 363.4,586.4 364.4,586.7 365.4,587.1 366.4,587.4 367.4,587.7 368.4,587.8 369.4,588.0 370.4,588.2 371.4,588.8 372.4,589.9 373.4,591.1 374.4,591.7 375.4,591.4 376.4,590.4 377.4,589.0 378.4,587.7 379.4,586.6 380.4,585.6 381.4,584.9 382.4,584.7 383.4,585.2 384.4,586.3 385.4,587.8 386.4,589.2 387.4,590.3 388.4,590.7 389.4,590.5 390.4,590.0 391.4,589.4 392.4,588.7 393.4,587.8 394.4,587.1 395.4,586.9 396.4,587.2 397.4,587.8 398.4,588.5 399.4,589.4 400.4,590.3 401.4,590.5 402.4,590.1 403.4,589.4 404.4,589.3 405.4,589.5 406.4,589.5 407.4,589.1 408.4,588.9 409.4,589.5 410.4,590.3 411.4,590.6 411.9,590.5" fill="none" stroke="#da3a45" stroke-width="1.05" stroke-linejoin="round" stroke-linecap="round"/>
<rect x="408.50" y="4.70" width="30.00" height="9.00" rx="1.5" fill="#ffffff" fill-opacity="0.8" stroke="#d9d9d9" stroke-width="0.7"/>
<line x1="410.70" y1="8.90" x2="422.00" y2="8.90" stroke="#efc687" stroke-width="1.25" />
<text x="426.10" y="11.40" font-size="6.3" text-anchor="start" textLength="9.90" lengthAdjust="spacingAndGlyphs" fill="#262626" style="stroke:none">WSI</text>
<rect x="386.50" y="40.70" width="50.30" height="8.80" rx="1.5" fill="#ffffff" fill-opacity="0.8" stroke="#d9d9d9" stroke-width="0.7"/>
<line x1="390.00" y1="44.80" x2="400.70" y2="44.80" stroke="#b066c4" stroke-width="1.25" />
<text x="403.30" y="47.30" font-size="6.3" text-anchor="start" textLength="31.60" lengthAdjust="spacingAndGlyphs" fill="#262626" style="stroke:none">WSI/nssSO4</text>
<rect x="375.90" y="66.60" width="63.30" height="10.70" rx="1.5" fill="#ffffff" fill-opacity="0.8" stroke="#d9d9d9" stroke-width="0.7"/>
<line x1="378.30" y1="71.65" x2="391.80" y2="71.65" stroke="#2a4a78" stroke-width="1.25" />
<text x="396.20" y="74.40" font-size="7.0" text-anchor="start" textLength="39.90" lengthAdjust="spacingAndGlyphs" fill="#262626" style="stroke:none">No tie-points</text>
<rect x="378.40" y="122.30" width="59.60" height="11.20" rx="1.5" fill="#ffffff" fill-opacity="0.8" stroke="#d9d9d9" stroke-width="0.7"/>
<line x1="380.10" y1="127.60" x2="394.50" y2="127.60" stroke="#da3a45" stroke-width="1.25" />
<text x="397.40" y="130.49" font-size="7.4" text-anchor="start" textLength="39.00" lengthAdjust="spacingAndGlyphs" fill="#262626" style="stroke:none">Unmatched</text>
<rect x="397.10" y="199.20" width="29.30" height="9.40" rx="1.5" fill="#ffffff" fill-opacity="0.8" stroke="#d9d9d9" stroke-width="0.7"/>
<line x1="399.20" y1="203.60" x2="410.00" y2="203.60" stroke="#efc687" stroke-width="1.25" />
<text x="414.10" y="206.10" font-size="6.3" text-anchor="start" textLength="10.80" lengthAdjust="spacingAndGlyphs" fill="#262626" style="stroke:none">WSI</text>
<rect x="377.30" y="229.30" width="49.90" height="9.20" rx="1.5" fill="#ffffff" fill-opacity="0.8" stroke="#d9d9d9" stroke-width="0.7"/>
<line x1="380.00" y1="233.60" x2="391.50" y2="233.60" stroke="#b066c4" stroke-width="1.25" />
<text x="393.80" y="236.11" font-size="6.3" text-anchor="start" textLength="31.20" lengthAdjust="spacingAndGlyphs" fill="#262626" style="stroke:none">WSI/nssSO4</text>
<rect x="393.60" y="261.80" width="40.60" height="9.40" rx="1.5" fill="#ffffff" fill-opacity="0.8" stroke="#d9d9d9" stroke-width="0.7"/>
<line x1="395.30" y1="266.20" x2="407.00" y2="266.20" stroke="#5fae9c" stroke-width="1.25" />
<text x="410.60" y="268.70" font-size="6.3" text-anchor="start" textLength="21.50" lengthAdjust="spacingAndGlyphs" fill="#262626" style="stroke:none">nssSO4</text>
<rect x="374.90" y="288.60" width="63.10" height="10.40" rx="1.5" fill="#ffffff" fill-opacity="0.8" stroke="#d9d9d9" stroke-width="0.7"/>
<line x1="377.00" y1="293.50" x2="390.20" y2="293.50" stroke="#2a4a78" stroke-width="1.25" />
<text x="395.10" y="296.25" font-size="7.0" text-anchor="start" textLength="40.20" lengthAdjust="spacingAndGlyphs" fill="#262626" style="stroke:none">No tie-points</text>
<rect x="377.40" y="341.70" width="60.80" height="11.70" rx="1.5" fill="#ffffff" fill-opacity="0.8" stroke="#d9d9d9" stroke-width="0.7"/>
<line x1="379.80" y1="347.25" x2="394.20" y2="347.25" stroke="#da3a45" stroke-width="1.25" />
<text x="397.20" y="350.14" font-size="7.4" text-anchor="start" textLength="38.70" lengthAdjust="spacingAndGlyphs" fill="#262626" style="stroke:none">Unmatched</text>
<rect x="407.40" y="414.30" width="29.50" height="8.90" rx="1.5" fill="#ffffff" fill-opacity="0.8" stroke="#d9d9d9" stroke-width="0.7"/>
<line x1="409.10" y1="418.45" x2="420.90" y2="418.45" stroke="#efc687" stroke-width="1.25" />
<text x="424.10" y="420.95" font-size="6.3" text-anchor="start" textLength="10.60" lengthAdjust="spacingAndGlyphs" fill="#262626" style="stroke:none">WSI</text>
<rect x="386.60" y="448.40" width="48.90" height="9.00" rx="1.5" fill="#ffffff" fill-opacity="0.8" stroke="#d9d9d9" stroke-width="0.7"/>
<line x1="389.00" y1="452.60" x2="399.20" y2="452.60" stroke="#b066c4" stroke-width="1.25" />
<text x="402.20" y="455.10" font-size="6.3" text-anchor="start" textLength="30.60" lengthAdjust="spacingAndGlyphs" fill="#262626" style="stroke:none">WSI/nssSO4</text>
<rect x="395.00" y="477.00" width="41.20" height="9.20" rx="1.5" fill="#ffffff" fill-opacity="0.8" stroke="#d9d9d9" stroke-width="0.7"/>
<line x1="397.40" y1="481.30" x2="408.80" y2="481.30" stroke="#5fae9c" stroke-width="1.25" />
<text x="413.60" y="483.81" font-size="6.3" text-anchor="start" textLength="20.40" lengthAdjust="spacingAndGlyphs" fill="#262626" style="stroke:none">nssSO4</text>
<rect x="372.60" y="509.50" width="63.60" height="10.50" rx="1.5" fill="#ffffff" fill-opacity="0.8" stroke="#d9d9d9" stroke-width="0.7"/>
<line x1="374.50" y1="514.45" x2="387.90" y2="514.45" stroke="#2a4a78" stroke-width="1.25" />
<text x="392.40" y="517.20" font-size="7.0" text-anchor="start" textLength="40.60" lengthAdjust="spacingAndGlyphs" fill="#262626" style="stroke:none">No tie-points</text>
<rect x="379.50" y="566.50" width="59.80" height="11.70" rx="1.5" fill="#ffffff" fill-opacity="0.8" stroke="#d9d9d9" stroke-width="0.7"/>
<line x1="381.20" y1="572.05" x2="395.90" y2="572.05" stroke="#da3a45" stroke-width="1.25" />
<text x="398.80" y="574.94" font-size="7.4" text-anchor="start" textLength="38.40" lengthAdjust="spacingAndGlyphs" fill="#262626" style="stroke:none">Unmatched</text>
</svg></body></html>
